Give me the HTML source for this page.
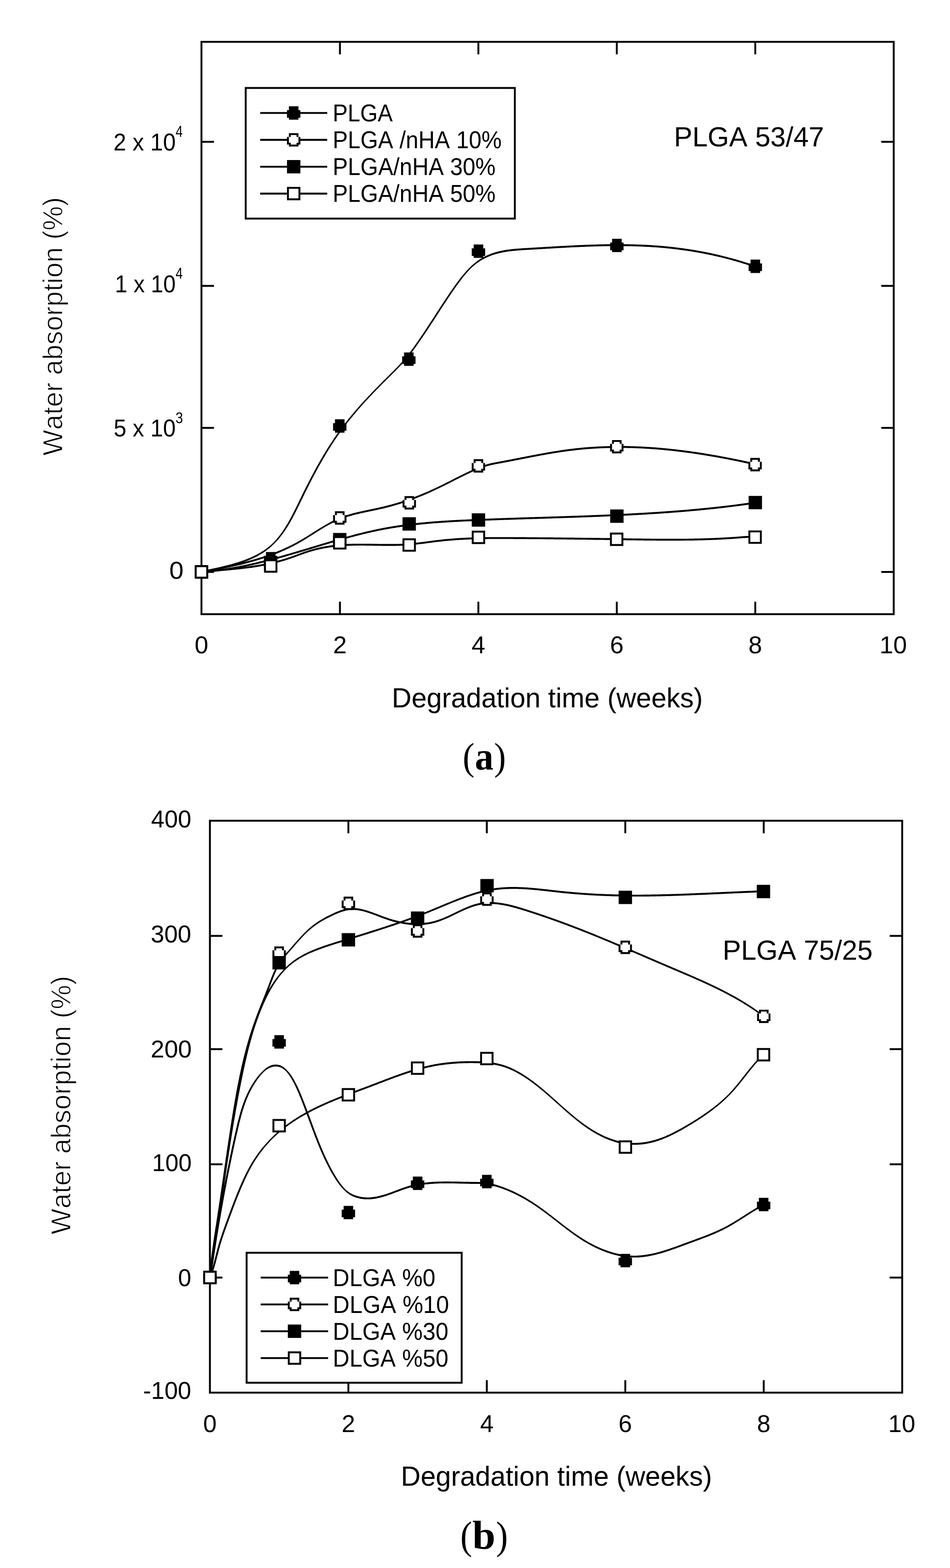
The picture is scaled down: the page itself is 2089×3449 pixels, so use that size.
<!DOCTYPE html>
<html><head><meta charset="utf-8"><title>Water absorption</title>
<style>
html,body{margin:0;padding:0;background:#fff;}
body{width:2089px;height:3449px;overflow:hidden;}
svg{display:block;}
text{font-kerning:none;fill:#000;}
</style></head>
<body>
<svg width="2089" height="3449" viewBox="0 0 2089 3449">
<rect width="2089" height="3449" fill="#fff"/>
<rect x="443.0" y="92.0" width="1522.25" height="1259.00" fill="none" stroke="#000" stroke-width="4.15"/>
<line x1="747.5" y1="1351.0" x2="747.5" y2="1323.5" stroke="#000" stroke-width="4.15"/>
<line x1="747.5" y1="92.0" x2="747.5" y2="119.5" stroke="#000" stroke-width="4.15"/>
<line x1="1051.9" y1="1351.0" x2="1051.9" y2="1323.5" stroke="#000" stroke-width="4.15"/>
<line x1="1051.9" y1="92.0" x2="1051.9" y2="119.5" stroke="#000" stroke-width="4.15"/>
<line x1="1356.3" y1="1351.0" x2="1356.3" y2="1323.5" stroke="#000" stroke-width="4.15"/>
<line x1="1356.3" y1="92.0" x2="1356.3" y2="119.5" stroke="#000" stroke-width="4.15"/>
<line x1="1660.8" y1="1351.0" x2="1660.8" y2="1323.5" stroke="#000" stroke-width="4.15"/>
<line x1="1660.8" y1="92.0" x2="1660.8" y2="119.5" stroke="#000" stroke-width="4.15"/>
<line x1="443.0" y1="311.9" x2="470.5" y2="311.9" stroke="#000" stroke-width="4.15"/>
<line x1="1965.2" y1="311.9" x2="1937.8" y2="311.9" stroke="#000" stroke-width="4.15"/>
<line x1="443.0" y1="628.8" x2="470.5" y2="628.8" stroke="#000" stroke-width="4.15"/>
<line x1="1965.2" y1="628.8" x2="1937.8" y2="628.8" stroke="#000" stroke-width="4.15"/>
<line x1="443.0" y1="941.2" x2="470.5" y2="941.2" stroke="#000" stroke-width="4.15"/>
<line x1="1965.2" y1="941.2" x2="1937.8" y2="941.2" stroke="#000" stroke-width="4.15"/>
<line x1="443.0" y1="1258.1" x2="470.5" y2="1258.1" stroke="#000" stroke-width="4.15"/>
<line x1="1965.2" y1="1258.1" x2="1937.8" y2="1258.1" stroke="#000" stroke-width="4.15"/>
<text transform="translate(249.47 330.60) scale(0.9339 1)" font-size="53.85" font-family="Liberation Sans, sans-serif" font-weight="normal">2 x 10</text>
<text transform="translate(386.36 300.80) scale(0.7866 1)" font-size="35.32" font-family="Liberation Sans, sans-serif" font-weight="normal">4</text>
<text transform="translate(252.76 643.00) scale(0.9087 1)" font-size="53.99" font-family="Liberation Sans, sans-serif" font-weight="normal">1 x 10</text>
<text transform="translate(386.36 613.30) scale(0.7866 1)" font-size="35.32" font-family="Liberation Sans, sans-serif" font-weight="normal">4</text>
<text transform="translate(249.99 959.80) scale(0.9253 1)" font-size="54.14" font-family="Liberation Sans, sans-serif" font-weight="normal">5 x 10</text>
<text transform="translate(385.88 930.50) scale(0.8347 1)" font-size="35.37" font-family="Liberation Sans, sans-serif" font-weight="normal">3</text>
<text transform="translate(372.29 1272.50) scale(1.0573 1)" font-size="53.42" font-family="Liberation Sans, sans-serif" font-weight="normal">0</text>
<text transform="translate(427.99 1437.30) scale(1.0000 1)" font-size="53.99" font-family="Liberation Sans, sans-serif" font-weight="normal">0</text>
<text transform="translate(732.44 1437.30) scale(1.0000 1)" font-size="53.99" font-family="Liberation Sans, sans-serif" font-weight="normal">2</text>
<text transform="translate(1037.06 1437.30) scale(1.0000 1)" font-size="53.99" font-family="Liberation Sans, sans-serif" font-weight="normal">4</text>
<text transform="translate(1341.15 1437.30) scale(1.0000 1)" font-size="53.99" font-family="Liberation Sans, sans-serif" font-weight="normal">6</text>
<text transform="translate(1645.79 1437.30) scale(1.0000 1)" font-size="53.99" font-family="Liberation Sans, sans-serif" font-weight="normal">8</text>
<text transform="translate(1934.22 1437.30) scale(1.0000 1)" font-size="53.99" font-family="Liberation Sans, sans-serif" font-weight="normal">10</text>
<text transform="translate(861.57 1555.70) scale(0.9813 1)" font-size="61.19" font-family="Liberation Sans, sans-serif" font-weight="normal">Degradation time (weeks)</text>
<text transform="translate(136.60 1002.26) rotate(-90) scale(0.9726 1)" font-size="61.92" font-family="Liberation Sans, sans-serif" stroke="#fff" stroke-width="1.3">Water absorption (%)</text>
<rect x="540.3" y="193.5" width="591.8" height="287.3" fill="#fff" stroke="#000" stroke-width="4.15"/>
<line x1="572.1" y1="248.5" x2="719.5" y2="248.5" stroke="#000" stroke-width="4.15"/>
<polygon points="635.3,233.8 656.3,233.8 656.3,242.2 660.5,242.2 660.5,259.0 656.3,259.0 656.3,263.2 635.3,263.2 635.3,259.0 631.1,259.0 631.1,242.2 635.3,242.2" fill="#000"/>
<line x1="572.1" y1="307.6" x2="719.5" y2="307.6" stroke="#000" stroke-width="4.15"/>
<polygon points="635.3,292.9 656.3,292.9 656.3,301.3 660.5,301.3 660.5,318.1 656.3,318.1 656.3,322.3 635.3,322.3 635.3,318.1 631.1,318.1 631.1,301.3 635.3,301.3" fill="#000"/><polygon points="639.5,297.1 652.1,297.1 652.1,301.3 656.3,301.3 656.3,313.9 652.1,313.9 652.1,318.1 639.5,318.1 639.5,313.9 635.3,313.9 635.3,301.3 639.5,301.3" fill="#fff"/>
<line x1="572.1" y1="366.7" x2="719.5" y2="366.7" stroke="#000" stroke-width="4.15"/>
<rect x="631.1" y="352.0" width="29.4" height="29.4" fill="#000"/>
<line x1="572.1" y1="425.8" x2="719.5" y2="425.8" stroke="#000" stroke-width="4.15"/>
<rect x="631.1" y="411.1" width="29.4" height="29.4" fill="#000"/><rect x="635.3" y="415.3" width="21.0" height="21.0" fill="#fff"/>
<text transform="translate(731.44 266.80) scale(0.9312 1)" font-size="53.20" font-family="Liberation Sans, sans-serif" font-weight="normal">PLGA</text>
<text transform="translate(731.40 325.90) scale(0.9385 1)" font-size="53.20" font-family="Liberation Sans, sans-serif" font-weight="normal">PLGA /nHA 10%</text>
<text transform="translate(731.40 385.00) scale(0.9395 1)" font-size="53.20" font-family="Liberation Sans, sans-serif" font-weight="normal">PLGA/nHA 30%</text>
<text transform="translate(731.40 444.10) scale(0.9395 1)" font-size="53.20" font-family="Liberation Sans, sans-serif" font-weight="normal">PLGA/nHA 50%</text>
<text transform="translate(1482.03 322.00) scale(1.0042 1)" font-size="60.32" font-family="Liberation Sans, sans-serif" font-weight="normal">PLGA 53/47</text>
<polygon points="443.0,1260.1 444.8,1259.7 446.6,1259.3 448.4,1259.0 450.3,1258.6 452.1,1258.2 454.0,1257.8 455.9,1257.4 457.7,1257.0 459.6,1256.6 461.5,1256.2 463.4,1255.8 465.4,1255.4 467.3,1255.0 469.2,1254.6 471.1,1254.2 473.1,1253.8 475.0,1253.3 477.0,1252.9 479.0,1252.5 480.9,1252.0 482.9,1251.6 484.9,1251.1 486.9,1250.7 488.8,1250.2 490.8,1249.7 492.8,1249.3 494.8,1248.8 496.8,1248.3 498.8,1247.8 500.8,1247.3 502.8,1246.7 504.8,1246.2 506.8,1245.7 508.8,1245.1 510.8,1244.6 512.8,1244.0 514.7,1243.4 516.7,1242.8 518.7,1242.2 520.7,1241.6 522.7,1241.0 524.6,1240.4 526.6,1239.7 528.6,1239.1 530.5,1238.4 532.5,1237.8 534.4,1237.1 536.4,1236.4 538.3,1235.7 540.2,1234.9 542.1,1234.2 544.0,1233.4 545.9,1232.7 547.8,1231.9 549.7,1231.1 551.6,1230.3 553.4,1229.4 555.3,1228.6 557.1,1227.8 558.9,1226.9 560.7,1226.0 562.5,1225.1 564.3,1224.2 566.1,1223.2 567.9,1222.3 569.6,1221.3 571.3,1220.3 573.1,1219.3 574.8,1218.3 576.4,1217.3 578.1,1216.2 579.8,1215.1 581.4,1214.0 583.0,1212.9 584.6,1211.8 586.2,1210.6 587.7,1209.5 589.3,1208.3 590.8,1207.0 592.3,1205.8 593.8,1204.6 595.3,1203.3 596.7,1202.0 598.1,1200.7 599.5,1199.3 600.9,1198.0 604.4,1194.6 605.7,1193.2 607.1,1191.8 608.4,1190.3 609.7,1188.9 611.0,1187.5 612.3,1186.0 613.6,1184.5 614.8,1183.0 616.0,1181.5 617.2,1180.0 618.4,1178.4 619.6,1176.9 620.8,1175.3 622.0,1173.7 623.1,1172.2 624.3,1170.6 625.4,1168.9 626.5,1167.3 627.6,1165.7 628.7,1164.0 629.8,1162.3 630.8,1160.7 631.9,1159.0 633.0,1157.3 634.0,1155.6 635.0,1153.9 636.0,1152.2 637.1,1150.4 638.1,1148.7 639.1,1146.9 640.0,1145.2 641.0,1143.4 642.0,1141.7 643.0,1139.9 643.9,1138.1 644.9,1136.3 645.8,1134.5 646.8,1132.7 647.7,1130.9 648.6,1129.1 649.6,1127.3 650.5,1125.5 651.4,1123.7 652.3,1121.9 653.2,1120.0 654.1,1118.2 655.0,1116.4 655.9,1114.6 656.8,1112.7 657.7,1110.9 658.6,1109.1 659.5,1107.2 660.4,1105.4 661.3,1103.5 662.2,1101.7 663.1,1099.9 664.0,1098.0 664.9,1096.2 665.8,1094.4 666.7,1092.5 667.6,1090.7 668.5,1088.9 669.3,1087.1 670.2,1085.2 671.1,1083.4 672.0,1081.6 672.9,1079.8 673.9,1078.0 674.8,1076.2 675.7,1074.4 676.6,1072.6 677.5,1070.7 678.4,1068.9 679.3,1067.1 680.2,1065.3 681.1,1063.5 682.1,1061.8 683.0,1060.0 683.9,1058.2 684.8,1056.4 685.7,1054.6 686.7,1052.8 687.6,1051.0 688.5,1049.3 689.5,1047.5 690.4,1045.7 691.4,1043.9 692.3,1042.2 693.2,1040.4 694.2,1038.6 695.1,1036.9 696.1,1035.1 697.0,1033.3 698.0,1031.6 699.0,1029.8 699.9,1028.1 700.9,1026.3 701.9,1024.6 702.8,1022.9 703.8,1021.1 704.8,1019.4 705.8,1017.6 706.8,1015.9 707.8,1014.2 708.7,1012.5 709.7,1010.7 710.7,1009.0 711.7,1007.3 712.8,1005.6 713.8,1003.9 714.8,1002.1 715.8,1000.4 716.8,998.7 717.8,997.0 718.9,995.3 719.9,993.6 720.9,991.9 722.0,990.3 723.0,988.6 724.1,986.9 725.1,985.2 726.2,983.5 727.3,981.8 728.3,980.2 729.4,978.5 730.5,976.8 731.6,975.2 732.6,973.5 733.7,971.9 734.8,970.2 735.9,968.5 737.0,966.9 738.1,965.3 739.3,963.6 740.4,962.0 741.5,960.3 742.6,958.7 743.8,957.1 744.9,955.4 746.0,953.8 747.2,952.2 748.4,950.6 749.5,949.0 750.7,947.4 751.9,945.8 753.0,944.2 754.2,942.6 755.4,941.0 756.6,939.4 757.8,937.8 759.0,936.2 760.2,934.6 761.4,933.0 762.7,931.5 763.9,929.9 765.1,928.3 766.4,926.7 767.6,925.2 768.8,923.6 770.1,922.1 771.4,920.5 772.6,919.0 773.9,917.4 775.2,915.9 776.4,914.3 777.7,912.8 779.0,911.3 780.3,909.7 781.6,908.2 782.9,906.7 784.2,905.1 785.5,903.6 786.8,902.1 788.1,900.6 789.4,899.1 790.7,897.6 792.1,896.1 793.4,894.5 794.7,893.0 796.1,891.5 797.4,890.1 798.7,888.6 800.1,887.1 801.4,885.6 802.8,884.1 804.1,882.6 805.5,881.1 806.9,879.6 808.2,878.2 809.6,876.7 811.0,875.2 812.3,873.8 813.7,872.3 815.1,870.8 816.5,869.4 817.8,867.9 819.2,866.5 820.6,865.0 822.0,863.6 823.4,862.1 824.8,860.7 826.2,859.2 827.6,857.8 829.0,856.3 830.4,854.9 831.8,853.5 833.2,852.0 834.6,850.6 836.0,849.2 837.4,847.7 838.8,846.3 840.2,844.9 841.7,843.5 843.1,842.0 844.5,840.6 843.8,841.3 845.2,839.9 846.7,838.5 848.1,837.0 849.5,835.6 850.9,834.2 852.3,832.8 853.8,831.4 855.2,830.0 856.6,828.6 858.0,827.2 859.4,825.8 860.9,824.4 862.3,823.0 863.7,821.6 867.2,818.1 868.6,816.7 870.0,815.3 871.4,813.8 872.8,812.4 874.2,811.0 875.5,809.6 876.9,808.2 878.3,806.7 879.7,805.3 881.0,803.8 882.4,802.4 883.7,800.9 885.1,799.5 886.4,798.0 887.7,796.5 889.1,795.1 890.4,793.6 891.7,792.1 893.0,790.6 894.3,789.1 895.5,787.6 896.8,786.0 898.1,784.5 899.3,783.0 900.5,781.4 901.8,779.8 903.0,778.3 904.2,776.7 905.4,775.1 906.6,773.5 907.8,771.9 909.0,770.3 910.1,768.7 911.3,767.1 912.5,765.5 913.6,763.9 914.8,762.3 915.9,760.7 917.1,759.0 918.2,757.4 919.4,755.8 920.5,754.1 921.7,752.5 922.8,750.9 923.9,749.2 925.1,747.6 926.2,745.9 927.3,744.3 928.5,742.6 929.6,741.0 930.7,739.3 931.8,737.7 932.9,736.0 934.0,734.4 935.2,732.7 936.3,731.0 937.4,729.4 938.5,727.7 939.6,726.0 940.7,724.4 941.8,722.7 942.9,721.0 944.0,719.3 945.1,717.7 946.2,716.0 947.3,714.3 948.4,712.6 949.5,711.0 950.6,709.3 951.7,707.6 952.8,705.9 953.9,704.3 955.0,702.6 956.1,700.9 957.1,699.2 958.2,697.5 959.3,695.8 960.4,694.2 961.5,692.5 962.6,690.8 963.7,689.1 964.8,687.4 965.9,685.7 966.9,684.1 968.0,682.4 969.1,680.7 970.2,679.0 971.3,677.3 972.4,675.7 973.5,674.0 974.6,672.3 975.7,670.6 976.8,668.9 977.9,667.3 979.0,665.6 980.1,663.9 981.2,662.2 982.3,660.5 983.4,658.9 984.5,657.2 985.6,655.5 986.7,653.9 987.8,652.2 988.9,650.5 990.1,648.9 991.2,647.2 992.3,645.5 993.5,643.9 994.6,642.2 995.7,640.5 996.9,638.9 998.0,637.2 999.2,635.6 1000.3,633.9 1001.5,632.3 1002.7,630.6 1003.8,629.0 1005.0,627.3 1006.2,625.7 1007.4,624.1 1008.6,622.4 1009.8,620.8 1011.0,619.2 1012.2,617.5 1013.4,615.9 1014.7,614.3 1015.9,612.7 1017.2,611.1 1018.4,609.5 1019.7,607.9 1021.0,606.4 1022.2,604.8 1023.5,603.3 1024.8,601.7 1026.2,600.2 1027.5,598.7 1028.8,597.2 1030.2,595.7 1031.5,594.3 1032.9,592.8 1034.3,591.4 1033.6,592.1 1035.0,590.7 1036.5,589.3 1037.9,587.9 1039.4,586.6 1040.8,585.3 1042.3,584.0 1043.8,582.8 1045.4,581.5 1046.9,580.3 1048.5,579.1 1050.1,578.0 1051.6,576.9 1053.3,575.8 1054.9,574.7 1056.5,573.6 1058.2,572.6 1059.9,571.6 1061.6,570.7 1063.3,569.7 1065.0,568.8 1066.8,567.9 1068.5,567.1 1070.3,566.2 1072.1,565.4 1073.9,564.7 1075.7,563.9 1077.6,563.2 1079.4,562.5 1081.2,561.8 1083.1,561.1 1085.0,560.5 1086.9,559.9 1088.8,559.3 1090.7,558.8 1092.6,558.2 1094.5,557.7 1096.4,557.2 1098.4,556.7 1100.3,556.3 1102.3,555.9 1104.2,555.5 1106.2,555.1 1108.1,554.7 1110.1,554.3 1112.1,554.0 1114.1,553.7 1116.1,553.4 1118.1,553.1 1120.1,552.9 1122.1,552.6 1124.1,552.4 1126.1,552.1 1128.1,551.9 1130.1,551.7 1132.1,551.5 1134.2,551.4 1136.2,551.2 1138.2,551.0 1140.2,550.9 1142.3,550.7 1144.3,550.6 1146.3,550.4 1148.4,550.3 1150.4,550.2 1152.4,550.1 1154.4,549.9 1156.5,549.8 1158.5,549.7 1160.5,549.6 1162.6,549.5 1164.6,549.4 1166.6,549.2 1168.6,549.1 1170.7,549.0 1172.7,548.9 1174.7,548.8 1176.7,548.7 1178.7,548.5 1180.7,548.4 1182.8,548.3 1184.8,548.2 1186.8,548.1 1188.8,548.0 1190.8,547.8 1192.8,547.7 1194.8,547.6 1196.8,547.5 1198.8,547.4 1200.8,547.2 1202.8,547.1 1204.8,547.0 1206.8,546.9 1208.8,546.8 1210.8,546.7 1212.8,546.5 1214.8,546.4 1216.8,546.3 1218.8,546.2 1220.8,546.1 1222.8,546.0 1224.8,545.8 1226.8,545.7 1228.8,545.6 1230.8,545.5 1232.8,545.4 1234.8,545.3 1236.8,545.2 1238.8,545.1 1240.7,545.0 1242.7,544.9 1244.7,544.8 1246.7,544.6 1248.7,544.5 1250.7,544.4 1252.7,544.3 1254.7,544.2 1256.7,544.1 1258.7,544.0 1260.6,543.9 1262.6,543.8 1264.6,543.8 1266.6,543.7 1268.6,543.6 1270.6,543.5 1272.6,543.4 1274.6,543.3 1276.6,543.2 1278.6,543.1 1280.5,543.0 1282.5,543.0 1284.5,542.9 1286.5,542.8 1288.5,542.7 1290.5,542.6 1292.5,542.6 1294.5,542.5 1296.5,542.4 1298.5,542.4 1300.5,542.3 1302.5,542.2 1304.5,542.2 1306.5,542.1 1308.5,542.0 1310.5,542.0 1312.5,541.9 1314.5,541.9 1316.5,541.8 1318.5,541.8 1320.5,541.7 1322.5,541.7 1324.5,541.6 1326.5,541.6 1328.5,541.6 1330.5,541.5 1332.5,541.5 1334.5,541.5 1336.5,541.4 1338.5,541.4 1340.5,541.4 1342.5,541.4 1344.5,541.3 1346.5,541.3 1348.5,541.3 1350.5,541.3 1352.5,541.3 1354.5,541.3 1356.5,541.3 1358.5,541.3 1360.5,541.3 1362.5,541.3 1364.5,541.3 1366.5,541.3 1368.5,541.3 1370.5,541.3 1372.5,541.3 1374.5,541.4 1376.5,541.4 1378.5,541.4 1380.6,541.5 1382.6,541.5 1384.6,541.5 1386.6,541.6 1388.6,541.6 1390.6,541.7 1392.6,541.7 1394.6,541.8 1396.6,541.8 1398.6,541.9 1400.6,541.9 1402.6,542.0 1404.6,542.1 1406.6,542.2 1408.6,542.2 1410.6,542.3 1412.6,542.4 1414.6,542.5 1416.6,542.6 1418.6,542.7 1420.6,542.8 1422.6,542.9 1424.6,543.0 1426.6,543.1 1428.6,543.2 1430.6,543.3 1432.6,543.5 1434.6,543.6 1436.7,543.7 1438.7,543.9 1440.7,544.0 1442.7,544.1 1444.7,544.3 1446.7,544.4 1448.7,544.6 1450.7,544.8 1452.7,544.9 1454.7,545.1 1456.6,545.3 1458.6,545.4 1460.6,545.6 1462.6,545.8 1464.6,546.0 1466.6,546.2 1468.6,546.4 1470.6,546.6 1472.6,546.8 1474.6,547.0 1476.6,547.2 1478.6,547.5 1480.6,547.7 1482.6,547.9 1484.6,548.2 1486.6,548.4 1488.6,548.6 1490.6,548.9 1492.5,549.1 1494.5,549.4 1496.5,549.7 1498.5,549.9 1500.5,550.2 1502.5,550.5 1504.5,550.7 1506.5,551.0 1508.4,551.3 1510.4,551.6 1512.4,551.9 1514.4,552.2 1516.4,552.5 1518.4,552.8 1520.3,553.1 1522.3,553.5 1524.3,553.8 1526.3,554.1 1528.3,554.4 1530.2,554.8 1532.2,555.1 1534.2,555.5 1536.2,555.8 1538.1,556.2 1540.1,556.5 1542.1,556.9 1544.0,557.3 1546.0,557.6 1548.0,558.0 1550.0,558.4 1551.9,558.8 1553.9,559.2 1555.8,559.6 1557.8,560.0 1559.8,560.4 1561.7,560.8 1563.7,561.2 1565.7,561.6 1567.6,562.1 1569.6,562.5 1571.5,562.9 1573.5,563.4 1575.4,563.8 1577.4,564.3 1579.3,564.7 1581.3,565.2 1583.2,565.6 1585.2,566.1 1587.1,566.6 1589.1,567.1 1591.0,567.5 1593.0,568.0 1594.9,568.5 1596.8,569.0 1598.8,569.5 1600.7,570.0 1602.6,570.5 1604.6,571.1 1606.5,571.6 1608.4,572.1 1610.4,572.6 1612.3,573.2 1614.2,573.7 1616.2,574.2 1618.1,574.8 1620.0,575.3 1621.9,575.9 1623.8,576.5 1625.8,577.0 1627.7,577.6 1629.6,578.2 1631.5,578.8 1633.4,579.4 1635.3,579.9 1637.2,580.5 1639.1,581.1 1641.0,581.7 1642.9,582.4 1644.8,583.0 1646.7,583.6 1648.6,584.2 1650.5,584.9 1652.4,585.5 1654.3,586.1 1656.2,586.8 1658.1,587.4 1660.0,588.1 1660.0,583.9 1658.1,583.3 1656.2,582.6 1654.3,582.0 1652.4,581.3 1650.5,580.7 1648.6,580.1 1646.7,579.4 1644.8,578.8 1642.9,578.2 1641.0,577.6 1639.1,577.0 1637.2,576.4 1635.3,575.8 1633.4,575.2 1631.5,574.6 1629.6,574.0 1627.7,573.4 1625.8,572.9 1623.8,572.3 1621.9,571.7 1620.0,571.2 1618.1,570.6 1616.2,570.1 1614.2,569.5 1612.3,569.0 1610.4,568.5 1608.4,567.9 1606.5,567.4 1604.6,566.9 1602.6,566.4 1600.7,565.9 1598.8,565.3 1596.8,564.8 1594.9,564.4 1593.0,563.9 1591.0,563.4 1589.1,562.9 1587.1,562.4 1585.2,561.9 1583.2,561.5 1581.3,561.0 1579.3,560.6 1577.4,560.1 1575.4,559.7 1573.5,559.2 1571.5,558.8 1569.6,558.3 1567.6,557.9 1565.7,557.5 1563.7,557.1 1561.7,556.6 1559.8,556.2 1557.8,555.8 1555.8,555.4 1553.9,555.0 1551.9,554.6 1550.0,554.2 1548.0,553.9 1546.0,553.5 1544.0,553.1 1542.1,552.7 1540.1,552.4 1538.1,552.0 1536.2,551.7 1534.2,551.3 1532.2,551.0 1530.2,550.6 1528.3,550.3 1526.3,549.9 1524.3,549.6 1522.3,549.3 1520.3,549.0 1518.4,548.7 1516.4,548.3 1514.4,548.0 1512.4,547.7 1510.4,547.4 1508.4,547.1 1506.5,546.9 1504.5,546.6 1502.5,546.3 1500.5,546.0 1498.5,545.7 1496.5,545.5 1494.5,545.2 1492.5,545.0 1490.6,544.7 1488.6,544.5 1486.6,544.2 1484.6,544.0 1482.6,543.7 1480.6,543.5 1478.6,543.3 1476.6,543.1 1474.6,542.9 1472.6,542.6 1470.6,542.4 1468.6,542.2 1466.6,542.0 1464.6,541.8 1462.6,541.6 1460.6,541.5 1458.6,541.3 1456.6,541.1 1454.7,540.9 1452.7,540.8 1450.7,540.6 1448.7,540.4 1446.7,540.3 1444.7,540.1 1442.7,540.0 1440.7,539.8 1438.7,539.7 1436.7,539.6 1434.6,539.4 1432.6,539.3 1430.6,539.2 1428.6,539.1 1426.6,538.9 1424.6,538.8 1422.6,538.7 1420.6,538.6 1418.6,538.5 1416.6,538.4 1414.6,538.3 1412.6,538.2 1410.6,538.2 1408.6,538.1 1406.6,538.0 1404.6,537.9 1402.6,537.8 1400.6,537.8 1398.6,537.7 1396.6,537.7 1394.6,537.6 1392.6,537.5 1390.6,537.5 1388.6,537.4 1386.6,537.4 1384.6,537.4 1382.6,537.3 1380.6,537.3 1378.5,537.3 1376.5,537.2 1374.5,537.2 1372.5,537.2 1370.5,537.2 1368.5,537.1 1366.5,537.1 1364.5,537.1 1362.5,537.1 1360.5,537.1 1358.5,537.1 1356.5,537.1 1354.5,537.1 1352.5,537.1 1350.5,537.1 1348.5,537.1 1346.5,537.1 1344.5,537.2 1342.5,537.2 1340.5,537.2 1338.5,537.2 1336.5,537.3 1334.5,537.3 1332.5,537.3 1330.5,537.3 1328.5,537.4 1326.5,537.4 1324.5,537.5 1322.5,537.5 1320.5,537.6 1318.5,537.6 1316.5,537.6 1314.5,537.7 1312.5,537.8 1310.5,537.8 1308.5,537.9 1306.5,537.9 1304.5,538.0 1302.5,538.1 1300.5,538.1 1298.5,538.2 1296.5,538.3 1294.5,538.3 1292.5,538.4 1290.5,538.5 1288.5,538.5 1286.5,538.6 1284.5,538.7 1282.5,538.8 1280.5,538.9 1278.6,539.0 1276.6,539.0 1274.6,539.1 1272.6,539.2 1270.6,539.3 1268.6,539.4 1266.6,539.5 1264.6,539.6 1262.6,539.7 1260.6,539.8 1258.7,539.9 1256.7,540.0 1254.7,540.1 1252.7,540.2 1250.7,540.3 1248.7,540.4 1246.7,540.5 1244.7,540.6 1242.7,540.7 1240.7,540.8 1238.8,540.9 1236.8,541.0 1234.8,541.1 1232.8,541.2 1230.8,541.3 1228.8,541.5 1226.8,541.6 1224.8,541.7 1222.8,541.8 1220.8,541.9 1218.8,542.0 1216.8,542.1 1214.8,542.3 1212.8,542.4 1210.8,542.5 1208.8,542.6 1206.8,542.7 1204.8,542.8 1202.8,543.0 1200.8,543.1 1198.8,543.2 1196.8,543.3 1194.8,543.4 1192.8,543.5 1190.8,543.7 1188.8,543.8 1186.8,543.9 1184.8,544.0 1182.8,544.1 1180.7,544.3 1178.7,544.4 1176.7,544.5 1174.7,544.6 1172.7,544.7 1170.7,544.8 1168.6,545.0 1166.6,545.1 1164.6,545.2 1162.6,545.3 1160.5,545.4 1158.5,545.5 1156.5,545.7 1154.4,545.8 1152.4,545.9 1150.4,546.0 1148.4,546.1 1146.3,546.3 1144.3,546.4 1142.3,546.6 1140.2,546.7 1138.2,546.9 1136.2,547.0 1134.2,547.2 1132.1,547.4 1130.1,547.6 1128.1,547.8 1126.1,548.0 1124.1,548.2 1122.1,548.4 1120.1,548.7 1118.1,549.0 1116.1,549.2 1114.1,549.5 1112.1,549.8 1110.1,550.2 1108.1,550.5 1106.2,550.9 1104.2,551.3 1102.3,551.7 1100.3,552.1 1098.4,552.6 1096.4,553.0 1094.5,553.5 1092.6,554.0 1090.7,554.6 1088.8,555.1 1086.9,555.7 1085.0,556.3 1083.1,557.0 1081.2,557.6 1079.4,558.3 1077.6,559.0 1075.7,559.7 1073.9,560.5 1072.1,561.3 1070.3,562.1 1068.5,562.9 1066.8,563.8 1065.0,564.7 1063.3,565.6 1061.6,566.5 1059.9,567.5 1058.2,568.4 1056.5,569.5 1054.9,570.5 1053.3,571.6 1051.6,572.7 1050.1,573.8 1048.5,575.0 1046.9,576.2 1045.4,577.4 1043.8,578.6 1042.3,579.9 1040.8,581.1 1039.4,582.5 1037.9,583.8 1036.5,585.1 1035.0,586.5 1033.6,587.9 1030.1,591.4 1028.7,592.8 1027.4,594.3 1026.0,595.7 1024.6,597.2 1023.3,598.7 1022.0,600.2 1020.7,601.7 1019.4,603.3 1018.1,604.8 1016.8,606.4 1015.5,607.9 1014.2,609.5 1013.0,611.1 1011.7,612.7 1010.5,614.3 1009.3,615.9 1008.1,617.5 1006.8,619.2 1005.6,620.8 1004.4,622.4 1003.2,624.1 1002.0,625.7 1000.9,627.3 999.7,629.0 998.5,630.6 997.3,632.3 996.2,633.9 995.0,635.6 993.9,637.2 992.7,638.9 991.6,640.5 990.4,642.2 989.3,643.9 988.1,645.5 987.0,647.2 985.9,648.9 984.8,650.5 983.6,652.2 982.5,653.9 981.4,655.5 980.3,657.2 979.2,658.9 978.1,660.5 977.0,662.2 975.9,663.9 974.8,665.6 973.7,667.3 972.6,668.9 971.5,670.6 970.4,672.3 969.3,674.0 968.2,675.7 967.1,677.3 966.0,679.0 965.0,680.7 963.9,682.4 962.8,684.1 961.7,685.7 960.6,687.4 959.5,689.1 958.4,690.8 957.3,692.5 956.2,694.2 955.2,695.8 954.1,697.5 953.0,699.2 951.9,700.9 950.8,702.6 949.7,704.3 948.6,705.9 947.5,707.6 946.4,709.3 945.3,711.0 944.2,712.6 943.1,714.3 942.0,716.0 940.9,717.7 939.8,719.3 938.7,721.0 937.6,722.7 936.5,724.4 935.4,726.0 934.3,727.7 933.2,729.4 932.1,731.0 931.0,732.7 929.9,734.4 928.8,736.0 927.6,737.7 926.5,739.3 925.4,741.0 924.3,742.6 923.2,744.3 922.0,745.9 920.9,747.6 919.8,749.2 918.6,750.9 917.5,752.5 916.4,754.1 915.2,755.8 914.1,757.4 912.9,759.0 911.8,760.7 910.6,762.3 909.5,763.9 908.3,765.5 907.1,767.1 906.0,768.7 904.8,770.3 903.6,771.9 902.4,773.5 901.2,775.1 900.0,776.7 898.8,778.3 897.6,779.8 896.4,781.4 895.1,783.0 893.9,784.5 892.6,786.0 891.4,787.6 890.1,789.1 888.8,790.6 887.5,792.1 886.2,793.6 884.9,795.1 883.6,796.5 882.2,798.0 880.9,799.5 879.6,800.9 878.2,802.4 876.9,803.8 875.5,805.3 874.1,806.7 872.8,808.2 871.4,809.6 870.0,811.0 868.6,812.4 867.2,813.8 865.8,815.3 864.4,816.7 863.0,818.1 863.7,817.4 862.3,818.8 860.9,820.2 859.4,821.6 858.0,823.0 856.6,824.4 855.2,825.8 853.8,827.3 852.3,828.7 850.9,830.1 849.5,831.5 848.1,832.9 846.7,834.3 845.2,835.7 843.8,837.1 840.3,840.6 838.9,842.0 837.5,843.5 836.1,844.9 834.7,846.3 833.2,847.7 831.8,849.2 830.4,850.6 829.0,852.0 827.6,853.5 826.2,854.9 824.8,856.3 823.4,857.8 822.0,859.2 820.6,860.7 819.2,862.1 817.8,863.6 816.4,865.0 815.1,866.5 813.7,867.9 812.3,869.4 810.9,870.8 809.5,872.3 808.2,873.8 806.8,875.2 805.4,876.7 804.1,878.2 802.7,879.6 801.3,881.1 800.0,882.6 798.6,884.1 797.3,885.6 795.9,887.1 794.6,888.6 793.2,890.1 791.9,891.5 790.6,893.0 789.2,894.5 787.9,896.1 786.6,897.6 785.3,899.1 783.9,900.6 782.6,902.1 781.3,903.6 780.0,905.1 778.7,906.7 777.4,908.2 776.1,909.7 774.8,911.3 773.5,912.8 772.3,914.3 771.0,915.9 769.7,917.4 768.4,919.0 767.2,920.5 765.9,922.1 764.7,923.6 763.4,925.2 762.2,926.7 761.0,928.3 759.7,929.9 758.5,931.5 757.3,933.0 756.1,934.6 754.8,936.2 753.6,937.8 752.4,939.4 751.2,941.0 750.0,942.6 748.9,944.2 747.7,945.8 746.5,947.4 745.3,949.0 744.2,950.6 743.0,952.2 741.9,953.8 740.7,955.4 739.6,957.1 738.5,958.7 737.3,960.3 736.2,962.0 735.1,963.6 734.0,965.3 732.9,966.9 731.8,968.5 730.7,970.2 729.6,971.9 728.5,973.5 727.4,975.2 726.3,976.8 725.2,978.5 724.2,980.2 723.1,981.8 722.0,983.5 721.0,985.2 719.9,986.9 718.9,988.6 717.8,990.3 716.8,991.9 715.7,993.6 714.7,995.3 713.7,997.0 712.6,998.7 711.6,1000.4 710.6,1002.1 709.6,1003.9 708.6,1005.6 707.6,1007.3 706.6,1009.0 705.6,1010.7 704.6,1012.5 703.6,1014.2 702.6,1015.9 701.6,1017.6 700.6,1019.4 699.6,1021.1 698.7,1022.9 697.7,1024.6 696.7,1026.3 695.8,1028.1 694.8,1029.8 693.8,1031.6 692.9,1033.3 691.9,1035.1 691.0,1036.9 690.0,1038.6 689.1,1040.4 688.1,1042.2 687.2,1043.9 686.2,1045.7 685.3,1047.5 684.4,1049.3 683.4,1051.0 682.5,1052.8 681.6,1054.6 680.7,1056.4 679.7,1058.2 678.8,1060.0 677.9,1061.8 677.0,1063.5 676.1,1065.3 675.1,1067.1 674.2,1068.9 673.3,1070.7 672.4,1072.6 671.5,1074.4 670.6,1076.2 669.7,1078.0 668.8,1079.8 667.9,1081.6 667.0,1083.4 666.1,1085.2 665.2,1087.1 664.3,1088.9 663.4,1090.7 662.5,1092.5 661.6,1094.4 660.7,1096.2 659.8,1098.0 658.9,1099.9 658.0,1101.7 657.1,1103.5 656.2,1105.4 655.4,1107.2 654.5,1109.1 653.6,1110.9 652.7,1112.7 651.8,1114.6 650.9,1116.4 650.0,1118.2 649.1,1120.0 648.1,1121.9 647.2,1123.7 646.3,1125.5 645.4,1127.3 644.5,1129.1 643.5,1130.9 642.6,1132.7 641.7,1134.5 640.7,1136.3 639.8,1138.1 638.8,1139.9 637.8,1141.7 636.9,1143.4 635.9,1145.2 634.9,1146.9 633.9,1148.7 632.9,1150.4 631.9,1152.2 630.9,1153.9 629.8,1155.6 628.8,1157.3 627.7,1159.0 626.7,1160.7 625.6,1162.3 624.5,1164.0 623.4,1165.7 622.3,1167.3 621.2,1168.9 620.1,1170.6 619.0,1172.2 617.8,1173.7 616.6,1175.3 615.5,1176.9 614.3,1178.4 613.1,1180.0 611.9,1181.5 610.6,1183.0 609.4,1184.5 608.1,1186.0 606.8,1187.5 605.6,1188.9 604.2,1190.3 602.9,1191.8 601.6,1193.2 600.2,1194.6 600.9,1193.8 599.5,1195.2 598.1,1196.5 596.7,1197.8 595.3,1199.1 593.8,1200.4 592.3,1201.6 590.8,1202.9 589.3,1204.1 587.7,1205.3 586.2,1206.5 584.6,1207.6 583.0,1208.7 581.4,1209.9 579.8,1211.0 578.1,1212.0 576.4,1213.1 574.8,1214.1 573.1,1215.2 571.3,1216.2 569.6,1217.1 567.9,1218.1 566.1,1219.1 564.3,1220.0 562.5,1220.9 560.7,1221.8 558.9,1222.7 557.1,1223.6 555.3,1224.4 553.4,1225.3 551.6,1226.1 549.7,1226.9 547.8,1227.7 545.9,1228.5 544.0,1229.3 542.1,1230.0 540.2,1230.8 538.3,1231.5 536.4,1232.2 534.4,1232.9 532.5,1233.6 530.5,1234.3 528.6,1234.9 526.6,1235.6 524.6,1236.2 522.7,1236.8 520.7,1237.5 518.7,1238.1 516.7,1238.7 514.7,1239.2 512.8,1239.8 510.8,1240.4 508.8,1240.9 506.8,1241.5 504.8,1242.0 502.8,1242.6 500.8,1243.1 498.8,1243.6 496.8,1244.1 494.8,1244.6 492.8,1245.1 490.8,1245.6 488.8,1246.0 486.9,1246.5 484.9,1247.0 482.9,1247.4 480.9,1247.9 479.0,1248.3 477.0,1248.7 475.0,1249.2 473.1,1249.6 471.1,1250.0 469.2,1250.4 467.3,1250.8 465.4,1251.3 463.4,1251.7 461.5,1252.1 459.6,1252.5 457.7,1252.9 455.9,1253.2 454.0,1253.6 452.1,1254.0 450.3,1254.4 448.4,1254.8 446.6,1255.2 444.8,1255.5 443.0,1255.9" fill="#000"/>
<polygon points="443.0,1260.1 445.0,1259.7 446.9,1259.4 448.9,1259.0 450.8,1258.6 452.8,1258.3 454.8,1257.9 456.7,1257.6 458.7,1257.2 460.6,1256.8 462.6,1256.5 464.6,1256.1 466.5,1255.7 468.5,1255.3 470.5,1255.0 472.4,1254.6 474.4,1254.2 476.3,1253.8 478.3,1253.4 480.3,1253.1 482.2,1252.7 484.2,1252.3 486.2,1251.9 488.1,1251.5 490.1,1251.1 492.0,1250.7 494.0,1250.3 496.0,1249.9 497.9,1249.5 499.9,1249.0 501.8,1248.6 503.8,1248.2 505.8,1247.8 507.7,1247.3 509.7,1246.9 511.6,1246.5 513.6,1246.0 515.5,1245.6 517.5,1245.1 519.4,1244.7 521.4,1244.2 523.3,1243.8 525.3,1243.3 527.2,1242.9 529.2,1242.4 531.1,1241.9 533.1,1241.4 535.0,1240.9 536.9,1240.4 538.9,1239.9 540.8,1239.4 542.7,1238.9 544.7,1238.4 546.6,1237.9 548.5,1237.4 550.5,1236.9 552.4,1236.3 554.3,1235.8 556.2,1235.3 558.2,1234.7 560.1,1234.2 562.0,1233.6 563.9,1233.0 565.8,1232.5 567.7,1231.9 569.6,1231.3 571.5,1230.7 573.4,1230.1 575.3,1229.5 577.2,1228.9 579.1,1228.3 581.0,1227.6 582.9,1227.0 584.8,1226.4 586.7,1225.7 588.6,1225.1 590.5,1224.4 592.3,1223.8 594.2,1223.1 596.1,1222.4 597.9,1221.7 599.8,1221.0 601.7,1220.3 603.5,1219.6 605.4,1218.9 607.2,1218.2 609.1,1217.4 610.9,1216.7 612.8,1215.9 614.6,1215.2 616.5,1214.4 618.3,1213.6 620.1,1212.8 621.9,1212.1 623.8,1211.3 625.6,1210.4 627.4,1209.6 629.2,1208.8 631.0,1208.0 632.8,1207.1 634.6,1206.3 636.4,1205.4 638.2,1204.5 640.0,1203.6 641.8,1202.7 643.6,1201.8 645.3,1200.9 647.1,1200.0 648.9,1199.1 650.6,1198.1 652.4,1197.2 654.1,1196.2 655.9,1195.2 657.6,1194.3 659.4,1193.3 661.1,1192.3 662.8,1191.3 664.6,1190.2 666.3,1189.2 668.0,1188.2 669.7,1187.1 671.4,1186.1 673.2,1185.0 674.9,1184.0 676.6,1182.9 678.3,1181.8 680.0,1180.8 681.7,1179.7 683.4,1178.6 685.1,1177.5 686.8,1176.5 688.5,1175.4 690.2,1174.3 691.9,1173.2 693.6,1172.2 695.3,1171.1 697.0,1170.0 698.7,1168.9 700.4,1167.9 702.1,1166.8 703.8,1165.8 705.5,1164.7 707.3,1163.7 709.0,1162.6 710.7,1161.6 712.4,1160.6 714.1,1159.5 715.9,1158.5 717.6,1157.5 719.3,1156.6 721.1,1155.6 722.8,1154.6 724.6,1153.7 726.3,1152.7 728.1,1151.8 729.8,1150.9 731.6,1150.0 733.4,1149.1 735.2,1148.2 737.0,1147.4 738.8,1146.5 740.6,1145.7 742.4,1144.9 744.2,1144.1 746.0,1143.3 747.9,1142.6 749.7,1141.9 751.6,1141.1 753.4,1140.4 755.3,1139.8 757.2,1139.1 759.0,1138.5 760.9,1137.8 762.8,1137.2 764.7,1136.6 766.6,1136.0 768.5,1135.5 770.4,1134.9 772.3,1134.4 774.3,1133.8 776.2,1133.3 778.1,1132.8 780.1,1132.3 782.0,1131.8 784.0,1131.3 785.9,1130.9 787.9,1130.4 789.8,1129.9 791.8,1129.5 793.7,1129.0 795.7,1128.6 797.7,1128.2 799.6,1127.7 801.6,1127.3 803.6,1126.9 805.6,1126.5 807.5,1126.1 809.5,1125.7 811.5,1125.2 813.5,1124.8 815.4,1124.4 817.4,1124.0 819.4,1123.6 821.4,1123.2 823.3,1122.8 825.3,1122.3 827.3,1121.9 829.3,1121.5 831.2,1121.1 833.2,1120.6 835.2,1120.2 837.1,1119.8 839.1,1119.3 841.0,1118.9 843.0,1118.4 845.0,1117.9 846.9,1117.4 848.9,1117.0 850.8,1116.5 852.7,1116.0 854.7,1115.5 856.6,1114.9 858.6,1114.4 860.5,1113.9 862.4,1113.4 864.3,1112.8 866.3,1112.3 868.2,1111.7 870.1,1111.2 872.0,1110.6 873.9,1110.0 875.8,1109.4 877.8,1108.9 879.7,1108.3 881.6,1107.7 883.5,1107.1 885.4,1106.4 887.3,1105.8 889.2,1105.2 891.0,1104.6 892.9,1103.9 894.8,1103.3 896.7,1102.6 898.6,1102.0 900.5,1101.3 902.4,1100.6 904.2,1099.9 906.1,1099.3 908.0,1098.6 909.8,1097.9 911.7,1097.2 913.6,1096.5 915.4,1095.7 917.3,1095.0 919.2,1094.3 921.0,1093.5 922.9,1092.8 924.7,1092.1 926.6,1091.3 928.4,1090.5 930.3,1089.8 932.1,1089.0 933.9,1088.2 935.8,1087.4 937.6,1086.6 939.5,1085.9 941.3,1085.1 943.1,1084.2 944.9,1083.4 946.8,1082.6 948.6,1081.8 950.4,1080.9 952.2,1080.1 954.1,1079.3 955.9,1078.4 957.7,1077.6 959.5,1076.7 961.3,1075.8 963.1,1075.0 965.0,1074.1 966.8,1073.2 968.6,1072.3 970.4,1071.5 972.2,1070.6 974.0,1069.7 975.8,1068.8 977.6,1067.9 979.4,1067.0 981.2,1066.1 983.0,1065.2 984.8,1064.3 986.6,1063.4 988.4,1062.5 990.2,1061.5 992.0,1060.6 993.8,1059.7 995.6,1058.8 997.3,1057.9 999.1,1057.0 1000.9,1056.1 1002.7,1055.2 1004.5,1054.3 1006.3,1053.4 1008.1,1052.5 1009.9,1051.6 1011.7,1050.7 1013.5,1049.8 1015.3,1048.9 1017.1,1048.0 1018.8,1047.2 1020.6,1046.3 1022.4,1045.4 1024.2,1044.5 1026.0,1043.7 1027.8,1042.8 1029.6,1041.9 1031.4,1041.1 1033.2,1040.3 1035.0,1039.4 1036.8,1038.6 1038.6,1037.8 1040.4,1036.9 1042.2,1036.1 1044.0,1035.4 1045.8,1034.6 1047.6,1033.8 1049.4,1033.0 1051.2,1032.3 1053.1,1031.6 1054.9,1030.9 1056.7,1030.2 1058.6,1029.5 1060.4,1028.8 1062.3,1028.2 1064.1,1027.5 1066.0,1026.9 1067.9,1026.3 1069.8,1025.8 1071.6,1025.2 1073.5,1024.7 1075.4,1024.2 1077.3,1023.7 1079.3,1023.3 1081.2,1022.8 1083.1,1022.4 1085.1,1022.0 1087.0,1021.6 1089.0,1021.2 1090.9,1020.8 1092.9,1020.5 1094.8,1020.1 1096.8,1019.7 1098.8,1019.4 1100.7,1019.0 1102.7,1018.7 1104.6,1018.3 1106.6,1017.9 1108.6,1017.6 1110.5,1017.2 1112.5,1016.8 1114.5,1016.4 1116.4,1016.1 1118.4,1015.7 1120.4,1015.3 1122.3,1014.9 1124.3,1014.5 1126.3,1014.2 1128.2,1013.8 1130.2,1013.4 1132.2,1013.0 1134.1,1012.6 1136.1,1012.2 1138.1,1011.9 1140.0,1011.5 1142.0,1011.1 1144.0,1010.7 1146.0,1010.3 1147.9,1009.9 1149.9,1009.5 1151.9,1009.2 1153.8,1008.8 1155.8,1008.4 1157.8,1008.0 1159.8,1007.6 1161.7,1007.2 1163.7,1006.8 1165.7,1006.5 1167.7,1006.1 1169.6,1005.7 1171.6,1005.3 1173.6,1004.9 1175.6,1004.6 1177.6,1004.2 1179.5,1003.8 1181.5,1003.4 1183.5,1003.1 1185.5,1002.7 1187.4,1002.3 1189.4,1002.0 1191.4,1001.6 1193.4,1001.3 1195.4,1000.9 1197.3,1000.5 1199.3,1000.2 1201.3,999.8 1203.3,999.5 1205.3,999.1 1207.3,998.8 1209.2,998.4 1211.2,998.1 1213.2,997.8 1215.2,997.4 1217.2,997.1 1219.2,996.8 1221.1,996.5 1223.1,996.1 1225.1,995.8 1227.1,995.5 1229.1,995.2 1231.1,994.9 1233.0,994.6 1235.0,994.3 1237.0,994.0 1239.0,993.7 1241.0,993.5 1243.0,993.2 1245.0,992.9 1247.0,992.6 1248.9,992.4 1250.9,992.1 1252.9,991.9 1254.9,991.6 1256.9,991.4 1258.9,991.1 1260.9,990.9 1262.9,990.7 1264.9,990.4 1266.9,990.2 1268.8,990.0 1270.8,989.8 1272.8,989.6 1274.8,989.4 1276.8,989.2 1278.8,989.0 1280.8,988.8 1282.8,988.6 1284.8,988.5 1286.8,988.3 1288.8,988.1 1290.8,988.0 1292.8,987.8 1294.8,987.6 1296.7,987.5 1298.7,987.4 1300.7,987.2 1302.7,987.1 1304.7,987.0 1306.7,986.8 1308.7,986.7 1310.7,986.6 1312.7,986.5 1314.7,986.4 1316.7,986.3 1318.7,986.2 1320.7,986.1 1322.7,986.0 1324.7,985.9 1326.7,985.9 1328.7,985.8 1330.7,985.7 1332.7,985.6 1334.7,985.6 1336.7,985.5 1338.7,985.5 1340.7,985.4 1342.6,985.4 1344.6,985.4 1346.6,985.3 1348.6,985.3 1350.6,985.3 1352.6,985.2 1354.6,985.2 1356.6,985.2 1358.6,985.2 1360.6,985.2 1362.6,985.2 1364.6,985.2 1366.6,985.2 1368.6,985.2 1370.6,985.2 1372.6,985.3 1374.6,985.3 1376.6,985.3 1378.6,985.4 1380.6,985.4 1382.6,985.4 1384.6,985.5 1386.6,985.5 1388.6,985.6 1390.6,985.6 1392.6,985.7 1394.6,985.8 1396.6,985.8 1398.6,985.9 1400.6,986.0 1402.6,986.1 1404.6,986.2 1406.6,986.2 1408.6,986.3 1410.6,986.4 1412.6,986.5 1414.5,986.6 1416.5,986.7 1418.5,986.9 1420.5,987.0 1422.5,987.1 1424.5,987.2 1426.5,987.3 1428.5,987.5 1430.5,987.6 1432.5,987.7 1434.5,987.9 1436.5,988.0 1438.5,988.2 1440.5,988.3 1442.5,988.5 1444.5,988.6 1446.5,988.8 1448.5,988.9 1450.5,989.1 1452.5,989.3 1454.5,989.5 1456.5,989.6 1458.4,989.8 1460.4,990.0 1462.4,990.2 1464.4,990.4 1466.4,990.6 1468.4,990.8 1470.4,991.0 1472.4,991.2 1474.4,991.4 1476.4,991.6 1478.4,991.8 1480.4,992.0 1482.4,992.3 1484.3,992.5 1486.3,992.7 1488.3,992.9 1490.3,993.2 1492.3,993.4 1494.3,993.7 1496.3,993.9 1498.3,994.1 1500.3,994.4 1502.3,994.6 1504.2,994.9 1506.2,995.2 1508.2,995.4 1510.2,995.7 1512.2,996.0 1514.2,996.2 1516.2,996.5 1518.1,996.8 1520.1,997.0 1522.1,997.3 1524.1,997.6 1526.1,997.9 1528.1,998.2 1530.1,998.5 1532.0,998.8 1534.0,999.1 1536.0,999.4 1538.0,999.7 1540.0,1000.0 1542.0,1000.3 1543.9,1000.6 1545.9,1000.9 1547.9,1001.2 1549.9,1001.6 1551.9,1001.9 1553.8,1002.2 1555.8,1002.5 1557.8,1002.9 1559.8,1003.2 1561.7,1003.5 1563.7,1003.9 1565.7,1004.2 1567.7,1004.5 1569.7,1004.9 1571.6,1005.2 1573.6,1005.6 1575.6,1005.9 1577.6,1006.3 1579.5,1006.6 1581.5,1007.0 1583.5,1007.4 1585.4,1007.7 1587.4,1008.1 1589.4,1008.5 1591.4,1008.8 1593.3,1009.2 1595.3,1009.6 1597.3,1010.0 1599.2,1010.3 1601.2,1010.7 1603.2,1011.1 1605.1,1011.5 1607.1,1011.9 1609.1,1012.3 1611.0,1012.7 1613.0,1013.1 1615.0,1013.4 1616.9,1013.8 1618.9,1014.2 1620.9,1014.6 1622.8,1015.1 1624.8,1015.5 1626.7,1015.9 1628.7,1016.3 1630.7,1016.7 1632.6,1017.1 1634.6,1017.5 1636.5,1017.9 1638.5,1018.4 1640.5,1018.8 1642.4,1019.2 1644.4,1019.6 1646.3,1020.1 1648.3,1020.5 1650.2,1020.9 1652.2,1021.3 1654.1,1021.8 1656.1,1022.2 1658.0,1022.6 1660.0,1023.1 1660.0,1018.9 1658.0,1018.5 1656.1,1018.0 1654.1,1017.6 1652.2,1017.2 1650.2,1016.7 1648.3,1016.3 1646.3,1015.9 1644.4,1015.5 1642.4,1015.0 1640.5,1014.6 1638.5,1014.2 1636.5,1013.8 1634.6,1013.3 1632.6,1012.9 1630.7,1012.5 1628.7,1012.1 1626.7,1011.7 1624.8,1011.3 1622.8,1010.9 1620.9,1010.5 1618.9,1010.1 1616.9,1009.7 1615.0,1009.3 1613.0,1008.9 1611.0,1008.5 1609.1,1008.1 1607.1,1007.7 1605.1,1007.3 1603.2,1006.9 1601.2,1006.6 1599.2,1006.2 1597.3,1005.8 1595.3,1005.4 1593.3,1005.0 1591.4,1004.7 1589.4,1004.3 1587.4,1003.9 1585.4,1003.6 1583.5,1003.2 1581.5,1002.8 1579.5,1002.5 1577.6,1002.1 1575.6,1001.8 1573.6,1001.4 1571.6,1001.1 1569.7,1000.7 1567.7,1000.4 1565.7,1000.0 1563.7,999.7 1561.7,999.4 1559.8,999.0 1557.8,998.7 1555.8,998.4 1553.8,998.0 1551.9,997.7 1549.9,997.4 1547.9,997.1 1545.9,996.8 1543.9,996.4 1542.0,996.1 1540.0,995.8 1538.0,995.5 1536.0,995.2 1534.0,994.9 1532.0,994.6 1530.1,994.3 1528.1,994.0 1526.1,993.7 1524.1,993.4 1522.1,993.2 1520.1,992.9 1518.1,992.6 1516.2,992.3 1514.2,992.1 1512.2,991.8 1510.2,991.5 1508.2,991.3 1506.2,991.0 1504.2,990.7 1502.3,990.5 1500.3,990.2 1498.3,990.0 1496.3,989.7 1494.3,989.5 1492.3,989.2 1490.3,989.0 1488.3,988.8 1486.3,988.5 1484.3,988.3 1482.4,988.1 1480.4,987.9 1478.4,987.7 1476.4,987.4 1474.4,987.2 1472.4,987.0 1470.4,986.8 1468.4,986.6 1466.4,986.4 1464.4,986.2 1462.4,986.0 1460.4,985.8 1458.4,985.7 1456.5,985.5 1454.5,985.3 1452.5,985.1 1450.5,984.9 1448.5,984.8 1446.5,984.6 1444.5,984.5 1442.5,984.3 1440.5,984.1 1438.5,984.0 1436.5,983.8 1434.5,983.7 1432.5,983.6 1430.5,983.4 1428.5,983.3 1426.5,983.2 1424.5,983.0 1422.5,982.9 1420.5,982.8 1418.5,982.7 1416.5,982.6 1414.5,982.5 1412.6,982.4 1410.6,982.3 1408.6,982.2 1406.6,982.1 1404.6,982.0 1402.6,981.9 1400.6,981.8 1398.6,981.7 1396.6,981.7 1394.6,981.6 1392.6,981.5 1390.6,981.5 1388.6,981.4 1386.6,981.4 1384.6,981.3 1382.6,981.3 1380.6,981.2 1378.6,981.2 1376.6,981.2 1374.6,981.1 1372.6,981.1 1370.6,981.1 1368.6,981.1 1366.6,981.0 1364.6,981.0 1362.6,981.0 1360.6,981.0 1358.6,981.0 1356.6,981.0 1354.6,981.1 1352.6,981.1 1350.6,981.1 1348.6,981.1 1346.6,981.2 1344.6,981.2 1342.6,981.2 1340.7,981.3 1338.7,981.3 1336.7,981.4 1334.7,981.4 1332.7,981.5 1330.7,981.5 1328.7,981.6 1326.7,981.7 1324.7,981.8 1322.7,981.8 1320.7,981.9 1318.7,982.0 1316.7,982.1 1314.7,982.2 1312.7,982.3 1310.7,982.4 1308.7,982.5 1306.7,982.7 1304.7,982.8 1302.7,982.9 1300.7,983.0 1298.7,983.2 1296.7,983.3 1294.8,983.5 1292.8,983.6 1290.8,983.8 1288.8,983.9 1286.8,984.1 1284.8,984.3 1282.8,984.5 1280.8,984.6 1278.8,984.8 1276.8,985.0 1274.8,985.2 1272.8,985.4 1270.8,985.6 1268.8,985.8 1266.9,986.0 1264.9,986.3 1262.9,986.5 1260.9,986.7 1258.9,986.9 1256.9,987.2 1254.9,987.4 1252.9,987.7 1250.9,987.9 1248.9,988.2 1247.0,988.5 1245.0,988.7 1243.0,989.0 1241.0,989.3 1239.0,989.6 1237.0,989.9 1235.0,990.1 1233.0,990.4 1231.1,990.7 1229.1,991.0 1227.1,991.4 1225.1,991.7 1223.1,992.0 1221.1,992.3 1219.2,992.6 1217.2,992.9 1215.2,993.3 1213.2,993.6 1211.2,993.9 1209.2,994.3 1207.3,994.6 1205.3,995.0 1203.3,995.3 1201.3,995.7 1199.3,996.0 1197.3,996.4 1195.4,996.7 1193.4,997.1 1191.4,997.4 1189.4,997.8 1187.4,998.2 1185.5,998.5 1183.5,998.9 1181.5,999.3 1179.5,999.7 1177.6,1000.0 1175.6,1000.4 1173.6,1000.8 1171.6,1001.2 1169.6,1001.5 1167.7,1001.9 1165.7,1002.3 1163.7,1002.7 1161.7,1003.1 1159.8,1003.4 1157.8,1003.8 1155.8,1004.2 1153.8,1004.6 1151.9,1005.0 1149.9,1005.4 1147.9,1005.8 1146.0,1006.1 1144.0,1006.5 1142.0,1006.9 1140.0,1007.3 1138.1,1007.7 1136.1,1008.1 1134.1,1008.5 1132.2,1008.8 1130.2,1009.2 1128.2,1009.6 1126.3,1010.0 1124.3,1010.4 1122.3,1010.8 1120.4,1011.1 1118.4,1011.5 1116.4,1011.9 1114.5,1012.3 1112.5,1012.6 1110.5,1013.0 1108.6,1013.4 1106.6,1013.8 1104.6,1014.1 1102.7,1014.5 1100.7,1014.8 1098.8,1015.2 1096.8,1015.6 1094.8,1015.9 1092.9,1016.3 1090.9,1016.7 1089.0,1017.0 1087.0,1017.4 1085.1,1017.8 1083.1,1018.2 1081.2,1018.6 1079.3,1019.1 1077.3,1019.5 1075.4,1020.0 1073.5,1020.5 1071.6,1021.0 1069.8,1021.6 1067.9,1022.2 1066.0,1022.8 1064.1,1023.4 1062.3,1024.0 1060.4,1024.6 1058.6,1025.3 1056.7,1026.0 1054.9,1026.7 1053.1,1027.4 1051.2,1028.1 1049.4,1028.9 1047.6,1029.6 1045.8,1030.4 1044.0,1031.2 1042.2,1032.0 1040.4,1032.8 1038.6,1033.6 1036.8,1034.4 1035.0,1035.2 1033.2,1036.1 1031.4,1036.9 1029.6,1037.8 1027.8,1038.6 1026.0,1039.5 1024.2,1040.4 1022.4,1041.2 1020.6,1042.1 1018.8,1043.0 1017.1,1043.9 1015.3,1044.8 1013.5,1045.6 1011.7,1046.5 1009.9,1047.4 1008.1,1048.3 1006.3,1049.2 1004.5,1050.1 1002.7,1051.0 1000.9,1051.9 999.1,1052.8 997.3,1053.7 995.6,1054.7 993.8,1055.6 992.0,1056.5 990.2,1057.4 988.4,1058.3 986.6,1059.2 984.8,1060.1 983.0,1061.0 981.2,1061.9 979.4,1062.8 977.6,1063.7 975.8,1064.6 974.0,1065.5 972.2,1066.4 970.4,1067.3 968.6,1068.2 966.8,1069.0 965.0,1069.9 963.1,1070.8 961.3,1071.7 959.5,1072.5 957.7,1073.4 955.9,1074.2 954.1,1075.1 952.2,1075.9 950.4,1076.8 948.6,1077.6 946.8,1078.4 944.9,1079.3 943.1,1080.1 941.3,1080.9 939.5,1081.7 937.6,1082.5 935.8,1083.3 933.9,1084.1 932.1,1084.8 930.3,1085.6 928.4,1086.4 926.6,1087.1 924.7,1087.9 922.9,1088.6 921.0,1089.4 919.2,1090.1 917.3,1090.8 915.4,1091.6 913.6,1092.3 911.7,1093.0 909.8,1093.7 908.0,1094.4 906.1,1095.1 904.2,1095.8 902.4,1096.4 900.5,1097.1 898.6,1097.8 896.7,1098.4 894.8,1099.1 892.9,1099.7 891.0,1100.4 889.2,1101.0 887.3,1101.6 885.4,1102.3 883.5,1102.9 881.6,1103.5 879.7,1104.1 877.8,1104.7 875.8,1105.3 873.9,1105.9 872.0,1106.4 870.1,1107.0 868.2,1107.6 866.3,1108.1 864.3,1108.7 862.4,1109.2 860.5,1109.7 858.6,1110.3 856.6,1110.8 854.7,1111.3 852.7,1111.8 850.8,1112.3 848.9,1112.8 846.9,1113.3 845.0,1113.8 843.0,1114.2 841.0,1114.7 839.1,1115.1 837.1,1115.6 835.2,1116.0 833.2,1116.5 831.2,1116.9 829.3,1117.3 827.3,1117.8 825.3,1118.2 823.3,1118.6 821.4,1119.0 819.4,1119.4 817.4,1119.8 815.4,1120.2 813.5,1120.7 811.5,1121.1 809.5,1121.5 807.5,1121.9 805.6,1122.3 803.6,1122.7 801.6,1123.1 799.6,1123.6 797.7,1124.0 795.7,1124.4 793.7,1124.9 791.8,1125.3 789.8,1125.8 787.9,1126.2 785.9,1126.7 784.0,1127.2 782.0,1127.6 780.1,1128.1 778.1,1128.6 776.2,1129.1 774.3,1129.7 772.3,1130.2 770.4,1130.7 768.5,1131.3 766.6,1131.9 764.7,1132.5 762.8,1133.1 760.9,1133.7 759.0,1134.3 757.2,1134.9 755.3,1135.6 753.4,1136.3 751.6,1137.0 749.7,1137.7 747.9,1138.4 746.0,1139.2 744.2,1139.9 742.4,1140.7 740.6,1141.5 738.8,1142.3 737.0,1143.2 735.2,1144.0 733.4,1144.9 731.6,1145.8 729.8,1146.7 728.1,1147.6 726.3,1148.5 724.6,1149.5 722.8,1150.4 721.1,1151.4 719.3,1152.4 717.6,1153.4 715.9,1154.4 714.1,1155.4 712.4,1156.4 710.7,1157.4 709.0,1158.4 707.3,1159.5 705.5,1160.5 703.8,1161.6 702.1,1162.6 700.4,1163.7 698.7,1164.8 697.0,1165.8 695.3,1166.9 693.6,1168.0 691.9,1169.1 690.2,1170.1 688.5,1171.2 686.8,1172.3 685.1,1173.4 683.4,1174.5 681.7,1175.5 680.0,1176.6 678.3,1177.7 676.6,1178.7 674.9,1179.8 673.2,1180.9 671.4,1181.9 669.7,1183.0 668.0,1184.0 666.3,1185.0 664.6,1186.1 662.8,1187.1 661.1,1188.1 659.4,1189.1 657.6,1190.1 655.9,1191.1 654.1,1192.0 652.4,1193.0 650.6,1194.0 648.9,1194.9 647.1,1195.8 645.3,1196.8 643.6,1197.7 641.8,1198.6 640.0,1199.5 638.2,1200.3 636.4,1201.2 634.6,1202.1 632.8,1202.9 631.0,1203.8 629.2,1204.6 627.4,1205.5 625.6,1206.3 623.8,1207.1 621.9,1207.9 620.1,1208.7 618.3,1209.5 616.5,1210.2 614.6,1211.0 612.8,1211.8 610.9,1212.5 609.1,1213.3 607.2,1214.0 605.4,1214.7 603.5,1215.4 601.7,1216.1 599.8,1216.8 597.9,1217.5 596.1,1218.2 594.2,1218.9 592.3,1219.6 590.5,1220.3 588.6,1220.9 586.7,1221.6 584.8,1222.2 582.9,1222.8 581.0,1223.5 579.1,1224.1 577.2,1224.7 575.3,1225.3 573.4,1225.9 571.5,1226.5 569.6,1227.1 567.7,1227.7 565.8,1228.3 563.9,1228.9 562.0,1229.4 560.1,1230.0 558.2,1230.5 556.2,1231.1 554.3,1231.6 552.4,1232.2 550.5,1232.7 548.5,1233.2 546.6,1233.7 544.7,1234.3 542.7,1234.8 540.8,1235.3 538.9,1235.8 536.9,1236.3 535.0,1236.8 533.1,1237.3 531.1,1237.7 529.2,1238.2 527.2,1238.7 525.3,1239.2 523.3,1239.6 521.4,1240.1 519.4,1240.5 517.5,1241.0 515.5,1241.4 513.6,1241.9 511.6,1242.3 509.7,1242.7 507.7,1243.2 505.8,1243.6 503.8,1244.0 501.8,1244.4 499.9,1244.9 497.9,1245.3 496.0,1245.7 494.0,1246.1 492.0,1246.5 490.1,1246.9 488.1,1247.3 486.2,1247.7 484.2,1248.1 482.2,1248.5 480.3,1248.9 478.3,1249.3 476.3,1249.7 474.4,1250.0 472.4,1250.4 470.5,1250.8 468.5,1251.2 466.5,1251.5 464.6,1251.9 462.6,1252.3 460.6,1252.7 458.7,1253.0 456.7,1253.4 454.8,1253.8 452.8,1254.1 450.8,1254.5 448.9,1254.8 446.9,1255.2 445.0,1255.6 443.0,1255.9" fill="#000"/>
<polygon points="443.0,1260.1 445.0,1260.0 447.0,1259.8 449.1,1259.7 451.1,1259.5 453.1,1259.4 455.1,1259.2 457.1,1259.0 459.1,1258.9 461.1,1258.7 463.1,1258.5 465.1,1258.3 467.1,1258.1 469.1,1257.9 471.1,1257.6 473.1,1257.4 475.1,1257.2 477.1,1257.0 479.1,1256.7 481.1,1256.5 483.1,1256.2 485.1,1255.9 487.1,1255.7 489.1,1255.4 491.0,1255.1 493.0,1254.8 495.0,1254.5 497.0,1254.3 499.0,1254.0 500.9,1253.6 502.9,1253.3 504.9,1253.0 506.9,1252.7 508.8,1252.4 510.8,1252.0 512.8,1251.7 514.8,1251.3 516.7,1251.0 518.7,1250.6 520.7,1250.3 522.6,1249.9 524.6,1249.5 526.6,1249.2 528.5,1248.8 530.5,1248.4 532.5,1248.0 534.4,1247.6 536.4,1247.2 538.3,1246.8 540.3,1246.4 542.2,1246.0 544.2,1245.6 546.2,1245.1 548.1,1244.7 550.1,1244.3 552.0,1243.8 554.0,1243.4 555.9,1243.0 557.9,1242.5 559.8,1242.1 561.8,1241.6 563.7,1241.2 565.6,1240.7 567.6,1240.2 569.5,1239.8 571.5,1239.3 573.4,1238.8 575.4,1238.3 577.3,1237.8 579.2,1237.4 581.2,1236.9 583.1,1236.4 585.1,1235.9 587.0,1235.4 588.9,1234.9 590.9,1234.4 592.8,1233.9 594.7,1233.4 596.7,1232.8 598.6,1232.3 600.5,1231.8 602.5,1231.3 604.4,1230.8 606.3,1230.2 608.3,1229.7 610.2,1229.2 612.1,1228.7 614.0,1228.1 616.0,1227.6 617.9,1227.0 619.8,1226.5 621.8,1226.0 623.7,1225.4 625.6,1224.9 627.5,1224.3 629.5,1223.8 631.4,1223.2 633.3,1222.6 635.2,1222.1 637.2,1221.5 639.1,1221.0 641.0,1220.4 642.9,1219.8 644.8,1219.3 646.8,1218.7 648.7,1218.1 650.6,1217.6 652.5,1217.0 654.5,1216.4 656.4,1215.9 658.3,1215.3 660.2,1214.7 662.1,1214.2 664.1,1213.6 666.0,1213.0 667.9,1212.4 669.8,1211.9 671.7,1211.3 673.7,1210.7 675.6,1210.1 677.5,1209.5 679.4,1209.0 681.3,1208.4 683.3,1207.8 685.2,1207.2 687.1,1206.6 689.0,1206.1 690.9,1205.5 692.9,1204.9 694.8,1204.3 696.7,1203.8 698.6,1203.2 700.5,1202.6 702.5,1202.0 704.4,1201.4 706.3,1200.9 708.2,1200.3 710.1,1199.7 712.1,1199.1 714.0,1198.6 715.9,1198.0 717.8,1197.4 719.7,1196.9 721.7,1196.3 723.6,1195.7 725.5,1195.1 727.4,1194.6 729.3,1194.0 731.3,1193.5 733.2,1192.9 735.1,1192.3 737.0,1191.8 739.0,1191.2 740.9,1190.7 742.8,1190.1 744.7,1189.6 746.6,1189.0 748.6,1188.5 750.5,1187.9 752.4,1187.4 754.3,1186.8 756.3,1186.3 758.2,1185.7 760.1,1185.2 762.1,1184.7 764.0,1184.1 765.9,1183.6 767.8,1183.1 769.8,1182.6 771.7,1182.1 773.6,1181.5 775.6,1181.0 777.5,1180.5 779.4,1180.0 781.4,1179.5 783.3,1179.0 785.2,1178.5 787.2,1178.0 789.1,1177.5 791.0,1177.0 793.0,1176.5 794.9,1176.1 796.8,1175.6 798.8,1175.1 800.7,1174.6 802.7,1174.2 804.6,1173.7 806.5,1173.2 808.5,1172.8 810.4,1172.3 812.4,1171.9 814.3,1171.4 816.2,1171.0 818.2,1170.6 820.1,1170.1 822.1,1169.7 824.0,1169.3 826.0,1168.9 827.9,1168.5 829.9,1168.0 831.8,1167.6 833.8,1167.2 835.7,1166.8 837.7,1166.5 839.6,1166.1 841.6,1165.7 843.5,1165.3 845.5,1164.9 847.5,1164.6 849.4,1164.2 851.4,1163.9 853.3,1163.5 855.3,1163.2 857.3,1162.8 859.2,1162.5 861.2,1162.2 863.2,1161.8 865.1,1161.5 867.1,1161.2 869.1,1160.9 871.0,1160.6 873.0,1160.3 875.0,1160.0 876.9,1159.7 878.9,1159.4 880.9,1159.1 882.8,1158.8 884.8,1158.5 886.8,1158.3 888.8,1158.0 890.7,1157.7 892.7,1157.5 894.7,1157.2 896.7,1157.0 898.7,1156.7 900.6,1156.5 902.6,1156.2 904.6,1156.0 906.6,1155.8 908.6,1155.5 910.5,1155.3 912.5,1155.1 914.5,1154.9 916.5,1154.6 918.5,1154.4 920.5,1154.2 922.4,1154.0 924.4,1153.8 926.4,1153.6 928.4,1153.4 930.4,1153.2 932.4,1153.0 934.4,1152.8 936.4,1152.7 938.3,1152.5 940.3,1152.3 942.3,1152.1 944.3,1151.9 946.3,1151.8 948.3,1151.6 950.3,1151.4 952.3,1151.3 954.3,1151.1 956.3,1151.0 958.3,1150.8 960.3,1150.7 962.3,1150.5 964.3,1150.4 966.3,1150.2 968.3,1150.1 970.2,1150.0 972.2,1149.8 974.2,1149.7 976.2,1149.6 978.2,1149.4 980.2,1149.3 982.2,1149.2 984.2,1149.0 986.2,1148.9 988.2,1148.8 990.2,1148.7 992.2,1148.6 994.2,1148.5 996.2,1148.3 998.2,1148.2 1000.2,1148.1 1002.2,1148.0 1004.2,1147.9 1006.2,1147.8 1008.2,1147.7 1010.3,1147.6 1012.3,1147.5 1014.3,1147.4 1016.3,1147.3 1018.3,1147.2 1020.3,1147.1 1022.3,1147.0 1024.3,1146.9 1026.3,1146.8 1028.3,1146.8 1030.3,1146.7 1032.3,1146.6 1034.3,1146.5 1036.3,1146.4 1038.3,1146.3 1040.3,1146.2 1042.3,1146.2 1044.3,1146.1 1046.3,1146.0 1048.3,1145.9 1050.3,1145.8 1052.3,1145.7 1054.3,1145.7 1056.3,1145.6 1058.3,1145.5 1060.4,1145.4 1062.4,1145.4 1064.4,1145.3 1066.4,1145.2 1068.4,1145.1 1070.4,1145.0 1072.4,1145.0 1074.4,1144.9 1076.4,1144.8 1078.4,1144.7 1080.4,1144.7 1082.4,1144.6 1084.4,1144.5 1086.4,1144.5 1088.4,1144.4 1090.4,1144.3 1092.4,1144.2 1094.4,1144.2 1096.4,1144.1 1098.4,1144.0 1100.4,1144.0 1102.4,1143.9 1104.5,1143.8 1106.5,1143.8 1108.5,1143.7 1110.5,1143.6 1112.5,1143.6 1114.5,1143.5 1116.5,1143.4 1118.5,1143.4 1120.5,1143.3 1122.5,1143.2 1124.5,1143.2 1126.5,1143.1 1128.5,1143.0 1130.5,1143.0 1132.5,1142.9 1134.5,1142.8 1136.5,1142.8 1138.5,1142.7 1140.5,1142.6 1142.5,1142.6 1144.5,1142.5 1146.5,1142.4 1148.6,1142.4 1150.6,1142.3 1152.6,1142.2 1154.6,1142.2 1156.6,1142.1 1158.6,1142.1 1160.6,1142.0 1162.6,1141.9 1164.6,1141.9 1166.6,1141.8 1168.6,1141.7 1170.6,1141.7 1172.6,1141.6 1174.6,1141.6 1176.6,1141.5 1178.6,1141.4 1180.6,1141.4 1182.6,1141.3 1184.6,1141.2 1186.6,1141.2 1188.6,1141.1 1190.6,1141.1 1192.6,1141.0 1194.7,1140.9 1196.7,1140.9 1198.7,1140.8 1200.7,1140.8 1202.7,1140.7 1204.7,1140.6 1206.7,1140.6 1208.7,1140.5 1210.7,1140.4 1212.7,1140.4 1214.7,1140.3 1216.7,1140.2 1218.7,1140.2 1220.7,1140.1 1222.7,1140.1 1224.7,1140.0 1226.7,1139.9 1228.7,1139.9 1230.7,1139.8 1232.7,1139.7 1234.7,1139.7 1236.7,1139.6 1238.7,1139.5 1240.7,1139.5 1242.7,1139.4 1244.7,1139.3 1246.7,1139.3 1248.7,1139.2 1250.8,1139.1 1252.8,1139.1 1254.8,1139.0 1256.8,1138.9 1258.8,1138.9 1260.8,1138.8 1262.8,1138.7 1264.8,1138.7 1266.8,1138.6 1268.8,1138.5 1270.8,1138.5 1272.8,1138.4 1274.8,1138.3 1276.8,1138.3 1278.8,1138.2 1280.8,1138.1 1282.8,1138.0 1284.8,1138.0 1286.8,1137.9 1288.8,1137.8 1290.8,1137.7 1292.8,1137.7 1294.8,1137.6 1296.8,1137.5 1298.8,1137.5 1300.8,1137.4 1302.8,1137.3 1304.8,1137.2 1306.8,1137.1 1308.8,1137.1 1310.8,1137.0 1312.8,1136.9 1314.8,1136.8 1316.8,1136.8 1318.8,1136.7 1320.8,1136.6 1322.8,1136.5 1324.8,1136.4 1326.8,1136.3 1328.8,1136.3 1330.8,1136.2 1332.8,1136.1 1334.9,1136.0 1336.9,1135.9 1338.9,1135.8 1340.9,1135.7 1342.9,1135.7 1344.9,1135.6 1346.9,1135.5 1348.9,1135.4 1350.9,1135.3 1352.9,1135.2 1354.9,1135.1 1356.9,1135.0 1358.9,1134.9 1360.9,1134.8 1362.9,1134.8 1364.9,1134.7 1366.9,1134.6 1368.9,1134.5 1370.9,1134.4 1372.9,1134.3 1374.9,1134.2 1376.9,1134.1 1378.9,1134.0 1380.9,1133.9 1382.9,1133.8 1384.9,1133.7 1386.9,1133.6 1388.9,1133.5 1390.9,1133.4 1392.9,1133.2 1394.9,1133.1 1396.9,1133.0 1398.9,1132.9 1400.9,1132.8 1402.9,1132.7 1404.9,1132.6 1406.9,1132.5 1408.9,1132.4 1410.9,1132.3 1412.9,1132.1 1414.9,1132.0 1416.9,1131.9 1418.9,1131.8 1420.8,1131.7 1422.8,1131.5 1424.8,1131.4 1426.8,1131.3 1428.8,1131.2 1430.8,1131.1 1432.8,1130.9 1434.8,1130.8 1436.8,1130.7 1438.8,1130.6 1440.8,1130.4 1442.8,1130.3 1444.8,1130.2 1446.8,1130.0 1448.8,1129.9 1450.8,1129.8 1452.8,1129.6 1454.8,1129.5 1456.8,1129.4 1458.8,1129.2 1460.8,1129.1 1462.8,1128.9 1464.8,1128.8 1466.8,1128.7 1468.8,1128.5 1470.8,1128.4 1472.8,1128.2 1474.8,1128.1 1476.8,1127.9 1478.8,1127.8 1480.8,1127.6 1482.8,1127.5 1484.8,1127.3 1486.8,1127.2 1488.8,1127.0 1490.7,1126.9 1492.7,1126.7 1494.7,1126.5 1496.7,1126.4 1498.7,1126.2 1500.7,1126.0 1502.7,1125.9 1504.7,1125.7 1506.7,1125.5 1508.7,1125.4 1510.7,1125.2 1512.7,1125.0 1514.7,1124.9 1516.7,1124.7 1518.7,1124.5 1520.7,1124.3 1522.7,1124.2 1524.7,1124.0 1526.7,1123.8 1528.6,1123.6 1530.6,1123.4 1532.6,1123.2 1534.6,1123.1 1536.6,1122.9 1538.6,1122.7 1540.6,1122.5 1542.6,1122.3 1544.6,1122.1 1546.6,1121.9 1548.6,1121.7 1550.6,1121.5 1552.6,1121.3 1554.6,1121.1 1556.6,1120.9 1558.5,1120.7 1560.5,1120.5 1562.5,1120.3 1564.5,1120.1 1566.5,1119.9 1568.5,1119.7 1570.5,1119.4 1572.5,1119.2 1574.5,1119.0 1576.5,1118.8 1578.5,1118.6 1580.5,1118.4 1582.4,1118.1 1584.4,1117.9 1586.4,1117.7 1588.4,1117.5 1590.4,1117.2 1592.4,1117.0 1594.4,1116.8 1596.4,1116.5 1598.4,1116.3 1600.4,1116.0 1602.3,1115.8 1604.3,1115.6 1606.3,1115.3 1608.3,1115.1 1610.3,1114.8 1612.3,1114.6 1614.3,1114.3 1616.3,1114.1 1618.3,1113.8 1620.2,1113.6 1622.2,1113.3 1624.2,1113.1 1626.2,1112.8 1628.2,1112.5 1630.2,1112.3 1632.2,1112.0 1634.2,1111.7 1636.2,1111.5 1638.1,1111.2 1640.1,1110.9 1642.1,1110.6 1644.1,1110.4 1646.1,1110.1 1648.1,1109.8 1650.1,1109.5 1652.1,1109.2 1654.0,1109.0 1656.0,1108.7 1658.0,1108.4 1660.0,1108.1 1660.0,1103.9 1658.0,1104.2 1656.0,1104.5 1654.0,1104.8 1652.1,1105.1 1650.1,1105.4 1648.1,1105.6 1646.1,1105.9 1644.1,1106.2 1642.1,1106.5 1640.1,1106.7 1638.1,1107.0 1636.2,1107.3 1634.2,1107.6 1632.2,1107.8 1630.2,1108.1 1628.2,1108.4 1626.2,1108.6 1624.2,1108.9 1622.2,1109.1 1620.2,1109.4 1618.3,1109.7 1616.3,1109.9 1614.3,1110.2 1612.3,1110.4 1610.3,1110.7 1608.3,1110.9 1606.3,1111.2 1604.3,1111.4 1602.3,1111.6 1600.4,1111.9 1598.4,1112.1 1596.4,1112.4 1594.4,1112.6 1592.4,1112.8 1590.4,1113.1 1588.4,1113.3 1586.4,1113.5 1584.4,1113.7 1582.4,1114.0 1580.5,1114.2 1578.5,1114.4 1576.5,1114.6 1574.5,1114.8 1572.5,1115.1 1570.5,1115.3 1568.5,1115.5 1566.5,1115.7 1564.5,1115.9 1562.5,1116.1 1560.5,1116.3 1558.5,1116.5 1556.6,1116.7 1554.6,1116.9 1552.6,1117.1 1550.6,1117.3 1548.6,1117.5 1546.6,1117.7 1544.6,1117.9 1542.6,1118.1 1540.6,1118.3 1538.6,1118.5 1536.6,1118.7 1534.6,1118.9 1532.6,1119.1 1530.6,1119.3 1528.6,1119.4 1526.7,1119.6 1524.7,1119.8 1522.7,1120.0 1520.7,1120.2 1518.7,1120.3 1516.7,1120.5 1514.7,1120.7 1512.7,1120.9 1510.7,1121.0 1508.7,1121.2 1506.7,1121.4 1504.7,1121.5 1502.7,1121.7 1500.7,1121.9 1498.7,1122.0 1496.7,1122.2 1494.7,1122.4 1492.7,1122.5 1490.7,1122.7 1488.8,1122.8 1486.8,1123.0 1484.8,1123.1 1482.8,1123.3 1480.8,1123.5 1478.8,1123.6 1476.8,1123.8 1474.8,1123.9 1472.8,1124.1 1470.8,1124.2 1468.8,1124.3 1466.8,1124.5 1464.8,1124.6 1462.8,1124.8 1460.8,1124.9 1458.8,1125.1 1456.8,1125.2 1454.8,1125.3 1452.8,1125.5 1450.8,1125.6 1448.8,1125.7 1446.8,1125.9 1444.8,1126.0 1442.8,1126.1 1440.8,1126.3 1438.8,1126.4 1436.8,1126.5 1434.8,1126.6 1432.8,1126.8 1430.8,1126.9 1428.8,1127.0 1426.8,1127.1 1424.8,1127.3 1422.8,1127.4 1420.8,1127.5 1418.9,1127.6 1416.9,1127.7 1414.9,1127.9 1412.9,1128.0 1410.9,1128.1 1408.9,1128.2 1406.9,1128.3 1404.9,1128.4 1402.9,1128.5 1400.9,1128.6 1398.9,1128.8 1396.9,1128.9 1394.9,1129.0 1392.9,1129.1 1390.9,1129.2 1388.9,1129.3 1386.9,1129.4 1384.9,1129.5 1382.9,1129.6 1380.9,1129.7 1378.9,1129.8 1376.9,1129.9 1374.9,1130.0 1372.9,1130.1 1370.9,1130.2 1368.9,1130.3 1366.9,1130.4 1364.9,1130.5 1362.9,1130.6 1360.9,1130.7 1358.9,1130.8 1356.9,1130.9 1354.9,1131.0 1352.9,1131.0 1350.9,1131.1 1348.9,1131.2 1346.9,1131.3 1344.9,1131.4 1342.9,1131.5 1340.9,1131.6 1338.9,1131.7 1336.9,1131.8 1334.9,1131.8 1332.8,1131.9 1330.8,1132.0 1328.8,1132.1 1326.8,1132.2 1324.8,1132.3 1322.8,1132.3 1320.8,1132.4 1318.8,1132.5 1316.8,1132.6 1314.8,1132.7 1312.8,1132.7 1310.8,1132.8 1308.8,1132.9 1306.8,1133.0 1304.8,1133.1 1302.8,1133.1 1300.8,1133.2 1298.8,1133.3 1296.8,1133.4 1294.8,1133.4 1292.8,1133.5 1290.8,1133.6 1288.8,1133.7 1286.8,1133.7 1284.8,1133.8 1282.8,1133.9 1280.8,1133.9 1278.8,1134.0 1276.8,1134.1 1274.8,1134.2 1272.8,1134.2 1270.8,1134.3 1268.8,1134.4 1266.8,1134.4 1264.8,1134.5 1262.8,1134.6 1260.8,1134.6 1258.8,1134.7 1256.8,1134.8 1254.8,1134.8 1252.8,1134.9 1250.8,1135.0 1248.7,1135.0 1246.7,1135.1 1244.7,1135.2 1242.7,1135.2 1240.7,1135.3 1238.7,1135.4 1236.7,1135.4 1234.7,1135.5 1232.7,1135.6 1230.7,1135.6 1228.7,1135.7 1226.7,1135.8 1224.7,1135.8 1222.7,1135.9 1220.7,1136.0 1218.7,1136.0 1216.7,1136.1 1214.7,1136.1 1212.7,1136.2 1210.7,1136.3 1208.7,1136.3 1206.7,1136.4 1204.7,1136.5 1202.7,1136.5 1200.7,1136.6 1198.7,1136.6 1196.7,1136.7 1194.7,1136.8 1192.6,1136.8 1190.6,1136.9 1188.6,1137.0 1186.6,1137.0 1184.6,1137.1 1182.6,1137.1 1180.6,1137.2 1178.6,1137.3 1176.6,1137.3 1174.6,1137.4 1172.6,1137.5 1170.6,1137.5 1168.6,1137.6 1166.6,1137.6 1164.6,1137.7 1162.6,1137.8 1160.6,1137.8 1158.6,1137.9 1156.6,1138.0 1154.6,1138.0 1152.6,1138.1 1150.6,1138.1 1148.6,1138.2 1146.5,1138.3 1144.5,1138.3 1142.5,1138.4 1140.5,1138.5 1138.5,1138.5 1136.5,1138.6 1134.5,1138.7 1132.5,1138.7 1130.5,1138.8 1128.5,1138.9 1126.5,1138.9 1124.5,1139.0 1122.5,1139.0 1120.5,1139.1 1118.5,1139.2 1116.5,1139.2 1114.5,1139.3 1112.5,1139.4 1110.5,1139.4 1108.5,1139.5 1106.5,1139.6 1104.5,1139.7 1102.4,1139.7 1100.4,1139.8 1098.4,1139.9 1096.4,1139.9 1094.4,1140.0 1092.4,1140.1 1090.4,1140.1 1088.4,1140.2 1086.4,1140.3 1084.4,1140.4 1082.4,1140.4 1080.4,1140.5 1078.4,1140.6 1076.4,1140.7 1074.4,1140.7 1072.4,1140.8 1070.4,1140.9 1068.4,1141.0 1066.4,1141.0 1064.4,1141.1 1062.4,1141.2 1060.4,1141.3 1058.3,1141.3 1056.3,1141.4 1054.3,1141.5 1052.3,1141.6 1050.3,1141.7 1048.3,1141.7 1046.3,1141.8 1044.3,1141.9 1042.3,1142.0 1040.3,1142.1 1038.3,1142.1 1036.3,1142.2 1034.3,1142.3 1032.3,1142.4 1030.3,1142.5 1028.3,1142.6 1026.3,1142.7 1024.3,1142.8 1022.3,1142.9 1020.3,1142.9 1018.3,1143.0 1016.3,1143.1 1014.3,1143.2 1012.3,1143.3 1010.3,1143.4 1008.2,1143.5 1006.2,1143.6 1004.2,1143.7 1002.2,1143.8 1000.2,1144.0 998.2,1144.1 996.2,1144.2 994.2,1144.3 992.2,1144.4 990.2,1144.5 988.2,1144.6 986.2,1144.8 984.2,1144.9 982.2,1145.0 980.2,1145.1 978.2,1145.3 976.2,1145.4 974.2,1145.5 972.2,1145.6 970.2,1145.8 968.3,1145.9 966.3,1146.1 964.3,1146.2 962.3,1146.4 960.3,1146.5 958.3,1146.6 956.3,1146.8 954.3,1147.0 952.3,1147.1 950.3,1147.3 948.3,1147.4 946.3,1147.6 944.3,1147.8 942.3,1147.9 940.3,1148.1 938.3,1148.3 936.4,1148.5 934.4,1148.7 932.4,1148.9 930.4,1149.0 928.4,1149.2 926.4,1149.4 924.4,1149.6 922.4,1149.8 920.5,1150.0 918.5,1150.3 916.5,1150.5 914.5,1150.7 912.5,1150.9 910.5,1151.1 908.6,1151.4 906.6,1151.6 904.6,1151.8 902.6,1152.1 900.6,1152.3 898.7,1152.5 896.7,1152.8 894.7,1153.0 892.7,1153.3 890.7,1153.6 888.8,1153.8 886.8,1154.1 884.8,1154.4 882.8,1154.7 880.9,1154.9 878.9,1155.2 876.9,1155.5 875.0,1155.8 873.0,1156.1 871.0,1156.4 869.1,1156.7 867.1,1157.0 865.1,1157.3 863.2,1157.7 861.2,1158.0 859.2,1158.3 857.3,1158.7 855.3,1159.0 853.3,1159.3 851.4,1159.7 849.4,1160.1 847.5,1160.4 845.5,1160.8 843.5,1161.1 841.6,1161.5 839.6,1161.9 837.7,1162.3 835.7,1162.7 833.8,1163.1 831.8,1163.5 829.9,1163.9 827.9,1164.3 826.0,1164.7 824.0,1165.1 822.1,1165.5 820.1,1166.0 818.2,1166.4 816.2,1166.8 814.3,1167.3 812.4,1167.7 810.4,1168.2 808.5,1168.6 806.5,1169.1 804.6,1169.5 802.7,1170.0 800.7,1170.5 798.8,1170.9 796.8,1171.4 794.9,1171.9 793.0,1172.4 791.0,1172.9 789.1,1173.3 787.2,1173.8 785.2,1174.3 783.3,1174.8 781.4,1175.3 779.4,1175.8 777.5,1176.3 775.6,1176.9 773.6,1177.4 771.7,1177.9 769.8,1178.4 767.8,1178.9 765.9,1179.5 764.0,1180.0 762.1,1180.5 760.1,1181.0 758.2,1181.6 756.3,1182.1 754.3,1182.7 752.4,1183.2 750.5,1183.7 748.6,1184.3 746.6,1184.8 744.7,1185.4 742.8,1185.9 740.9,1186.5 739.0,1187.0 737.0,1187.6 735.1,1188.2 733.2,1188.7 731.3,1189.3 729.3,1189.8 727.4,1190.4 725.5,1191.0 723.6,1191.5 721.7,1192.1 719.7,1192.7 717.8,1193.3 715.9,1193.8 714.0,1194.4 712.1,1195.0 710.1,1195.5 708.2,1196.1 706.3,1196.7 704.4,1197.3 702.5,1197.8 700.5,1198.4 698.6,1199.0 696.7,1199.6 694.8,1200.2 692.9,1200.7 690.9,1201.3 689.0,1201.9 687.1,1202.5 685.2,1203.1 683.3,1203.6 681.3,1204.2 679.4,1204.8 677.5,1205.4 675.6,1205.9 673.7,1206.5 671.7,1207.1 669.8,1207.7 667.9,1208.3 666.0,1208.8 664.1,1209.4 662.1,1210.0 660.2,1210.6 658.3,1211.1 656.4,1211.7 654.5,1212.3 652.5,1212.8 650.6,1213.4 648.7,1214.0 646.8,1214.5 644.8,1215.1 642.9,1215.7 641.0,1216.2 639.1,1216.8 637.2,1217.4 635.2,1217.9 633.3,1218.5 631.4,1219.0 629.5,1219.6 627.5,1220.1 625.6,1220.7 623.7,1221.2 621.8,1221.8 619.8,1222.3 617.9,1222.9 616.0,1223.4 614.0,1223.9 612.1,1224.5 610.2,1225.0 608.3,1225.5 606.3,1226.1 604.4,1226.6 602.5,1227.1 600.5,1227.6 598.6,1228.2 596.7,1228.7 594.7,1229.2 592.8,1229.7 590.9,1230.2 588.9,1230.7 587.0,1231.2 585.1,1231.7 583.1,1232.2 581.2,1232.7 579.2,1233.2 577.3,1233.7 575.4,1234.2 573.4,1234.6 571.5,1235.1 569.5,1235.6 567.6,1236.1 565.6,1236.5 563.7,1237.0 561.8,1237.4 559.8,1237.9 557.9,1238.3 555.9,1238.8 554.0,1239.2 552.0,1239.7 550.1,1240.1 548.1,1240.5 546.2,1241.0 544.2,1241.4 542.2,1241.8 540.3,1242.2 538.3,1242.6 536.4,1243.0 534.4,1243.4 532.5,1243.8 530.5,1244.2 528.5,1244.6 526.6,1245.0 524.6,1245.4 522.6,1245.7 520.7,1246.1 518.7,1246.5 516.7,1246.8 514.8,1247.2 512.8,1247.5 510.8,1247.8 508.8,1248.2 506.9,1248.5 504.9,1248.8 502.9,1249.2 500.9,1249.5 499.0,1249.8 497.0,1250.1 495.0,1250.4 493.0,1250.7 491.0,1251.0 489.1,1251.2 487.1,1251.5 485.1,1251.8 483.1,1252.0 481.1,1252.3 479.1,1252.5 477.1,1252.8 475.1,1253.0 473.1,1253.3 471.1,1253.5 469.1,1253.7 467.1,1253.9 465.1,1254.1 463.1,1254.3 461.1,1254.5 459.1,1254.7 457.1,1254.9 455.1,1255.0 453.1,1255.2 451.1,1255.4 449.1,1255.5 447.0,1255.6 445.0,1255.8 443.0,1255.9" fill="#000"/>
<polygon points="443.0,1260.1 445.0,1259.9 447.0,1259.7 449.0,1259.5 450.9,1259.3 452.9,1259.1 454.9,1258.9 456.9,1258.7 458.9,1258.5 460.9,1258.3 462.9,1258.1 464.9,1257.9 466.9,1257.7 468.9,1257.5 470.9,1257.4 472.9,1257.2 474.9,1257.0 476.9,1256.8 478.9,1256.7 480.9,1256.5 482.9,1256.3 484.9,1256.1 486.9,1256.0 488.9,1255.8 490.9,1255.6 492.9,1255.4 494.8,1255.3 496.8,1255.1 498.8,1254.9 500.8,1254.7 502.8,1254.5 504.8,1254.4 506.8,1254.2 508.8,1254.0 510.8,1253.8 512.8,1253.6 514.8,1253.4 516.8,1253.2 518.8,1253.0 520.8,1252.8 522.8,1252.6 524.8,1252.4 526.8,1252.2 528.8,1252.0 530.8,1251.7 532.8,1251.5 534.8,1251.3 536.8,1251.0 538.8,1250.8 540.8,1250.6 542.8,1250.3 544.7,1250.0 546.7,1249.8 548.7,1249.5 550.7,1249.2 552.7,1249.0 554.7,1248.7 556.7,1248.4 558.6,1248.1 560.6,1247.8 562.6,1247.5 564.6,1247.2 566.6,1246.8 568.5,1246.5 570.5,1246.2 572.5,1245.8 574.4,1245.5 576.4,1245.1 578.4,1244.7 580.3,1244.3 582.3,1244.0 584.3,1243.6 586.2,1243.2 588.2,1242.8 590.1,1242.3 592.1,1241.9 594.1,1241.5 596.0,1241.0 598.0,1240.6 599.9,1240.1 601.8,1239.7 603.8,1239.2 605.7,1238.7 607.7,1238.2 609.6,1237.7 611.5,1237.2 613.4,1236.7 615.4,1236.1 617.3,1235.6 619.2,1235.1 621.1,1234.5 623.0,1233.9 624.9,1233.4 626.9,1232.8 628.8,1232.2 630.7,1231.6 632.6,1231.0 634.5,1230.3 636.3,1229.7 638.2,1229.1 640.1,1228.4 642.0,1227.8 643.9,1227.1 645.8,1226.4 647.6,1225.7 649.5,1225.1 651.4,1224.4 653.2,1223.7 655.1,1223.0 657.0,1222.3 658.9,1221.6 660.7,1221.0 662.6,1220.3 664.5,1219.6 666.4,1218.9 668.3,1218.3 670.1,1217.6 672.0,1217.0 673.9,1216.3 675.8,1215.7 677.7,1215.1 679.6,1214.5 681.5,1213.9 683.5,1213.3 685.4,1212.7 687.3,1212.2 689.2,1211.6 691.2,1211.1 693.1,1210.6 695.0,1210.1 697.0,1209.6 698.9,1209.2 700.9,1208.7 702.9,1208.3 704.8,1207.8 706.8,1207.4 708.8,1207.0 710.7,1206.6 712.7,1206.3 714.7,1205.9 716.7,1205.5 718.6,1205.2 720.6,1204.9 722.6,1204.6 724.6,1204.3 726.6,1204.0 728.6,1203.7 730.6,1203.4 732.5,1203.2 734.5,1202.9 736.5,1202.7 738.5,1202.5 740.5,1202.3 742.5,1202.1 744.5,1201.9 746.5,1201.7 748.5,1201.6 750.5,1201.4 752.5,1201.3 754.5,1201.2 756.5,1201.0 758.4,1200.9 760.4,1200.8 762.4,1200.7 764.4,1200.6 766.4,1200.5 768.4,1200.5 770.4,1200.4 772.4,1200.4 774.4,1200.3 776.4,1200.3 778.4,1200.2 780.4,1200.2 782.4,1200.2 784.4,1200.1 786.4,1200.1 788.4,1200.1 790.4,1200.1 792.4,1200.1 794.4,1200.1 796.4,1200.1 798.4,1200.1 800.4,1200.1 802.4,1200.1 804.4,1200.2 806.4,1200.2 808.4,1200.2 810.4,1200.2 812.4,1200.3 814.4,1200.3 816.4,1200.3 818.4,1200.3 820.4,1200.4 822.4,1200.4 824.4,1200.4 826.4,1200.5 828.4,1200.5 830.4,1200.5 832.4,1200.6 834.4,1200.6 836.4,1200.6 838.4,1200.7 840.4,1200.7 842.4,1200.7 844.4,1200.7 846.4,1200.8 848.4,1200.8 850.4,1200.8 852.4,1200.8 854.4,1200.8 856.4,1200.8 858.4,1200.8 860.3,1200.8 862.3,1200.8 864.3,1200.8 866.3,1200.7 868.3,1200.7 870.3,1200.7 872.3,1200.6 874.3,1200.6 876.3,1200.5 878.3,1200.5 880.3,1200.4 882.3,1200.3 884.3,1200.3 886.3,1200.2 888.2,1200.1 890.2,1200.0 892.2,1199.8 894.2,1199.7 896.2,1199.6 898.2,1199.4 900.2,1199.3 902.2,1199.1 904.1,1199.0 906.1,1198.8 908.1,1198.6 910.1,1198.4 912.1,1198.2 914.1,1198.0 916.1,1197.8 918.0,1197.6 920.0,1197.3 922.0,1197.1 924.0,1196.9 926.0,1196.6 927.9,1196.4 929.9,1196.1 931.9,1195.9 933.9,1195.6 935.9,1195.4 937.9,1195.1 939.8,1194.8 941.8,1194.6 943.8,1194.3 945.8,1194.1 947.8,1193.8 949.8,1193.6 951.8,1193.3 953.7,1193.0 955.7,1192.8 957.7,1192.6 959.7,1192.3 961.7,1192.1 963.7,1191.8 965.7,1191.6 967.6,1191.4 969.6,1191.2 971.6,1190.9 973.6,1190.7 975.6,1190.5 977.6,1190.3 979.6,1190.1 981.6,1189.9 983.6,1189.7 985.6,1189.6 987.6,1189.4 989.6,1189.2 991.6,1189.0 993.6,1188.9 995.6,1188.7 997.6,1188.6 999.6,1188.4 1001.5,1188.3 1003.5,1188.1 1005.5,1188.0 1007.5,1187.9 1009.5,1187.7 1011.5,1187.6 1013.5,1187.5 1015.5,1187.4 1017.5,1187.3 1019.5,1187.2 1021.5,1187.1 1023.5,1187.0 1025.5,1186.9 1027.5,1186.8 1029.5,1186.7 1031.5,1186.6 1033.5,1186.5 1035.5,1186.5 1037.5,1186.4 1039.5,1186.3 1041.5,1186.3 1043.5,1186.2 1045.5,1186.1 1047.5,1186.1 1049.5,1186.0 1051.5,1186.0 1053.5,1185.9 1055.5,1185.9 1057.5,1185.9 1059.5,1185.8 1061.5,1185.8 1063.5,1185.8 1065.5,1185.7 1067.5,1185.7 1069.5,1185.7 1071.5,1185.7 1073.5,1185.6 1075.5,1185.6 1077.5,1185.6 1079.5,1185.6 1081.5,1185.6 1083.5,1185.6 1085.5,1185.6 1087.5,1185.6 1089.5,1185.5 1091.5,1185.5 1093.5,1185.5 1095.5,1185.5 1097.5,1185.5 1099.4,1185.5 1101.4,1185.5 1103.4,1185.6 1105.4,1185.6 1107.4,1185.6 1109.4,1185.6 1111.4,1185.6 1113.4,1185.6 1115.4,1185.6 1117.4,1185.6 1119.4,1185.6 1121.4,1185.6 1123.4,1185.6 1125.4,1185.6 1127.4,1185.6 1129.4,1185.7 1131.4,1185.7 1133.4,1185.7 1135.4,1185.7 1137.4,1185.7 1139.4,1185.7 1141.4,1185.7 1143.4,1185.7 1145.4,1185.8 1147.4,1185.8 1149.4,1185.8 1151.4,1185.8 1153.4,1185.8 1155.4,1185.8 1157.4,1185.8 1159.4,1185.8 1161.4,1185.9 1163.4,1185.9 1165.4,1185.9 1167.4,1185.9 1169.4,1185.9 1171.4,1185.9 1173.4,1185.9 1175.4,1186.0 1177.4,1186.0 1179.4,1186.0 1181.4,1186.0 1183.4,1186.0 1185.4,1186.0 1187.4,1186.1 1189.4,1186.1 1191.4,1186.1 1193.4,1186.1 1195.4,1186.1 1197.4,1186.1 1199.4,1186.2 1201.4,1186.2 1203.4,1186.2 1205.4,1186.2 1207.4,1186.2 1209.4,1186.3 1211.4,1186.3 1213.4,1186.3 1215.4,1186.3 1217.4,1186.3 1219.4,1186.4 1221.4,1186.4 1223.4,1186.4 1225.4,1186.4 1227.4,1186.4 1229.4,1186.5 1231.5,1186.5 1233.5,1186.5 1235.5,1186.5 1237.5,1186.5 1239.5,1186.6 1241.5,1186.6 1243.5,1186.6 1245.5,1186.6 1247.5,1186.7 1249.5,1186.7 1251.5,1186.7 1253.5,1186.7 1255.5,1186.7 1257.5,1186.8 1259.5,1186.8 1261.5,1186.8 1263.5,1186.8 1265.5,1186.9 1267.5,1186.9 1269.5,1186.9 1271.5,1186.9 1273.5,1187.0 1275.5,1187.0 1277.5,1187.0 1279.5,1187.0 1281.5,1187.1 1283.5,1187.1 1285.6,1187.1 1287.6,1187.1 1289.6,1187.1 1291.6,1187.2 1293.6,1187.2 1295.6,1187.2 1297.6,1187.3 1299.6,1187.3 1301.6,1187.3 1303.6,1187.3 1305.6,1187.4 1307.6,1187.4 1309.6,1187.4 1311.6,1187.4 1313.6,1187.5 1315.6,1187.5 1317.6,1187.5 1319.6,1187.5 1321.6,1187.6 1323.7,1187.6 1325.7,1187.6 1327.7,1187.6 1329.7,1187.7 1331.7,1187.7 1333.7,1187.7 1335.7,1187.8 1337.7,1187.8 1339.7,1187.8 1341.7,1187.8 1343.7,1187.9 1345.7,1187.9 1347.7,1187.9 1349.7,1188.0 1351.7,1188.0 1353.7,1188.0 1355.8,1188.0 1357.8,1188.1 1359.8,1188.1 1361.8,1188.1 1363.8,1188.2 1365.8,1188.2 1367.8,1188.2 1369.8,1188.2 1371.8,1188.3 1373.8,1188.3 1375.8,1188.3 1377.8,1188.4 1379.8,1188.4 1381.8,1188.4 1383.8,1188.4 1385.9,1188.5 1387.9,1188.5 1389.9,1188.5 1391.9,1188.6 1393.9,1188.6 1395.9,1188.6 1397.9,1188.6 1399.9,1188.7 1401.9,1188.7 1403.9,1188.7 1405.9,1188.7 1407.9,1188.8 1409.9,1188.8 1411.9,1188.8 1414.0,1188.8 1416.0,1188.9 1418.0,1188.9 1420.0,1188.9 1422.0,1188.9 1424.0,1189.0 1426.0,1189.0 1428.0,1189.0 1430.0,1189.0 1432.0,1189.0 1434.0,1189.1 1436.0,1189.1 1438.0,1189.1 1440.0,1189.1 1442.0,1189.1 1444.1,1189.2 1446.1,1189.2 1448.1,1189.2 1450.1,1189.2 1452.1,1189.2 1454.1,1189.2 1456.1,1189.2 1458.1,1189.2 1460.1,1189.2 1462.1,1189.3 1464.1,1189.3 1466.1,1189.3 1468.1,1189.3 1470.1,1189.3 1472.1,1189.3 1474.1,1189.3 1476.1,1189.3 1478.1,1189.3 1480.2,1189.3 1482.2,1189.3 1484.2,1189.3 1486.2,1189.3 1488.2,1189.2 1490.2,1189.2 1492.2,1189.2 1494.2,1189.2 1496.2,1189.2 1498.2,1189.2 1500.2,1189.2 1502.2,1189.2 1504.2,1189.1 1506.2,1189.1 1508.2,1189.1 1510.2,1189.1 1512.2,1189.0 1514.2,1189.0 1516.2,1189.0 1518.2,1189.0 1520.2,1188.9 1522.2,1188.9 1524.2,1188.9 1526.2,1188.8 1528.2,1188.8 1530.2,1188.7 1532.2,1188.7 1534.2,1188.7 1536.2,1188.6 1538.2,1188.6 1540.2,1188.5 1542.2,1188.5 1544.2,1188.4 1546.2,1188.4 1548.2,1188.3 1550.2,1188.2 1552.2,1188.2 1554.2,1188.1 1556.2,1188.0 1558.2,1188.0 1560.2,1187.9 1562.2,1187.8 1564.2,1187.8 1566.2,1187.7 1568.2,1187.6 1570.2,1187.5 1572.2,1187.4 1574.2,1187.4 1576.2,1187.3 1578.2,1187.2 1580.2,1187.1 1582.2,1187.0 1584.2,1186.9 1586.2,1186.8 1588.2,1186.7 1590.2,1186.6 1592.2,1186.5 1594.2,1186.4 1596.2,1186.3 1598.1,1186.1 1600.1,1186.0 1602.1,1185.9 1604.1,1185.8 1606.1,1185.7 1608.1,1185.5 1610.1,1185.4 1612.1,1185.3 1614.1,1185.1 1616.1,1185.0 1618.1,1184.8 1620.1,1184.7 1622.0,1184.6 1624.0,1184.4 1626.0,1184.2 1628.0,1184.1 1630.0,1183.9 1632.0,1183.8 1634.0,1183.6 1636.0,1183.5 1638.0,1183.4 1640.0,1183.3 1642.0,1183.2 1643.9,1183.1 1645.9,1183.1 1647.9,1183.0 1649.9,1183.0 1652.0,1183.1 1654.0,1183.2 1656.0,1183.3 1658.0,1183.4 1660.0,1183.6 1660.0,1179.4 1658.0,1179.2 1656.0,1179.1 1654.0,1179.0 1652.0,1178.9 1649.9,1178.9 1647.9,1178.9 1645.9,1178.9 1643.9,1178.9 1642.0,1179.0 1640.0,1179.1 1638.0,1179.2 1636.0,1179.3 1634.0,1179.5 1632.0,1179.6 1630.0,1179.8 1628.0,1179.9 1626.0,1180.1 1624.0,1180.2 1622.0,1180.4 1620.1,1180.5 1618.1,1180.7 1616.1,1180.8 1614.1,1181.0 1612.1,1181.1 1610.1,1181.2 1608.1,1181.4 1606.1,1181.5 1604.1,1181.6 1602.1,1181.7 1600.1,1181.9 1598.1,1182.0 1596.2,1182.1 1594.2,1182.2 1592.2,1182.3 1590.2,1182.4 1588.2,1182.5 1586.2,1182.6 1584.2,1182.7 1582.2,1182.8 1580.2,1182.9 1578.2,1183.0 1576.2,1183.1 1574.2,1183.2 1572.2,1183.3 1570.2,1183.4 1568.2,1183.4 1566.2,1183.5 1564.2,1183.6 1562.2,1183.7 1560.2,1183.7 1558.2,1183.8 1556.2,1183.9 1554.2,1183.9 1552.2,1184.0 1550.2,1184.1 1548.2,1184.1 1546.2,1184.2 1544.2,1184.2 1542.2,1184.3 1540.2,1184.3 1538.2,1184.4 1536.2,1184.4 1534.2,1184.5 1532.2,1184.5 1530.2,1184.6 1528.2,1184.6 1526.2,1184.7 1524.2,1184.7 1522.2,1184.7 1520.2,1184.8 1518.2,1184.8 1516.2,1184.8 1514.2,1184.8 1512.2,1184.9 1510.2,1184.9 1508.2,1184.9 1506.2,1184.9 1504.2,1185.0 1502.2,1185.0 1500.2,1185.0 1498.2,1185.0 1496.2,1185.0 1494.2,1185.0 1492.2,1185.1 1490.2,1185.1 1488.2,1185.1 1486.2,1185.1 1484.2,1185.1 1482.2,1185.1 1480.2,1185.1 1478.1,1185.1 1476.1,1185.1 1474.1,1185.1 1472.1,1185.1 1470.1,1185.1 1468.1,1185.1 1466.1,1185.1 1464.1,1185.1 1462.1,1185.1 1460.1,1185.1 1458.1,1185.1 1456.1,1185.1 1454.1,1185.0 1452.1,1185.0 1450.1,1185.0 1448.1,1185.0 1446.1,1185.0 1444.1,1185.0 1442.0,1185.0 1440.0,1184.9 1438.0,1184.9 1436.0,1184.9 1434.0,1184.9 1432.0,1184.9 1430.0,1184.9 1428.0,1184.8 1426.0,1184.8 1424.0,1184.8 1422.0,1184.8 1420.0,1184.7 1418.0,1184.7 1416.0,1184.7 1414.0,1184.7 1411.9,1184.7 1409.9,1184.6 1407.9,1184.6 1405.9,1184.6 1403.9,1184.5 1401.9,1184.5 1399.9,1184.5 1397.9,1184.5 1395.9,1184.4 1393.9,1184.4 1391.9,1184.4 1389.9,1184.4 1387.9,1184.3 1385.9,1184.3 1383.8,1184.3 1381.8,1184.2 1379.8,1184.2 1377.8,1184.2 1375.8,1184.2 1373.8,1184.1 1371.8,1184.1 1369.8,1184.1 1367.8,1184.0 1365.8,1184.0 1363.8,1184.0 1361.8,1184.0 1359.8,1183.9 1357.8,1183.9 1355.8,1183.9 1353.7,1183.8 1351.7,1183.8 1349.7,1183.8 1347.7,1183.8 1345.7,1183.7 1343.7,1183.7 1341.7,1183.7 1339.7,1183.6 1337.7,1183.6 1335.7,1183.6 1333.7,1183.6 1331.7,1183.5 1329.7,1183.5 1327.7,1183.5 1325.7,1183.5 1323.7,1183.4 1321.6,1183.4 1319.6,1183.4 1317.6,1183.3 1315.6,1183.3 1313.6,1183.3 1311.6,1183.3 1309.6,1183.2 1307.6,1183.2 1305.6,1183.2 1303.6,1183.2 1301.6,1183.1 1299.6,1183.1 1297.6,1183.1 1295.6,1183.1 1293.6,1183.0 1291.6,1183.0 1289.6,1183.0 1287.6,1183.0 1285.6,1182.9 1283.5,1182.9 1281.5,1182.9 1279.5,1182.9 1277.5,1182.8 1275.5,1182.8 1273.5,1182.8 1271.5,1182.8 1269.5,1182.7 1267.5,1182.7 1265.5,1182.7 1263.5,1182.7 1261.5,1182.6 1259.5,1182.6 1257.5,1182.6 1255.5,1182.6 1253.5,1182.5 1251.5,1182.5 1249.5,1182.5 1247.5,1182.5 1245.5,1182.5 1243.5,1182.4 1241.5,1182.4 1239.5,1182.4 1237.5,1182.4 1235.5,1182.4 1233.5,1182.3 1231.5,1182.3 1229.4,1182.3 1227.4,1182.3 1225.4,1182.2 1223.4,1182.2 1221.4,1182.2 1219.4,1182.2 1217.4,1182.2 1215.4,1182.1 1213.4,1182.1 1211.4,1182.1 1209.4,1182.1 1207.4,1182.1 1205.4,1182.1 1203.4,1182.0 1201.4,1182.0 1199.4,1182.0 1197.4,1182.0 1195.4,1182.0 1193.4,1181.9 1191.4,1181.9 1189.4,1181.9 1187.4,1181.9 1185.4,1181.9 1183.4,1181.9 1181.4,1181.8 1179.4,1181.8 1177.4,1181.8 1175.4,1181.8 1173.4,1181.8 1171.4,1181.8 1169.4,1181.7 1167.4,1181.7 1165.4,1181.7 1163.4,1181.7 1161.4,1181.7 1159.4,1181.7 1157.4,1181.7 1155.4,1181.6 1153.4,1181.6 1151.4,1181.6 1149.4,1181.6 1147.4,1181.6 1145.4,1181.6 1143.4,1181.6 1141.4,1181.6 1139.4,1181.5 1137.4,1181.5 1135.4,1181.5 1133.4,1181.5 1131.4,1181.5 1129.4,1181.5 1127.4,1181.5 1125.4,1181.5 1123.4,1181.5 1121.4,1181.4 1119.4,1181.4 1117.4,1181.4 1115.4,1181.4 1113.4,1181.4 1111.4,1181.4 1109.4,1181.4 1107.4,1181.4 1105.4,1181.4 1103.4,1181.4 1101.4,1181.4 1099.4,1181.4 1097.5,1181.4 1095.5,1181.4 1093.5,1181.4 1091.5,1181.4 1089.5,1181.4 1087.5,1181.4 1085.5,1181.4 1083.5,1181.4 1081.5,1181.4 1079.5,1181.4 1077.5,1181.4 1075.5,1181.4 1073.5,1181.5 1071.5,1181.5 1069.5,1181.5 1067.5,1181.5 1065.5,1181.6 1063.5,1181.6 1061.5,1181.6 1059.5,1181.6 1057.5,1181.7 1055.5,1181.7 1053.5,1181.8 1051.5,1181.8 1049.5,1181.9 1047.5,1181.9 1045.5,1182.0 1043.5,1182.0 1041.5,1182.1 1039.5,1182.2 1037.5,1182.2 1035.5,1182.3 1033.5,1182.4 1031.5,1182.4 1029.5,1182.5 1027.5,1182.6 1025.5,1182.7 1023.5,1182.8 1021.5,1182.9 1019.5,1183.0 1017.5,1183.1 1015.5,1183.2 1013.5,1183.3 1011.5,1183.5 1009.5,1183.6 1007.5,1183.7 1005.5,1183.8 1003.5,1184.0 1001.5,1184.1 999.6,1184.3 997.6,1184.4 995.6,1184.6 993.6,1184.7 991.6,1184.9 989.6,1185.0 987.6,1185.2 985.6,1185.4 983.6,1185.6 981.6,1185.8 979.6,1186.0 977.6,1186.1 975.6,1186.3 973.6,1186.6 971.6,1186.8 969.6,1187.0 967.6,1187.2 965.7,1187.4 963.7,1187.7 961.7,1187.9 959.7,1188.1 957.7,1188.4 955.7,1188.6 953.7,1188.9 951.8,1189.1 949.8,1189.4 947.8,1189.6 945.8,1189.9 943.8,1190.2 941.8,1190.4 939.8,1190.7 937.9,1190.9 935.9,1191.2 933.9,1191.4 931.9,1191.7 929.9,1192.0 927.9,1192.2 926.0,1192.4 924.0,1192.7 922.0,1192.9 920.0,1193.2 918.0,1193.4 916.1,1193.6 914.1,1193.8 912.1,1194.0 910.1,1194.2 908.1,1194.4 906.1,1194.6 904.1,1194.8 902.2,1195.0 900.2,1195.1 898.2,1195.3 896.2,1195.4 894.2,1195.6 892.2,1195.7 890.2,1195.8 888.2,1195.9 886.3,1196.0 884.3,1196.1 882.3,1196.2 880.3,1196.2 878.3,1196.3 876.3,1196.4 874.3,1196.4 872.3,1196.5 870.3,1196.5 868.3,1196.5 866.3,1196.6 864.3,1196.6 862.3,1196.6 860.3,1196.6 858.4,1196.6 856.4,1196.6 854.4,1196.6 852.4,1196.6 850.4,1196.6 848.4,1196.6 846.4,1196.6 844.4,1196.6 842.4,1196.5 840.4,1196.5 838.4,1196.5 836.4,1196.5 834.4,1196.4 832.4,1196.4 830.4,1196.4 828.4,1196.3 826.4,1196.3 824.4,1196.3 822.4,1196.2 820.4,1196.2 818.4,1196.2 816.4,1196.1 814.4,1196.1 812.4,1196.1 810.4,1196.1 808.4,1196.0 806.4,1196.0 804.4,1196.0 802.4,1196.0 800.4,1196.0 798.4,1195.9 796.4,1195.9 794.4,1195.9 792.4,1195.9 790.4,1195.9 788.4,1195.9 786.4,1195.9 784.4,1196.0 782.4,1196.0 780.4,1196.0 778.4,1196.0 776.4,1196.1 774.4,1196.1 772.4,1196.2 770.4,1196.2 768.4,1196.3 766.4,1196.4 764.4,1196.5 762.4,1196.5 760.4,1196.6 758.4,1196.8 756.5,1196.9 754.5,1197.0 752.5,1197.1 750.5,1197.3 748.5,1197.4 746.5,1197.6 744.5,1197.7 742.5,1197.9 740.5,1198.1 738.5,1198.3 736.5,1198.5 734.5,1198.8 732.5,1199.0 730.6,1199.3 728.6,1199.5 726.6,1199.8 724.6,1200.1 722.6,1200.4 720.6,1200.7 718.6,1201.0 716.7,1201.4 714.7,1201.7 712.7,1202.1 710.7,1202.5 708.8,1202.8 706.8,1203.3 704.8,1203.7 702.9,1204.1 700.9,1204.5 698.9,1205.0 697.0,1205.5 695.0,1205.9 693.1,1206.4 691.2,1207.0 689.2,1207.5 687.3,1208.0 685.4,1208.6 683.5,1209.1 681.5,1209.7 679.6,1210.3 677.7,1210.9 675.8,1211.5 673.9,1212.2 672.0,1212.8 670.1,1213.4 668.3,1214.1 666.4,1214.8 664.5,1215.4 662.6,1216.1 660.7,1216.8 658.9,1217.5 657.0,1218.2 655.1,1218.8 653.2,1219.5 651.4,1220.2 649.5,1220.9 647.6,1221.6 645.8,1222.3 643.9,1222.9 642.0,1223.6 640.1,1224.2 638.2,1224.9 636.3,1225.5 634.5,1226.2 632.6,1226.8 630.7,1227.4 628.8,1228.0 626.9,1228.6 624.9,1229.2 623.0,1229.8 621.1,1230.3 619.2,1230.9 617.3,1231.4 615.4,1232.0 613.4,1232.5 611.5,1233.0 609.6,1233.5 607.7,1234.0 605.7,1234.5 603.8,1235.0 601.8,1235.5 599.9,1236.0 598.0,1236.4 596.0,1236.9 594.1,1237.3 592.1,1237.7 590.1,1238.2 588.2,1238.6 586.2,1239.0 584.3,1239.4 582.3,1239.8 580.3,1240.2 578.4,1240.6 576.4,1240.9 574.4,1241.3 572.5,1241.6 570.5,1242.0 568.5,1242.3 566.6,1242.7 564.6,1243.0 562.6,1243.3 560.6,1243.6 558.6,1243.9 556.7,1244.2 554.7,1244.5 552.7,1244.8 550.7,1245.1 548.7,1245.4 546.7,1245.6 544.7,1245.9 542.8,1246.1 540.8,1246.4 538.8,1246.6 536.8,1246.9 534.8,1247.1 532.8,1247.3 530.8,1247.6 528.8,1247.8 526.8,1248.0 524.8,1248.2 522.8,1248.4 520.8,1248.6 518.8,1248.8 516.8,1249.0 514.8,1249.2 512.8,1249.4 510.8,1249.6 508.8,1249.8 506.8,1250.0 504.8,1250.2 502.8,1250.4 500.8,1250.5 498.8,1250.7 496.8,1250.9 494.8,1251.1 492.9,1251.3 490.9,1251.4 488.9,1251.6 486.9,1251.8 484.9,1252.0 482.9,1252.1 480.9,1252.3 478.9,1252.5 476.9,1252.7 474.9,1252.8 472.9,1253.0 470.9,1253.2 468.9,1253.4 466.9,1253.6 464.9,1253.7 462.9,1253.9 460.9,1254.1 458.9,1254.3 456.9,1254.5 454.9,1254.7 452.9,1254.9 450.9,1255.1 449.0,1255.3 447.0,1255.5 445.0,1255.7 443.0,1255.9" fill="#000"/>
<polygon points="432.5,1243.3 453.5,1243.3 453.5,1251.7 457.7,1251.7 457.7,1268.5 453.5,1268.5 453.5,1272.7 432.5,1272.7 432.5,1268.5 428.3,1268.5 428.3,1251.7 432.5,1251.7" fill="#000"/>
<polygon points="584.8,1214.3 605.8,1214.3 605.8,1222.7 610.0,1222.7 610.0,1239.5 605.8,1239.5 605.8,1243.7 584.8,1243.7 584.8,1239.5 580.6,1239.5 580.6,1222.7 584.8,1222.7" fill="#000"/>
<polygon points="736.6,922.3 757.6,922.3 757.6,930.7 761.8,930.7 761.8,947.5 757.6,947.5 757.6,951.7 736.6,951.7 736.6,947.5 732.4,947.5 732.4,930.7 736.6,930.7" fill="#000"/>
<polygon points="888.5,775.3 909.5,775.3 909.5,783.7 913.7,783.7 913.7,800.5 909.5,800.5 909.5,804.7 888.5,804.7 888.5,800.5 884.3,800.5 884.3,783.7 888.5,783.7" fill="#000"/>
<polygon points="1041.6,537.8 1062.6,537.8 1062.6,546.2 1066.8,546.2 1066.8,563.0 1062.6,563.0 1062.6,567.2 1041.6,567.2 1041.6,563.0 1037.4,563.0 1037.4,546.2 1041.6,546.2" fill="#000"/>
<polygon points="1346.0,525.2 1367.0,525.2 1367.0,533.6 1371.2,533.6 1371.2,550.4 1367.0,550.4 1367.0,554.6 1346.0,554.6 1346.0,550.4 1341.8,550.4 1341.8,533.6 1346.0,533.6" fill="#000"/>
<polygon points="1650.4,571.0 1671.4,571.0 1671.4,579.4 1675.6,579.4 1675.6,596.2 1671.4,596.2 1671.4,600.4 1650.4,600.4 1650.4,596.2 1646.2,596.2 1646.2,579.4 1650.4,579.4" fill="#000"/>
<polygon points="432.5,1243.3 453.5,1243.3 453.5,1251.7 457.7,1251.7 457.7,1268.5 453.5,1268.5 453.5,1272.7 432.5,1272.7 432.5,1268.5 428.3,1268.5 428.3,1251.7 432.5,1251.7" fill="#000"/><polygon points="436.7,1247.5 449.3,1247.5 449.3,1251.7 453.5,1251.7 453.5,1264.3 449.3,1264.3 449.3,1268.5 436.7,1268.5 436.7,1264.3 432.5,1264.3 432.5,1251.7 436.7,1251.7" fill="#fff"/>
<polygon points="584.8,1221.3 605.8,1221.3 605.8,1229.7 610.0,1229.7 610.0,1246.5 605.8,1246.5 605.8,1250.7 584.8,1250.7 584.8,1246.5 580.6,1246.5 580.6,1229.7 584.8,1229.7" fill="#000"/><polygon points="589.0,1225.5 601.6,1225.5 601.6,1229.7 605.8,1229.7 605.8,1242.3 601.6,1242.3 601.6,1246.5 589.0,1246.5 589.0,1242.3 584.8,1242.3 584.8,1229.7 589.0,1229.7" fill="#fff"/>
<polygon points="736.6,1124.6 757.6,1124.6 757.6,1133.0 761.8,1133.0 761.8,1149.8 757.6,1149.8 757.6,1154.0 736.6,1154.0 736.6,1149.8 732.4,1149.8 732.4,1133.0 736.6,1133.0" fill="#000"/><polygon points="740.8,1128.8 753.4,1128.8 753.4,1133.0 757.6,1133.0 757.6,1145.6 753.4,1145.6 753.4,1149.8 740.8,1149.8 740.8,1145.6 736.6,1145.6 736.6,1133.0 740.8,1133.0" fill="#fff"/>
<polygon points="889.5,1091.3 910.5,1091.3 910.5,1099.7 914.7,1099.7 914.7,1116.5 910.5,1116.5 910.5,1120.7 889.5,1120.7 889.5,1116.5 885.3,1116.5 885.3,1099.7 889.5,1099.7" fill="#000"/><polygon points="893.7,1095.5 906.3,1095.5 906.3,1099.7 910.5,1099.7 910.5,1112.3 906.3,1112.3 906.3,1116.5 893.7,1116.5 893.7,1112.3 889.5,1112.3 889.5,1099.7 893.7,1099.7" fill="#fff"/>
<polygon points="1041.5,1010.1 1062.5,1010.1 1062.5,1018.5 1066.7,1018.5 1066.7,1035.3 1062.5,1035.3 1062.5,1039.5 1041.5,1039.5 1041.5,1035.3 1037.3,1035.3 1037.3,1018.5 1041.5,1018.5" fill="#000"/><polygon points="1045.7,1014.3 1058.3,1014.3 1058.3,1018.5 1062.5,1018.5 1062.5,1031.1 1058.3,1031.1 1058.3,1035.3 1045.7,1035.3 1045.7,1031.1 1041.5,1031.1 1041.5,1018.5 1045.7,1018.5" fill="#fff"/>
<polygon points="1345.8,967.9 1366.8,967.9 1366.8,976.3 1371.0,976.3 1371.0,993.1 1366.8,993.1 1366.8,997.3 1345.8,997.3 1345.8,993.1 1341.6,993.1 1341.6,976.3 1345.8,976.3" fill="#000"/><polygon points="1350.0,972.1 1362.6,972.1 1362.6,976.3 1366.8,976.3 1366.8,988.9 1362.6,988.9 1362.6,993.1 1350.0,993.1 1350.0,988.9 1345.8,988.9 1345.8,976.3 1350.0,976.3" fill="#fff"/>
<polygon points="1649.9,1007.3 1670.9,1007.3 1670.9,1015.7 1675.1,1015.7 1675.1,1032.5 1670.9,1032.5 1670.9,1036.7 1649.9,1036.7 1649.9,1032.5 1645.7,1032.5 1645.7,1015.7 1649.9,1015.7" fill="#000"/><polygon points="1654.1,1011.5 1666.7,1011.5 1666.7,1015.7 1670.9,1015.7 1670.9,1028.3 1666.7,1028.3 1666.7,1032.5 1654.1,1032.5 1654.1,1028.3 1649.9,1028.3 1649.9,1015.7 1654.1,1015.7" fill="#fff"/>
<rect x="428.3" y="1243.3" width="29.4" height="29.4" fill="#000"/>
<rect x="580.6" y="1225.3" width="29.4" height="29.4" fill="#000"/>
<rect x="732.4" y="1172.3" width="29.4" height="29.4" fill="#000"/>
<rect x="885.1" y="1137.7" width="29.4" height="29.4" fill="#000"/>
<rect x="1037.4" y="1129.1" width="29.4" height="29.4" fill="#000"/>
<rect x="1341.8" y="1120.6" width="29.4" height="29.4" fill="#000"/>
<rect x="1646.2" y="1090.8" width="29.4" height="29.4" fill="#000"/>
<rect x="428.3" y="1243.3" width="29.4" height="29.4" fill="#000"/><rect x="432.5" y="1247.5" width="21.0" height="21.0" fill="#fff"/>
<rect x="580.6" y="1230.3" width="29.4" height="29.4" fill="#000"/><rect x="584.8" y="1234.5" width="21.0" height="21.0" fill="#fff"/>
<rect x="732.4" y="1179.3" width="29.4" height="29.4" fill="#000"/><rect x="736.6" y="1183.5" width="21.0" height="21.0" fill="#fff"/>
<rect x="885.1" y="1184.1" width="29.4" height="29.4" fill="#000"/><rect x="889.3" y="1188.3" width="21.0" height="21.0" fill="#fff"/>
<rect x="1037.4" y="1167.3" width="29.4" height="29.4" fill="#000"/><rect x="1041.6" y="1171.5" width="21.0" height="21.0" fill="#fff"/>
<rect x="1341.3" y="1171.5" width="29.4" height="29.4" fill="#000"/><rect x="1345.5" y="1175.7" width="21.0" height="21.0" fill="#fff"/>
<rect x="1645.7" y="1166.8" width="29.4" height="29.4" fill="#000"/><rect x="1649.9" y="1171.0" width="21.0" height="21.0" fill="#fff"/>
<text transform="translate(1017.58 1693.30) scale(0.9111 1)" font-size="85.47" font-family="Liberation Serif, sans-serif" font-weight="normal">(</text>
<text transform="translate(1044.37 1692.96) scale(0.9527 1)" font-size="85.80" font-family="Liberation Serif, sans-serif" font-weight="bold">a</text>
<text transform="translate(1086.49 1693.30) scale(0.9111 1)" font-size="85.47" font-family="Liberation Serif, sans-serif" font-weight="normal">)</text>
<rect x="461.6" y="1805.3" width="1522.30" height="1258.00" fill="none" stroke="#000" stroke-width="4.15"/>
<line x1="766.1" y1="3063.3" x2="766.1" y2="3035.8" stroke="#000" stroke-width="4.15"/>
<line x1="766.1" y1="1805.3" x2="766.1" y2="1832.8" stroke="#000" stroke-width="4.15"/>
<line x1="1070.5" y1="3063.3" x2="1070.5" y2="3035.8" stroke="#000" stroke-width="4.15"/>
<line x1="1070.5" y1="1805.3" x2="1070.5" y2="1832.8" stroke="#000" stroke-width="4.15"/>
<line x1="1375.0" y1="3063.3" x2="1375.0" y2="3035.8" stroke="#000" stroke-width="4.15"/>
<line x1="1375.0" y1="1805.3" x2="1375.0" y2="1832.8" stroke="#000" stroke-width="4.15"/>
<line x1="1679.4" y1="3063.3" x2="1679.4" y2="3035.8" stroke="#000" stroke-width="4.15"/>
<line x1="1679.4" y1="1805.3" x2="1679.4" y2="1832.8" stroke="#000" stroke-width="4.15"/>
<line x1="461.6" y1="2058.6" x2="489.1" y2="2058.6" stroke="#000" stroke-width="4.15"/>
<line x1="1983.9" y1="2058.6" x2="1956.4" y2="2058.6" stroke="#000" stroke-width="4.15"/>
<line x1="461.6" y1="2307.7" x2="489.1" y2="2307.7" stroke="#000" stroke-width="4.15"/>
<line x1="1983.9" y1="2307.7" x2="1956.4" y2="2307.7" stroke="#000" stroke-width="4.15"/>
<line x1="461.6" y1="2561.0" x2="489.1" y2="2561.0" stroke="#000" stroke-width="4.15"/>
<line x1="1983.9" y1="2561.0" x2="1956.4" y2="2561.0" stroke="#000" stroke-width="4.15"/>
<line x1="461.6" y1="2810.2" x2="489.1" y2="2810.2" stroke="#000" stroke-width="4.15"/>
<line x1="1983.9" y1="2810.2" x2="1956.4" y2="2810.2" stroke="#000" stroke-width="4.15"/>
<text transform="translate(332.29 1820.00) scale(0.9800 1)" font-size="53.99" font-family="Liberation Sans, sans-serif" font-weight="normal">400</text>
<text transform="translate(331.47 2072.80) scale(1.0080 1)" font-size="52.99" font-family="Liberation Sans, sans-serif" font-weight="normal">300</text>
<text transform="translate(331.28 2326.40) scale(1.0109 1)" font-size="53.56" font-family="Liberation Sans, sans-serif" font-weight="normal">200</text>
<text transform="translate(334.53 2575.80) scale(0.9762 1)" font-size="53.42" font-family="Liberation Sans, sans-serif" font-weight="normal">100</text>
<text transform="translate(391.46 2828.80) scale(0.9738 1)" font-size="53.71" font-family="Liberation Sans, sans-serif" font-weight="normal">0</text>
<text transform="translate(314.65 3077.40) scale(0.9960 1)" font-size="53.13" font-family="Liberation Sans, sans-serif" font-weight="normal">-100</text>
<text transform="translate(446.75 3149.70) scale(1.0000 1)" font-size="53.42" font-family="Liberation Sans, sans-serif" font-weight="normal">0</text>
<text transform="translate(751.21 3149.70) scale(1.0000 1)" font-size="53.42" font-family="Liberation Sans, sans-serif" font-weight="normal">2</text>
<text transform="translate(1055.83 3149.70) scale(1.0000 1)" font-size="53.42" font-family="Liberation Sans, sans-serif" font-weight="normal">4</text>
<text transform="translate(1359.94 3149.70) scale(1.0000 1)" font-size="53.42" font-family="Liberation Sans, sans-serif" font-weight="normal">6</text>
<text transform="translate(1664.59 3149.70) scale(1.0000 1)" font-size="53.42" font-family="Liberation Sans, sans-serif" font-weight="normal">8</text>
<text transform="translate(1953.20 3149.70) scale(1.0000 1)" font-size="53.42" font-family="Liberation Sans, sans-serif" font-weight="normal">10</text>
<text transform="translate(881.57 3268.20) scale(0.9860 1)" font-size="60.90" font-family="Liberation Sans, sans-serif" font-weight="normal">Degradation time (weeks)</text>
<text transform="translate(155.30 2715.26) rotate(-90) scale(0.9749 1)" font-size="61.77" font-family="Liberation Sans, sans-serif" stroke="#fff" stroke-width="1.3">Water absorption (%)</text>
<rect x="542.3" y="2755.6" width="472.9" height="285.9" fill="#fff" stroke="#000" stroke-width="4.15"/>
<line x1="573.3" y1="2810.2" x2="721.5" y2="2810.2" stroke="#000" stroke-width="4.15"/>
<polygon points="637.1,2795.5 658.1,2795.5 658.1,2803.9 662.3,2803.9 662.3,2820.7 658.1,2820.7 658.1,2824.9 637.1,2824.9 637.1,2820.7 632.9,2820.7 632.9,2803.9 637.1,2803.9" fill="#000"/>
<line x1="573.3" y1="2869.2" x2="721.5" y2="2869.2" stroke="#000" stroke-width="4.15"/>
<polygon points="637.1,2854.5 658.1,2854.5 658.1,2862.9 662.3,2862.9 662.3,2879.7 658.1,2879.7 658.1,2883.9 637.1,2883.9 637.1,2879.7 632.9,2879.7 632.9,2862.9 637.1,2862.9" fill="#000"/><polygon points="641.3,2858.7 653.9,2858.7 653.9,2862.9 658.1,2862.9 658.1,2875.5 653.9,2875.5 653.9,2879.7 641.3,2879.7 641.3,2875.5 637.1,2875.5 637.1,2862.9 641.3,2862.9" fill="#fff"/>
<line x1="573.3" y1="2928.2" x2="721.5" y2="2928.2" stroke="#000" stroke-width="4.15"/>
<rect x="632.9" y="2913.5" width="29.4" height="29.4" fill="#000"/>
<line x1="573.3" y1="2987.2" x2="721.5" y2="2987.2" stroke="#000" stroke-width="4.15"/>
<rect x="632.9" y="2972.5" width="29.4" height="29.4" fill="#000"/><rect x="637.1" y="2976.7" width="21.0" height="21.0" fill="#fff"/>
<text transform="translate(731.84 2828.80) scale(0.9411 1)" font-size="53.93" font-family="Liberation Sans, sans-serif" font-weight="normal">DLGA %0</text>
<text transform="translate(731.81 2887.80) scale(0.9478 1)" font-size="53.93" font-family="Liberation Sans, sans-serif" font-weight="normal">DLGA %10</text>
<text transform="translate(731.83 2946.80) scale(0.9421 1)" font-size="53.93" font-family="Liberation Sans, sans-serif" font-weight="normal">DLGA %30</text>
<text transform="translate(731.83 3005.80) scale(0.9421 1)" font-size="53.93" font-family="Liberation Sans, sans-serif" font-weight="normal">DLGA %50</text>
<text transform="translate(1589.03 2111.30) scale(0.9922 1)" font-size="61.05" font-family="Liberation Sans, sans-serif" font-weight="normal">PLGA 75/25</text>
<polygon points="463.7,2810.0 464.0,2808.0 464.3,2806.1 464.6,2804.1 464.9,2802.1 465.1,2800.1 465.4,2798.2 465.7,2796.2 466.0,2794.2 466.3,2792.2 466.6,2790.3 466.9,2788.3 467.2,2786.3 467.5,2784.3 467.8,2782.4 468.1,2780.4 468.4,2778.4 468.7,2776.4 469.0,2774.4 469.3,2772.5 469.6,2770.5 469.9,2768.5 470.2,2766.5 470.5,2764.6 470.8,2762.6 471.2,2760.6 471.5,2758.6 471.8,2756.7 472.1,2754.7 472.4,2752.7 472.7,2750.7 473.0,2748.7 473.3,2746.8 473.6,2744.8 473.9,2742.8 474.3,2740.8 474.6,2738.8 474.9,2736.9 475.2,2734.9 475.5,2732.9 475.8,2730.9 476.2,2729.0 476.5,2727.0 476.8,2725.0 477.1,2723.0 477.4,2721.0 477.8,2719.1 478.1,2717.1 478.4,2715.1 478.7,2713.1 479.1,2711.1 479.4,2709.2 479.7,2707.2 480.0,2705.2 480.4,2703.2 480.7,2701.3 481.0,2699.3 481.4,2697.3 481.7,2695.3 482.0,2693.3 482.4,2691.4 482.7,2689.4 483.0,2687.4 483.4,2685.4 483.7,2683.5 484.0,2681.5 484.4,2679.5 484.7,2677.5 485.1,2675.5 485.4,2673.6 485.7,2671.6 486.1,2669.6 486.4,2667.6 486.8,2665.7 487.1,2663.7 487.5,2661.7 487.8,2659.7 488.2,2657.8 488.5,2655.8 488.9,2653.8 489.2,2651.8 489.6,2649.9 489.9,2647.9 490.3,2645.9 490.6,2643.9 491.0,2642.0 491.3,2640.0 491.7,2638.0 492.1,2636.0 492.4,2634.1 492.8,2632.1 493.1,2630.1 493.5,2628.1 493.9,2626.2 494.2,2624.2 494.6,2622.2 495.0,2620.2 495.3,2618.3 495.7,2616.3 496.1,2614.3 496.4,2612.4 496.8,2610.4 497.2,2608.4 497.6,2606.5 497.9,2604.5 498.3,2602.5 498.7,2600.5 499.1,2598.6 499.4,2596.6 499.8,2594.6 500.2,2592.7 500.6,2590.7 501.0,2588.7 501.4,2586.8 501.7,2584.8 502.1,2582.8 502.5,2580.9 502.9,2578.9 503.3,2576.9 503.7,2575.0 504.1,2573.0 504.5,2571.0 504.9,2569.1 505.3,2567.1 505.7,2565.2 506.1,2563.2 506.5,2561.2 506.9,2559.3 507.3,2557.3 507.7,2555.3 508.1,2553.4 508.5,2551.4 508.9,2549.5 509.3,2547.5 509.7,2545.5 510.1,2543.6 510.5,2541.6 510.9,2539.7 511.3,2537.7 511.8,2535.8 512.2,2533.8 512.6,2531.8 513.0,2529.9 513.4,2527.9 513.8,2526.0 514.3,2524.0 514.7,2522.1 515.1,2520.1 515.5,2518.2 516.0,2516.2 516.4,2514.3 516.8,2512.3 517.2,2510.4 517.7,2508.4 518.1,2506.5 518.5,2504.5 519.0,2502.6 519.4,2500.6 519.8,2498.7 520.3,2496.7 520.7,2494.8 521.2,2492.9 521.6,2490.9 522.1,2489.0 522.5,2487.0 522.9,2485.1 523.4,2483.1 523.8,2481.2 524.3,2479.3 524.8,2477.3 525.2,2475.4 525.7,2473.4 526.1,2471.5 526.6,2469.6 527.1,2467.6 527.6,2465.7 528.1,2463.8 528.5,2461.9 529.0,2459.9 529.5,2458.0 530.1,2456.1 530.6,2454.2 531.1,2452.3 531.6,2450.3 532.2,2448.4 532.7,2446.5 533.3,2444.6 533.9,2442.7 534.5,2440.8 535.1,2438.9 535.7,2437.0 536.3,2435.1 536.9,2433.2 537.5,2431.4 538.2,2429.5 538.9,2427.6 539.5,2425.7 540.2,2423.9 540.9,2422.0 541.7,2420.1 542.4,2418.3 543.1,2416.4 543.9,2414.6 544.7,2412.7 545.5,2410.9 546.3,2409.1 547.1,2407.2 548.0,2405.4 548.9,2403.6 549.7,2401.8 550.6,2400.0 551.6,2398.2 552.5,2396.4 553.5,2394.6 554.5,2392.8 555.5,2391.0 556.5,2389.2 557.5,2387.5 558.6,2385.7 559.7,2384.0 560.8,2382.2 561.9,2380.5 563.1,2378.7 564.3,2377.0 565.5,2375.3 566.7,2373.6 568.0,2371.8 569.3,2370.2 570.6,2368.5 571.9,2366.8 573.2,2365.2 574.6,2363.6 576.0,2362.0 577.4,2360.4 578.9,2358.9 578.3,2359.6 579.7,2358.2 581.3,2356.8 582.8,2355.5 584.3,2354.3 585.9,2353.1 587.5,2352.0 589.1,2351.0 590.7,2350.1 592.4,2349.2 594.1,2348.4 595.7,2347.8 597.4,2347.2 599.2,2346.7 600.9,2346.3 602.7,2346.0 604.4,2345.9 606.2,2345.8 608.0,2345.9 609.8,2346.0 611.5,2346.3 613.3,2346.7 615.0,2347.2 616.7,2347.8 618.4,2348.5 620.0,2349.3 621.6,2350.3 623.2,2351.3 624.7,2352.4 626.2,2353.6 627.7,2354.9 629.1,2356.3 628.4,2355.7 629.8,2357.2 631.1,2358.7 632.5,2360.4 633.8,2362.0 635.0,2363.8 636.2,2365.5 637.4,2367.3 638.6,2369.1 639.8,2371.0 640.9,2372.8 642.0,2374.7 643.0,2376.6 644.1,2378.5 645.1,2380.4 646.0,2382.2 647.0,2384.1 647.9,2385.9 648.8,2387.8 649.7,2389.6 650.6,2391.4 651.4,2393.2 652.3,2395.0 653.1,2396.8 653.9,2398.6 654.6,2400.4 655.4,2402.2 656.2,2404.0 656.9,2405.8 657.7,2407.6 658.4,2409.4 659.2,2411.2 659.9,2413.0 660.6,2414.8 661.4,2416.6 662.1,2418.4 662.8,2420.3 663.5,2422.1 664.2,2423.9 665.0,2425.8 665.7,2427.6 666.4,2429.5 667.1,2431.3 667.8,2433.2 668.5,2435.0 669.2,2436.9 669.9,2438.8 670.6,2440.6 671.3,2442.5 672.0,2444.4 672.7,2446.3 673.4,2448.1 674.1,2450.0 674.8,2451.9 675.5,2453.8 676.2,2455.7 676.9,2457.6 677.6,2459.5 678.3,2461.3 679.0,2463.2 679.7,2465.1 680.4,2467.0 681.1,2468.9 681.8,2470.8 682.5,2472.7 683.2,2474.6 683.9,2476.5 684.6,2478.4 685.3,2480.3 686.0,2482.2 686.7,2484.1 687.4,2486.0 688.2,2487.9 688.9,2489.7 689.6,2491.6 690.3,2493.5 691.0,2495.4 691.7,2497.3 692.4,2499.1 693.2,2501.0 693.9,2502.9 694.6,2504.8 695.3,2506.6 696.1,2508.5 696.8,2510.4 697.5,2512.2 698.3,2514.1 699.0,2515.9 699.8,2517.8 700.5,2519.6 701.3,2521.5 702.1,2523.3 702.8,2525.1 703.6,2527.0 704.4,2528.8 705.1,2530.6 705.9,2532.4 706.7,2534.3 707.5,2536.1 708.3,2537.9 709.1,2539.7 710.0,2541.5 710.8,2543.3 711.6,2545.1 712.4,2547.0 713.3,2548.8 714.1,2550.5 715.0,2552.3 715.9,2554.1 716.7,2555.9 717.6,2557.7 718.5,2559.5 719.4,2561.3 720.3,2563.0 721.2,2564.8 722.1,2566.6 723.1,2568.4 724.0,2570.1 725.0,2571.9 725.9,2573.6 726.9,2575.4 727.9,2577.2 728.9,2578.9 729.9,2580.7 730.9,2582.4 731.9,2584.1 733.0,2585.9 734.0,2587.6 735.1,2589.4 736.2,2591.1 737.2,2592.8 738.3,2594.5 739.4,2596.2 740.6,2597.9 741.7,2599.6 742.9,2601.3 744.1,2602.9 745.3,2604.6 746.5,2606.2 747.8,2607.7 749.0,2609.3 750.3,2610.8 751.6,2612.3 753.0,2613.8 754.4,2615.2 757.9,2618.7 759.3,2620.1 760.7,2621.4 762.2,2622.7 763.8,2623.9 765.3,2625.1 766.9,2626.3 768.5,2627.4 770.2,2628.4 771.9,2629.4 773.6,2630.3 775.4,2631.2 777.2,2632.0 779.1,2632.8 781.0,2633.5 782.9,2634.2 784.8,2634.8 786.7,2635.3 788.7,2635.8 790.7,2636.3 792.7,2636.7 794.7,2637.0 796.7,2637.3 798.7,2637.5 800.7,2637.7 802.7,2637.9 804.7,2638.0 806.8,2638.1 808.8,2638.1 810.8,2638.0 812.7,2638.0 814.7,2637.9 816.7,2637.7 818.7,2637.5 820.6,2637.3 822.6,2637.0 824.6,2636.7 826.5,2636.4 828.5,2636.0 830.4,2635.6 832.3,2635.2 834.3,2634.8 836.2,2634.3 838.1,2633.8 840.0,2633.3 842.0,2632.7 843.9,2632.2 845.8,2631.6 847.7,2631.0 849.6,2630.4 851.5,2629.7 853.4,2629.1 855.3,2628.4 857.2,2627.7 859.1,2627.1 861.0,2626.4 862.9,2625.7 864.8,2625.0 866.7,2624.2 868.6,2623.5 870.5,2622.8 872.4,2622.1 874.3,2621.4 876.2,2620.7 878.1,2620.0 880.0,2619.3 881.8,2618.6 883.7,2617.9 885.6,2617.2 887.5,2616.5 889.4,2615.9 891.3,2615.2 893.3,2614.6 895.2,2614.0 897.1,2613.4 899.0,2612.8 900.9,2612.2 902.8,2611.7 904.7,2611.2 906.7,2610.7 908.6,2610.2 910.5,2609.7 912.5,2609.3 914.4,2608.9 916.3,2608.5 918.3,2608.1 920.2,2607.7 922.2,2607.3 924.1,2607.0 926.1,2606.7 928.0,2606.4 930.0,2606.1 931.9,2605.8 933.9,2605.6 935.8,2605.3 937.8,2605.1 939.8,2604.9 941.7,2604.7 943.7,2604.5 945.7,2604.3 947.7,2604.2 949.6,2604.0 951.6,2603.9 953.6,2603.7 955.6,2603.6 957.6,2603.5 959.5,2603.4 961.5,2603.3 963.5,2603.3 965.5,2603.2 967.5,2603.1 969.5,2603.1 971.5,2603.1 973.5,2603.0 975.5,2603.0 977.5,2603.0 979.5,2603.0 981.5,2603.0 983.5,2603.0 985.5,2603.0 987.5,2603.0 989.5,2603.0 991.5,2603.0 993.5,2603.0 995.5,2603.1 997.5,2603.1 999.5,2603.1 1001.5,2603.2 1003.5,2603.2 1005.5,2603.3 1007.5,2603.3 1009.5,2603.4 1011.5,2603.4 1013.5,2603.5 1015.5,2603.5 1017.5,2603.5 1019.5,2603.6 1021.5,2603.6 1023.5,2603.7 1025.6,2603.7 1027.6,2603.8 1029.6,2603.8 1031.6,2603.8 1033.6,2603.9 1035.6,2603.9 1037.6,2603.9 1039.6,2603.9 1041.6,2604.0 1043.6,2604.0 1045.6,2604.0 1047.6,2604.0 1049.6,2604.0 1051.6,2604.1 1053.6,2604.1 1055.6,2604.2 1057.6,2604.3 1059.5,2604.4 1061.5,2604.5 1063.5,2604.7 1065.5,2604.9 1067.5,2605.1 1069.4,2605.3 1071.4,2605.6 1073.4,2606.0 1075.3,2606.3 1077.3,2606.8 1079.2,2607.2 1081.2,2607.6 1083.1,2608.1 1085.0,2608.6 1087.0,2609.2 1088.9,2609.7 1090.8,2610.3 1092.7,2610.8 1094.6,2611.4 1096.5,2612.0 1098.4,2612.6 1100.3,2613.3 1102.2,2613.9 1104.1,2614.6 1106.0,2615.2 1107.8,2615.9 1109.7,2616.6 1111.6,2617.3 1113.4,2618.1 1115.3,2618.8 1117.1,2619.6 1118.9,2620.4 1120.8,2621.1 1122.6,2621.9 1124.4,2622.7 1126.3,2623.6 1128.1,2624.4 1129.9,2625.2 1131.7,2626.1 1133.5,2627.0 1135.3,2627.9 1137.1,2628.8 1138.8,2629.7 1140.6,2630.6 1142.4,2631.5 1144.2,2632.4 1145.9,2633.4 1147.7,2634.3 1149.4,2635.3 1151.2,2636.3 1152.9,2637.3 1154.6,2638.3 1156.4,2639.3 1158.1,2640.3 1159.8,2641.3 1161.5,2642.4 1163.3,2643.4 1165.0,2644.5 1166.7,2645.5 1168.4,2646.6 1170.0,2647.7 1171.7,2648.8 1173.4,2649.9 1175.1,2651.0 1176.8,2652.1 1178.4,2653.2 1180.1,2654.3 1181.7,2655.4 1183.4,2656.6 1185.0,2657.7 1186.7,2658.9 1188.3,2660.0 1189.9,2661.2 1191.6,2662.4 1193.2,2663.5 1194.8,2664.7 1196.4,2665.9 1198.0,2667.1 1199.6,2668.3 1201.2,2669.5 1202.8,2670.7 1204.4,2671.9 1206.0,2673.1 1207.6,2674.3 1209.2,2675.5 1210.8,2676.8 1212.3,2678.0 1213.9,2679.2 1215.5,2680.4 1217.1,2681.7 1218.7,2682.9 1220.2,2684.1 1221.8,2685.3 1223.4,2686.6 1224.9,2687.8 1226.5,2689.0 1228.1,2690.3 1229.7,2691.5 1231.2,2692.7 1232.8,2693.9 1234.4,2695.2 1236.0,2696.4 1237.6,2697.6 1239.1,2698.8 1240.7,2700.0 1242.3,2701.3 1243.9,2702.5 1245.5,2703.7 1247.1,2704.9 1248.7,2706.1 1250.3,2707.3 1251.9,2708.5 1253.5,2709.7 1255.1,2710.8 1256.7,2712.0 1258.3,2713.2 1259.9,2714.4 1261.6,2715.5 1263.2,2716.7 1264.8,2717.8 1266.5,2719.0 1268.1,2720.1 1269.8,2721.2 1271.4,2722.3 1273.1,2723.5 1274.8,2724.6 1276.4,2725.7 1278.1,2726.7 1279.8,2727.8 1281.5,2728.9 1283.2,2729.9 1284.9,2731.0 1286.7,2732.0 1288.4,2733.1 1290.1,2734.1 1291.9,2735.1 1293.6,2736.1 1295.4,2737.1 1297.2,2738.0 1298.9,2739.0 1300.7,2740.0 1302.5,2740.9 1304.3,2741.8 1306.1,2742.7 1307.9,2743.6 1309.7,2744.5 1311.6,2745.4 1313.4,2746.3 1315.2,2747.1 1317.1,2747.9 1318.9,2748.7 1320.8,2749.5 1322.6,2750.3 1324.5,2751.1 1326.4,2751.8 1328.2,2752.6 1330.1,2753.3 1332.0,2754.0 1333.9,2754.7 1335.8,2755.4 1337.7,2756.0 1339.6,2756.6 1341.5,2757.3 1343.4,2757.9 1345.3,2758.4 1347.2,2759.0 1349.1,2759.5 1351.0,2760.1 1353.0,2760.6 1354.9,2761.0 1356.8,2761.5 1358.8,2762.0 1360.7,2762.4 1362.6,2762.8 1364.6,2763.2 1366.5,2763.5 1368.5,2763.8 1370.4,2764.2 1372.4,2764.5 1374.3,2764.7 1376.3,2765.0 1378.2,2765.2 1380.2,2765.4 1382.2,2765.6 1384.1,2765.7 1386.1,2765.8 1388.0,2765.9 1390.0,2766.0 1392.0,2766.1 1393.9,2766.1 1395.9,2766.1 1397.8,2766.1 1399.8,2766.0 1401.8,2766.0 1403.7,2765.9 1405.7,2765.8 1407.7,2765.6 1409.6,2765.4 1411.6,2765.3 1413.5,2765.0 1415.5,2764.8 1417.5,2764.6 1419.4,2764.3 1421.4,2764.0 1423.3,2763.7 1425.3,2763.4 1427.3,2763.0 1429.2,2762.6 1431.2,2762.3 1433.1,2761.8 1435.1,2761.4 1437.0,2761.0 1439.0,2760.5 1441.0,2760.1 1442.9,2759.6 1444.9,2759.1 1446.8,2758.6 1448.8,2758.1 1450.7,2757.5 1452.7,2757.0 1454.6,2756.4 1456.6,2755.9 1458.5,2755.3 1460.4,2754.7 1462.4,2754.1 1464.3,2753.5 1466.3,2752.8 1468.2,2752.2 1470.1,2751.6 1472.1,2750.9 1474.0,2750.3 1475.9,2749.6 1477.9,2748.9 1479.8,2748.3 1481.7,2747.6 1483.7,2746.9 1485.6,2746.2 1487.5,2745.5 1489.4,2744.8 1491.3,2744.1 1493.3,2743.4 1495.2,2742.7 1497.1,2742.0 1499.0,2741.3 1500.9,2740.6 1502.8,2739.9 1504.7,2739.2 1506.6,2738.5 1508.5,2737.8 1510.4,2737.1 1512.3,2736.4 1514.2,2735.7 1516.1,2735.0 1518.0,2734.3 1519.9,2733.6 1521.8,2732.9 1523.6,2732.2 1525.5,2731.5 1527.4,2730.8 1529.3,2730.2 1531.1,2729.5 1533.0,2728.8 1534.9,2728.1 1536.7,2727.4 1538.6,2726.7 1540.4,2726.0 1542.3,2725.3 1544.2,2724.6 1546.0,2723.9 1547.8,2723.2 1549.7,2722.5 1551.5,2721.8 1553.4,2721.1 1555.2,2720.4 1557.0,2719.7 1558.9,2719.0 1560.7,2718.2 1562.5,2717.5 1564.3,2716.7 1566.1,2716.0 1568.0,2715.2 1569.8,2714.5 1571.6,2713.7 1573.4,2712.9 1575.2,2712.1 1577.0,2711.3 1578.8,2710.5 1580.6,2709.7 1582.3,2708.8 1584.1,2708.0 1585.9,2707.1 1587.7,2706.3 1589.5,2705.4 1591.2,2704.5 1593.0,2703.6 1594.7,2702.7 1596.5,2701.8 1598.3,2700.8 1600.0,2699.9 1601.8,2698.9 1603.5,2697.9 1605.2,2697.0 1607.0,2696.0 1608.7,2695.0 1610.5,2693.9 1612.2,2692.9 1613.9,2691.9 1615.6,2690.8 1617.4,2689.8 1619.1,2688.7 1620.8,2687.7 1622.5,2686.6 1624.2,2685.5 1626.0,2684.5 1627.7,2683.4 1629.4,2682.3 1631.1,2681.2 1632.8,2680.1 1634.5,2679.0 1636.2,2677.9 1637.9,2676.9 1639.6,2675.8 1641.3,2674.7 1643.0,2673.6 1644.8,2672.5 1646.5,2671.4 1648.2,2670.3 1649.9,2669.3 1651.6,2668.2 1653.3,2667.1 1655.0,2666.1 1656.7,2665.0 1658.4,2664.0 1660.1,2662.9 1661.8,2661.9 1663.5,2660.9 1665.2,2659.8 1667.0,2658.8 1668.7,2657.8 1670.4,2656.8 1672.1,2655.9 1673.8,2654.9 1675.5,2654.0 1677.3,2653.0 1679.0,2652.1 1679.0,2647.9 1677.3,2648.8 1675.5,2649.8 1673.8,2650.7 1672.1,2651.7 1670.4,2652.7 1668.7,2653.7 1667.0,2654.7 1665.2,2655.7 1663.5,2656.7 1661.8,2657.7 1660.1,2658.8 1658.4,2659.8 1656.7,2660.8 1655.0,2661.9 1653.3,2663.0 1651.6,2664.0 1649.9,2665.1 1648.2,2666.2 1646.5,2667.3 1644.8,2668.3 1643.0,2669.4 1641.3,2670.5 1639.6,2671.6 1637.9,2672.7 1636.2,2673.8 1634.5,2674.9 1632.8,2676.0 1631.1,2677.0 1629.4,2678.1 1627.7,2679.2 1626.0,2680.3 1624.2,2681.4 1622.5,2682.4 1620.8,2683.5 1619.1,2684.6 1617.4,2685.6 1615.6,2686.7 1613.9,2687.7 1612.2,2688.7 1610.5,2689.8 1608.7,2690.8 1607.0,2691.8 1605.2,2692.8 1603.5,2693.8 1601.8,2694.8 1600.0,2695.7 1598.3,2696.7 1596.5,2697.6 1594.7,2698.5 1593.0,2699.5 1591.2,2700.4 1589.5,2701.2 1587.7,2702.1 1585.9,2703.0 1584.1,2703.8 1582.3,2704.7 1580.6,2705.5 1578.8,2706.3 1577.0,2707.1 1575.2,2707.9 1573.4,2708.7 1571.6,2709.5 1569.8,2710.3 1568.0,2711.1 1566.1,2711.8 1564.3,2712.6 1562.5,2713.3 1560.7,2714.1 1558.9,2714.8 1557.0,2715.5 1555.2,2716.2 1553.4,2717.0 1551.5,2717.7 1549.7,2718.4 1547.8,2719.1 1546.0,2719.8 1544.2,2720.5 1542.3,2721.2 1540.4,2721.9 1538.6,2722.5 1536.7,2723.2 1534.9,2723.9 1533.0,2724.6 1531.1,2725.3 1529.3,2726.0 1527.4,2726.7 1525.5,2727.4 1523.6,2728.0 1521.8,2728.7 1519.9,2729.4 1518.0,2730.1 1516.1,2730.8 1514.2,2731.5 1512.3,2732.2 1510.4,2732.9 1508.5,2733.6 1506.6,2734.3 1504.7,2735.0 1502.8,2735.7 1500.9,2736.4 1499.0,2737.1 1497.1,2737.9 1495.2,2738.6 1493.3,2739.3 1491.3,2740.0 1489.4,2740.7 1487.5,2741.4 1485.6,2742.1 1483.7,2742.7 1481.7,2743.4 1479.8,2744.1 1477.9,2744.8 1475.9,2745.4 1474.0,2746.1 1472.1,2746.8 1470.1,2747.4 1468.2,2748.0 1466.3,2748.7 1464.3,2749.3 1462.4,2749.9 1460.4,2750.5 1458.5,2751.1 1456.6,2751.7 1454.6,2752.3 1452.7,2752.8 1450.7,2753.4 1448.8,2753.9 1446.8,2754.4 1444.9,2754.9 1442.9,2755.4 1441.0,2755.9 1439.0,2756.4 1437.0,2756.8 1435.1,2757.3 1433.1,2757.7 1431.2,2758.1 1429.2,2758.5 1427.3,2758.8 1425.3,2759.2 1423.3,2759.5 1421.4,2759.8 1419.4,2760.1 1417.5,2760.4 1415.5,2760.6 1413.5,2760.9 1411.6,2761.1 1409.6,2761.3 1407.7,2761.4 1405.7,2761.6 1403.7,2761.7 1401.8,2761.8 1399.8,2761.9 1397.8,2761.9 1395.9,2761.9 1393.9,2761.9 1392.0,2761.9 1390.0,2761.9 1388.0,2761.8 1386.1,2761.7 1384.1,2761.5 1382.2,2761.4 1380.2,2761.2 1378.2,2761.0 1376.3,2760.8 1374.3,2760.6 1372.4,2760.3 1370.4,2760.0 1368.5,2759.7 1366.5,2759.3 1364.6,2759.0 1362.6,2758.6 1360.7,2758.2 1358.8,2757.8 1356.8,2757.3 1354.9,2756.9 1353.0,2756.4 1351.0,2755.9 1349.1,2755.4 1347.2,2754.8 1345.3,2754.3 1343.4,2753.7 1341.5,2753.1 1339.6,2752.5 1337.7,2751.8 1335.8,2751.2 1333.9,2750.5 1332.0,2749.8 1330.1,2749.1 1328.2,2748.4 1326.4,2747.7 1324.5,2746.9 1322.6,2746.2 1320.8,2745.4 1318.9,2744.6 1317.1,2743.8 1315.2,2742.9 1313.4,2742.1 1311.6,2741.2 1309.7,2740.4 1307.9,2739.5 1306.1,2738.6 1304.3,2737.7 1302.5,2736.7 1300.7,2735.8 1298.9,2734.8 1297.2,2733.9 1295.4,2732.9 1293.6,2731.9 1291.9,2730.9 1290.1,2729.9 1288.4,2728.9 1286.7,2727.9 1284.9,2726.8 1283.2,2725.8 1281.5,2724.7 1279.8,2723.6 1278.1,2722.6 1276.4,2721.5 1274.8,2720.4 1273.1,2719.3 1271.4,2718.2 1269.8,2717.1 1268.1,2715.9 1266.5,2714.8 1264.8,2713.7 1263.2,2712.5 1261.6,2711.3 1259.9,2710.2 1258.3,2709.0 1256.7,2707.8 1255.1,2706.7 1253.5,2705.5 1251.9,2704.3 1250.3,2703.1 1248.7,2701.9 1247.1,2700.7 1245.5,2699.5 1243.9,2698.3 1242.3,2697.1 1240.7,2695.9 1239.1,2694.7 1237.6,2693.4 1236.0,2692.2 1234.4,2691.0 1232.8,2689.8 1231.2,2688.5 1229.7,2687.3 1228.1,2686.1 1226.5,2684.9 1224.9,2683.6 1223.4,2682.4 1221.8,2681.2 1220.2,2679.9 1218.7,2678.7 1217.1,2677.5 1215.5,2676.3 1213.9,2675.0 1212.3,2673.8 1210.8,2672.6 1209.2,2671.4 1207.6,2670.2 1206.0,2668.9 1204.4,2667.7 1202.8,2666.5 1201.2,2665.3 1199.6,2664.1 1198.0,2662.9 1196.4,2661.7 1194.8,2660.6 1193.2,2659.4 1191.6,2658.2 1189.9,2657.0 1188.3,2655.9 1186.7,2654.7 1185.0,2653.6 1183.4,2652.4 1181.7,2651.3 1180.1,2650.1 1178.4,2649.0 1176.8,2647.9 1175.1,2646.8 1173.4,2645.7 1171.7,2644.6 1170.0,2643.5 1168.4,2642.4 1166.7,2641.4 1165.0,2640.3 1163.3,2639.2 1161.5,2638.2 1159.8,2637.2 1158.1,2636.1 1156.4,2635.1 1154.6,2634.1 1152.9,2633.1 1151.2,2632.1 1149.4,2631.1 1147.7,2630.2 1145.9,2629.2 1144.2,2628.3 1142.4,2627.3 1140.6,2626.4 1138.8,2625.5 1137.1,2624.6 1135.3,2623.7 1133.5,2622.8 1131.7,2621.9 1129.9,2621.1 1128.1,2620.2 1126.3,2619.4 1124.4,2618.6 1122.6,2617.8 1120.8,2617.0 1118.9,2616.2 1117.1,2615.4 1115.3,2614.7 1113.4,2613.9 1111.6,2613.2 1109.7,2612.5 1107.8,2611.8 1106.0,2611.1 1104.1,2610.4 1102.2,2609.7 1100.3,2609.1 1098.4,2608.5 1096.5,2607.8 1094.6,2607.2 1092.7,2606.7 1090.8,2606.1 1088.9,2605.5 1087.0,2605.0 1085.0,2604.5 1083.1,2604.0 1081.2,2603.5 1079.2,2603.0 1077.3,2602.6 1075.3,2602.2 1073.4,2601.8 1071.4,2601.5 1069.4,2601.2 1067.5,2600.9 1065.5,2600.7 1063.5,2600.5 1061.5,2600.3 1059.5,2600.2 1057.6,2600.1 1055.6,2600.0 1053.6,2600.0 1051.6,2599.9 1049.6,2599.9 1047.6,2599.8 1045.6,2599.8 1043.6,2599.8 1041.6,2599.8 1039.6,2599.8 1037.6,2599.8 1035.6,2599.7 1033.6,2599.7 1031.6,2599.7 1029.6,2599.6 1027.6,2599.6 1025.6,2599.6 1023.5,2599.5 1021.5,2599.5 1019.5,2599.4 1017.5,2599.4 1015.5,2599.3 1013.5,2599.3 1011.5,2599.2 1009.5,2599.2 1007.5,2599.1 1005.5,2599.1 1003.5,2599.1 1001.5,2599.0 999.5,2599.0 997.5,2598.9 995.5,2598.9 993.5,2598.9 991.5,2598.9 989.5,2598.8 987.5,2598.8 985.5,2598.8 983.5,2598.8 981.5,2598.8 979.5,2598.8 977.5,2598.8 975.5,2598.8 973.5,2598.9 971.5,2598.9 969.5,2598.9 967.5,2599.0 965.5,2599.0 963.5,2599.1 961.5,2599.2 959.5,2599.3 957.6,2599.4 955.6,2599.5 953.6,2599.6 951.6,2599.7 949.6,2599.8 947.7,2600.0 945.7,2600.2 943.7,2600.3 941.7,2600.5 939.8,2600.7 937.8,2600.9 935.8,2601.2 933.9,2601.4 931.9,2601.7 930.0,2601.9 928.0,2602.2 926.1,2602.5 924.1,2602.8 922.2,2603.2 920.2,2603.5 918.3,2603.9 916.3,2604.3 914.4,2604.7 912.5,2605.1 910.5,2605.6 908.6,2606.0 906.7,2606.5 904.7,2607.0 902.8,2607.5 900.9,2608.1 899.0,2608.6 897.1,2609.2 895.2,2609.8 893.3,2610.4 891.3,2611.1 889.4,2611.7 887.5,2612.4 885.6,2613.0 883.7,2613.7 881.8,2614.4 880.0,2615.1 878.1,2615.8 876.2,2616.5 874.3,2617.2 872.4,2617.9 870.5,2618.6 868.6,2619.4 866.7,2620.1 864.8,2620.8 862.9,2621.5 861.0,2622.2 859.1,2622.9 857.2,2623.6 855.3,2624.2 853.4,2624.9 851.5,2625.5 849.6,2626.2 847.7,2626.8 845.8,2627.4 843.9,2628.0 842.0,2628.6 840.0,2629.1 838.1,2629.6 836.2,2630.1 834.3,2630.6 832.3,2631.0 830.4,2631.5 828.5,2631.9 826.5,2632.2 824.6,2632.6 822.6,2632.8 820.6,2633.1 818.7,2633.3 816.7,2633.5 814.7,2633.7 812.7,2633.8 810.8,2633.9 808.8,2633.9 806.8,2633.9 804.7,2633.8 802.7,2633.7 800.7,2633.6 798.7,2633.4 796.7,2633.1 794.7,2632.8 792.7,2632.5 790.7,2632.1 788.7,2631.6 786.7,2631.1 784.8,2630.6 782.9,2630.0 781.0,2629.3 779.1,2628.6 777.2,2627.9 775.4,2627.0 773.6,2626.2 771.9,2625.2 770.2,2624.2 768.5,2623.2 766.9,2622.1 765.3,2621.0 763.8,2619.8 762.2,2618.5 760.7,2617.2 759.3,2615.9 757.9,2614.6 758.5,2615.2 757.2,2613.8 755.8,2612.3 754.5,2610.8 753.2,2609.3 751.9,2607.7 750.7,2606.2 749.5,2604.6 748.2,2602.9 747.1,2601.3 745.9,2599.6 744.7,2597.9 743.6,2596.2 742.5,2594.5 741.4,2592.8 740.3,2591.1 739.2,2589.4 738.2,2587.6 737.1,2585.9 736.1,2584.1 735.1,2582.4 734.1,2580.7 733.1,2578.9 732.1,2577.2 731.1,2575.4 730.1,2573.6 729.1,2571.9 728.2,2570.1 727.2,2568.4 726.3,2566.6 725.4,2564.8 724.5,2563.0 723.6,2561.3 722.7,2559.5 721.8,2557.7 720.9,2555.9 720.0,2554.1 719.2,2552.3 718.3,2550.5 717.5,2548.8 716.6,2547.0 715.8,2545.1 714.9,2543.3 714.1,2541.5 713.3,2539.7 712.5,2537.9 711.7,2536.1 710.9,2534.3 710.1,2532.4 709.3,2530.6 708.5,2528.8 707.8,2527.0 707.0,2525.1 706.2,2523.3 705.5,2521.5 704.7,2519.6 704.0,2517.8 703.2,2515.9 702.5,2514.1 701.7,2512.2 701.0,2510.4 700.2,2508.5 699.5,2506.6 698.8,2504.8 698.1,2502.9 697.3,2501.0 696.6,2499.1 695.9,2497.3 695.2,2495.4 694.5,2493.5 693.7,2491.6 693.0,2489.7 692.3,2487.9 691.6,2486.0 690.9,2484.1 690.2,2482.2 689.5,2480.3 688.8,2478.4 688.1,2476.5 687.4,2474.6 686.7,2472.7 686.0,2470.8 685.3,2468.9 684.6,2467.0 683.9,2465.1 683.2,2463.2 682.5,2461.3 681.8,2459.5 681.1,2457.6 680.4,2455.7 679.7,2453.8 679.0,2451.9 678.3,2450.0 677.6,2448.1 676.9,2446.3 676.2,2444.4 675.5,2442.5 674.8,2440.6 674.1,2438.8 673.4,2436.9 672.7,2435.0 672.0,2433.2 671.3,2431.3 670.6,2429.5 669.8,2427.6 669.1,2425.8 668.4,2423.9 667.7,2422.1 667.0,2420.3 666.3,2418.4 665.5,2416.6 664.8,2414.8 664.1,2413.0 663.3,2411.2 662.6,2409.4 661.9,2407.6 661.1,2405.8 660.4,2404.0 659.6,2402.2 658.8,2400.4 658.0,2398.6 657.2,2396.8 656.4,2395.0 655.6,2393.2 654.8,2391.4 653.9,2389.6 653.0,2387.8 652.1,2385.9 651.2,2384.1 650.2,2382.2 649.2,2380.4 648.2,2378.5 647.2,2376.6 646.1,2374.7 645.0,2372.8 643.9,2371.0 642.8,2369.1 641.6,2367.3 640.4,2365.5 639.2,2363.8 637.9,2362.0 636.6,2360.4 635.3,2358.7 634.0,2357.2 632.6,2355.7 629.1,2352.1 627.7,2350.8 626.2,2349.5 624.7,2348.3 623.2,2347.1 621.6,2346.1 620.0,2345.2 618.4,2344.3 616.7,2343.6 615.0,2343.0 613.3,2342.5 611.5,2342.1 609.8,2341.9 608.0,2341.7 606.2,2341.6 604.4,2341.7 602.7,2341.9 600.9,2342.1 599.2,2342.5 597.4,2343.0 595.7,2343.6 594.1,2344.3 592.4,2345.0 590.7,2345.9 589.1,2346.8 587.5,2347.9 585.9,2349.0 584.3,2350.1 582.8,2351.4 581.3,2352.6 579.7,2354.0 578.3,2355.4 574.7,2358.9 573.3,2360.4 571.8,2362.0 570.4,2363.6 569.1,2365.2 567.7,2366.8 566.4,2368.5 565.1,2370.2 563.8,2371.8 562.5,2373.6 561.3,2375.3 560.1,2377.0 558.9,2378.7 557.8,2380.5 556.6,2382.2 555.5,2384.0 554.4,2385.7 553.4,2387.5 552.3,2389.2 551.3,2391.0 550.3,2392.8 549.3,2394.6 548.3,2396.4 547.4,2398.2 546.5,2400.0 545.6,2401.8 544.7,2403.6 543.8,2405.4 543.0,2407.2 542.1,2409.1 541.3,2410.9 540.5,2412.7 539.7,2414.6 539.0,2416.4 538.2,2418.3 537.5,2420.1 536.8,2422.0 536.1,2423.9 535.4,2425.7 534.7,2427.6 534.0,2429.5 533.4,2431.4 532.7,2433.2 532.1,2435.1 531.5,2437.0 530.9,2438.9 530.3,2440.8 529.7,2442.7 529.1,2444.6 528.6,2446.5 528.0,2448.4 527.5,2450.3 526.9,2452.3 526.4,2454.2 525.9,2456.1 525.4,2458.0 524.9,2459.9 524.4,2461.9 523.9,2463.8 523.4,2465.7 522.9,2467.6 522.4,2469.6 522.0,2471.5 521.5,2473.4 521.0,2475.4 520.6,2477.3 520.1,2479.3 519.7,2481.2 519.2,2483.1 518.8,2485.1 518.3,2487.0 517.9,2489.0 517.4,2490.9 517.0,2492.9 516.6,2494.8 516.1,2496.7 515.7,2498.7 515.2,2500.6 514.8,2502.6 514.4,2504.5 513.9,2506.5 513.5,2508.4 513.1,2510.4 512.6,2512.3 512.2,2514.3 511.8,2516.2 511.4,2518.2 510.9,2520.1 510.5,2522.1 510.1,2524.0 509.7,2526.0 509.2,2527.9 508.8,2529.9 508.4,2531.8 508.0,2533.8 507.6,2535.8 507.2,2537.7 506.8,2539.7 506.3,2541.6 505.9,2543.6 505.5,2545.5 505.1,2547.5 504.7,2549.5 504.3,2551.4 503.9,2553.4 503.5,2555.3 503.1,2557.3 502.7,2559.3 502.3,2561.2 501.9,2563.2 501.5,2565.2 501.1,2567.1 500.7,2569.1 500.3,2571.0 499.9,2573.0 499.5,2575.0 499.1,2576.9 498.7,2578.9 498.4,2580.9 498.0,2582.8 497.6,2584.8 497.2,2586.8 496.8,2588.7 496.4,2590.7 496.0,2592.7 495.7,2594.6 495.3,2596.6 494.9,2598.6 494.5,2600.5 494.1,2602.5 493.8,2604.5 493.4,2606.5 493.0,2608.4 492.6,2610.4 492.3,2612.4 491.9,2614.3 491.5,2616.3 491.2,2618.3 490.8,2620.2 490.4,2622.2 490.1,2624.2 489.7,2626.2 489.3,2628.1 489.0,2630.1 488.6,2632.1 488.2,2634.1 487.9,2636.0 487.5,2638.0 487.2,2640.0 486.8,2642.0 486.5,2643.9 486.1,2645.9 485.7,2647.9 485.4,2649.9 485.0,2651.8 484.7,2653.8 484.3,2655.8 484.0,2657.8 483.6,2659.7 483.3,2661.7 482.9,2663.7 482.6,2665.7 482.3,2667.6 481.9,2669.6 481.6,2671.6 481.2,2673.6 480.9,2675.5 480.5,2677.5 480.2,2679.5 479.9,2681.5 479.5,2683.5 479.2,2685.4 478.9,2687.4 478.5,2689.4 478.2,2691.4 477.9,2693.3 477.5,2695.3 477.2,2697.3 476.9,2699.3 476.5,2701.3 476.2,2703.2 475.9,2705.2 475.5,2707.2 475.2,2709.2 474.9,2711.1 474.6,2713.1 474.2,2715.1 473.9,2717.1 473.6,2719.1 473.3,2721.0 472.9,2723.0 472.6,2725.0 472.3,2727.0 472.0,2729.0 471.7,2730.9 471.4,2732.9 471.0,2734.9 470.7,2736.9 470.4,2738.8 470.1,2740.8 469.8,2742.8 469.5,2744.8 469.2,2746.8 468.8,2748.7 468.5,2750.7 468.2,2752.7 467.9,2754.7 467.6,2756.7 467.3,2758.6 467.0,2760.6 466.7,2762.6 466.4,2764.6 466.1,2766.5 465.8,2768.5 465.5,2770.5 465.2,2772.5 464.9,2774.4 464.6,2776.4 464.3,2778.4 463.9,2780.4 463.7,2782.4 463.4,2784.3 463.1,2786.3 462.8,2788.3 462.5,2790.3 462.2,2792.2 461.9,2794.2 461.6,2796.2 461.3,2798.2 461.0,2800.1 460.7,2802.1 460.4,2804.1 460.1,2806.1 459.8,2808.0 459.5,2810.0" fill="#000"/>
<polygon points="463.7,2810.0 463.9,2808.0 464.0,2806.0 464.2,2804.0 464.4,2802.0 464.6,2800.1 464.8,2798.1 465.0,2796.1 465.2,2794.1 465.5,2792.1 465.7,2790.1 465.9,2788.1 466.1,2786.1 466.3,2784.1 466.6,2782.2 466.8,2780.2 467.0,2778.2 467.3,2776.2 467.5,2774.2 467.8,2772.2 468.0,2770.2 468.3,2768.2 468.5,2766.3 468.8,2764.3 469.0,2762.3 469.3,2760.3 469.6,2758.3 469.8,2756.3 470.1,2754.3 470.4,2752.4 470.6,2750.4 470.9,2748.4 471.2,2746.4 471.5,2744.4 471.8,2742.4 472.1,2740.4 472.3,2738.5 472.6,2736.5 472.9,2734.5 473.2,2732.5 473.5,2730.5 473.8,2728.5 474.1,2726.6 474.4,2724.6 474.7,2722.6 475.0,2720.6 475.3,2718.6 475.6,2716.6 475.9,2714.7 476.2,2712.7 476.5,2710.7 476.8,2708.7 477.1,2706.7 477.4,2704.8 477.7,2702.8 478.0,2700.8 478.3,2698.8 478.6,2696.8 478.9,2694.8 479.2,2692.9 479.5,2690.9 479.8,2688.9 480.2,2686.9 480.5,2684.9 480.8,2683.0 481.1,2681.0 481.4,2679.0 481.7,2677.0 482.0,2675.0 482.3,2673.1 482.6,2671.1 482.9,2669.1 483.2,2667.1 483.5,2665.1 483.8,2663.2 484.1,2661.2 484.4,2659.2 484.7,2657.2 485.0,2655.2 485.3,2653.3 485.6,2651.3 485.9,2649.3 486.2,2647.3 486.4,2645.3 486.7,2643.4 487.0,2641.4 487.3,2639.4 487.6,2637.4 487.9,2635.4 488.2,2633.5 488.5,2631.5 488.8,2629.5 489.1,2627.5 489.4,2625.6 489.7,2623.6 489.9,2621.6 490.2,2619.6 490.5,2617.6 490.8,2615.7 491.1,2613.7 491.4,2611.7 491.7,2609.7 492.0,2607.7 492.3,2605.8 492.5,2603.8 492.8,2601.8 493.1,2599.8 493.4,2597.9 493.7,2595.9 494.0,2593.9 494.3,2591.9 494.5,2589.9 494.8,2588.0 495.1,2586.0 495.4,2584.0 495.7,2582.0 496.0,2580.1 496.3,2578.1 496.6,2576.1 496.8,2574.1 497.1,2572.1 497.4,2570.2 497.7,2568.2 498.0,2566.2 498.3,2564.2 498.6,2562.3 498.9,2560.3 499.1,2558.3 499.4,2556.3 499.7,2554.4 500.0,2552.4 500.3,2550.4 500.6,2548.4 500.9,2546.4 501.2,2544.5 501.5,2542.5 501.7,2540.5 502.0,2538.5 502.3,2536.6 502.6,2534.6 502.9,2532.6 503.2,2530.6 503.5,2528.6 503.8,2526.7 504.1,2524.7 504.4,2522.7 504.7,2520.7 505.0,2518.7 505.3,2516.8 505.6,2514.8 505.9,2512.8 506.2,2510.8 506.5,2508.9 506.7,2506.9 507.0,2504.9 507.3,2502.9 507.6,2500.9 507.9,2499.0 508.3,2497.0 508.6,2495.0 508.9,2493.0 509.2,2491.1 509.5,2489.1 509.8,2487.1 510.1,2485.1 510.4,2483.1 510.7,2481.2 511.0,2479.2 511.3,2477.2 511.6,2475.2 511.9,2473.2 512.2,2471.3 512.6,2469.3 512.9,2467.3 513.2,2465.3 513.5,2463.3 513.8,2461.4 514.1,2459.4 514.5,2457.4 514.8,2455.4 515.1,2453.4 515.4,2451.5 515.7,2449.5 516.1,2447.5 516.4,2445.5 516.7,2443.5 517.0,2441.6 517.4,2439.6 517.7,2437.6 518.0,2435.6 518.4,2433.6 518.7,2431.7 519.0,2429.7 519.4,2427.7 519.7,2425.7 520.1,2423.7 520.4,2421.8 520.7,2419.8 521.1,2417.8 521.4,2415.8 521.8,2413.8 522.1,2411.9 522.5,2409.9 522.9,2407.9 523.2,2405.9 523.6,2404.0 523.9,2402.0 524.3,2400.0 524.7,2398.0 525.0,2396.1 525.4,2394.1 525.8,2392.1 526.2,2390.1 526.5,2388.2 526.9,2386.2 527.3,2384.2 527.7,2382.3 528.1,2380.3 528.5,2378.3 528.9,2376.4 529.3,2374.4 529.7,2372.4 530.1,2370.5 530.5,2368.5 530.9,2366.5 531.3,2364.6 531.7,2362.6 532.1,2360.6 532.5,2358.7 533.0,2356.7 533.4,2354.8 533.8,2352.8 534.2,2350.9 534.7,2348.9 535.1,2346.9 535.6,2345.0 536.0,2343.0 536.5,2341.1 536.9,2339.1 537.4,2337.2 537.8,2335.2 538.3,2333.3 538.8,2331.3 539.2,2329.4 539.7,2327.5 540.2,2325.5 540.7,2323.6 541.1,2321.6 541.6,2319.7 542.1,2317.8 542.6,2315.8 543.1,2313.9 543.6,2312.0 544.1,2310.0 544.7,2308.1 545.2,2306.2 545.7,2304.2 546.2,2302.3 546.8,2300.4 547.3,2298.5 547.8,2296.5 548.4,2294.6 548.9,2292.7 549.5,2290.8 550.0,2288.9 550.6,2287.0 551.2,2285.1 551.7,2283.1 552.3,2281.2 552.9,2279.3 553.5,2277.4 554.1,2275.5 554.7,2273.6 555.3,2271.7 555.9,2269.8 556.5,2267.9 557.1,2266.0 557.7,2264.1 558.4,2262.3 559.0,2260.4 559.6,2258.5 560.3,2256.6 560.9,2254.7 561.6,2252.8 562.2,2251.0 562.9,2249.1 563.6,2247.2 564.2,2245.3 564.9,2243.5 565.6,2241.6 566.3,2239.7 567.0,2237.9 567.7,2236.0 568.4,2234.1 569.1,2232.3 569.8,2230.4 570.5,2228.5 571.2,2226.7 571.9,2224.8 572.6,2223.0 573.4,2221.1 574.1,2219.3 574.8,2217.4 575.5,2215.5 576.3,2213.7 577.0,2211.8 577.7,2210.0 578.5,2208.1 579.2,2206.3 579.9,2204.4 580.7,2202.6 581.4,2200.7 582.2,2198.8 582.9,2197.0 583.6,2195.1 584.4,2193.3 585.1,2191.4 585.8,2189.5 586.6,2187.7 587.3,2185.8 588.0,2183.9 588.8,2182.1 589.5,2180.2 590.2,2178.3 591.0,2176.5 591.7,2174.6 592.4,2172.7 593.1,2170.8 593.8,2168.9 594.6,2167.1 595.3,2165.2 596.0,2163.3 596.7,2161.4 597.4,2159.5 598.1,2157.6 598.9,2155.7 599.6,2153.9 600.3,2152.0 601.0,2150.1 601.8,2148.2 602.5,2146.4 603.3,2144.5 604.1,2142.7 604.9,2140.8 605.7,2139.0 606.5,2137.2 607.3,2135.4 608.2,2133.6 609.0,2131.8 609.9,2130.0 610.8,2128.3 611.7,2126.5 612.7,2124.8 613.7,2123.1 614.7,2121.3 615.7,2119.7 616.7,2118.0 617.8,2116.3 618.9,2114.7 620.0,2113.1 621.2,2111.5 622.4,2109.9 623.6,2108.4 624.8,2106.8 626.0,2105.3 627.3,2103.7 628.6,2102.2 629.9,2100.7 631.2,2099.2 632.5,2097.7 633.8,2096.2 635.1,2094.7 636.4,2093.2 637.8,2091.7 639.1,2090.2 640.4,2088.7 641.8,2087.2 643.1,2085.7 644.4,2084.2 645.8,2082.7 647.1,2081.1 648.4,2079.6 649.7,2078.1 651.1,2076.6 652.4,2075.1 653.7,2073.5 655.0,2072.0 656.4,2070.5 657.7,2069.0 659.0,2067.5 660.4,2066.0 661.7,2064.5 663.1,2063.0 664.5,2061.5 665.8,2060.1 667.2,2058.6 668.6,2057.2 670.0,2055.7 671.4,2054.3 670.7,2055.0 672.1,2053.6 673.5,2052.2 675.0,2050.8 676.4,2049.4 677.9,2048.1 679.3,2046.8 680.8,2045.5 682.3,2044.2 683.8,2042.9 685.3,2041.7 686.9,2040.4 688.4,2039.2 690.0,2038.0 691.6,2036.9 693.2,2035.7 694.8,2034.6 696.4,2033.4 698.0,2032.3 699.7,2031.3 701.3,2030.2 703.0,2029.1 704.7,2028.1 706.4,2027.1 708.1,2026.0 709.8,2025.0 711.6,2024.1 713.3,2023.1 715.1,2022.1 716.8,2021.2 718.6,2020.2 720.4,2019.3 722.2,2018.4 724.0,2017.5 725.9,2016.6 727.7,2015.7 729.6,2014.8 731.4,2013.9 733.3,2013.0 735.2,2012.2 737.1,2011.3 739.0,2010.5 740.9,2009.7 742.8,2008.9 744.7,2008.1 746.7,2007.4 748.6,2006.6 750.5,2006.0 752.5,2005.3 754.4,2004.7 756.4,2004.2 758.3,2003.7 760.2,2003.2 762.2,2002.8 764.1,2002.4 766.1,2002.1 768.0,2001.9 769.9,2001.7 771.9,2001.6 773.8,2001.5 775.7,2001.5 777.6,2001.5 779.5,2001.6 781.5,2001.7 783.4,2001.9 785.3,2002.1 787.2,2002.3 789.1,2002.6 791.0,2002.9 792.9,2003.3 794.8,2003.7 796.7,2004.1 798.6,2004.6 800.5,2005.1 802.4,2005.6 804.3,2006.1 806.2,2006.7 808.1,2007.3 810.0,2007.9 811.9,2008.5 813.8,2009.2 815.7,2009.8 817.6,2010.5 819.5,2011.2 821.4,2011.9 823.3,2012.6 825.2,2013.3 827.1,2014.1 829.0,2014.8 830.9,2015.5 832.9,2016.3 834.8,2017.0 836.7,2017.7 838.6,2018.5 840.5,2019.2 842.4,2019.9 844.4,2020.6 846.3,2021.3 848.2,2022.0 850.1,2022.6 852.1,2023.3 854.0,2023.9 855.9,2024.6 857.9,2025.2 859.8,2025.8 861.8,2026.3 863.7,2026.9 865.7,2027.4 867.6,2028.0 869.6,2028.5 871.5,2029.0 873.5,2029.4 875.4,2029.9 877.4,2030.3 879.4,2030.7 881.3,2031.1 883.3,2031.5 885.3,2031.9 887.2,2032.2 889.2,2032.6 891.1,2032.9 893.1,2033.1 895.1,2033.4 897.0,2033.6 899.0,2033.9 901.0,2034.1 902.9,2034.2 904.9,2034.4 906.8,2034.5 908.8,2034.7 910.8,2034.7 912.7,2034.8 914.7,2034.9 916.6,2034.9 918.6,2034.9 920.5,2034.9 922.5,2034.8 924.4,2034.7 926.4,2034.6 928.3,2034.5 930.3,2034.4 932.2,2034.2 934.1,2034.0 936.1,2033.8 938.0,2033.5 939.9,2033.2 941.9,2032.9 943.8,2032.6 945.7,2032.2 947.6,2031.9 949.5,2031.4 951.4,2031.0 953.3,2030.5 955.3,2030.0 957.1,2029.5 959.0,2028.9 960.9,2028.4 962.8,2027.7 964.7,2027.1 966.6,2026.5 968.5,2025.8 970.3,2025.1 972.2,2024.3 974.1,2023.6 975.9,2022.8 977.8,2022.0 979.7,2021.2 981.5,2020.4 983.4,2019.6 985.3,2018.8 987.1,2017.9 989.0,2017.1 990.9,2016.2 992.7,2015.3 994.6,2014.4 996.5,2013.5 998.3,2012.6 1000.2,2011.7 1002.1,2010.8 1004.0,2009.9 1005.8,2009.0 1007.7,2008.1 1009.6,2007.2 1011.5,2006.3 1013.4,2005.4 1015.3,2004.5 1017.2,2003.7 1019.1,2002.8 1021.0,2001.9 1022.9,2001.1 1024.8,2000.3 1026.7,1999.5 1028.6,1998.7 1030.5,1997.9 1032.4,1997.2 1034.3,1996.4 1036.2,1995.7 1038.1,1995.1 1040.0,1994.4 1042.0,1993.8 1043.9,1993.2 1045.8,1992.7 1047.7,1992.1 1049.7,1991.7 1051.6,1991.2 1053.5,1990.8 1055.4,1990.4 1057.4,1990.1 1059.3,1989.8 1061.2,1989.5 1063.2,1989.2 1065.1,1989.0 1067.0,1988.9 1069.0,1988.7 1070.9,1988.6 1072.9,1988.5 1074.8,1988.5 1076.7,1988.4 1078.7,1988.4 1080.6,1988.4 1082.6,1988.5 1084.5,1988.6 1086.5,1988.7 1088.4,1988.8 1090.3,1989.0 1092.3,1989.1 1094.2,1989.3 1096.2,1989.6 1098.1,1989.8 1100.1,1990.1 1102.0,1990.4 1104.0,1990.7 1105.9,1991.0 1107.8,1991.3 1109.8,1991.7 1111.7,1992.1 1113.7,1992.5 1115.6,1992.9 1117.6,1993.3 1119.5,1993.8 1121.5,1994.2 1123.4,1994.7 1125.3,1995.2 1127.3,1995.7 1129.2,1996.2 1131.2,1996.7 1133.1,1997.2 1135.1,1997.8 1137.0,1998.3 1138.9,1998.9 1140.9,1999.4 1142.8,2000.0 1144.7,2000.6 1146.7,2001.2 1148.6,2001.8 1150.5,2002.4 1152.5,2003.0 1154.4,2003.6 1156.3,2004.2 1158.3,2004.8 1160.2,2005.4 1162.1,2006.0 1164.0,2006.7 1166.0,2007.3 1167.9,2007.9 1169.8,2008.5 1171.7,2009.2 1173.6,2009.8 1175.5,2010.4 1177.5,2011.0 1179.4,2011.7 1181.3,2012.3 1183.2,2012.9 1185.1,2013.6 1187.0,2014.2 1188.9,2014.9 1190.8,2015.5 1192.7,2016.2 1194.6,2016.8 1196.5,2017.5 1198.4,2018.1 1200.3,2018.8 1202.2,2019.4 1204.1,2020.1 1206.0,2020.8 1207.9,2021.4 1209.8,2022.1 1211.7,2022.7 1213.6,2023.4 1215.5,2024.1 1217.4,2024.8 1219.3,2025.4 1221.1,2026.1 1223.0,2026.8 1224.9,2027.5 1226.8,2028.1 1228.7,2028.8 1230.6,2029.5 1232.5,2030.2 1234.3,2030.9 1236.2,2031.6 1238.1,2032.3 1240.0,2033.0 1241.8,2033.7 1243.7,2034.3 1245.6,2035.0 1247.5,2035.7 1249.3,2036.5 1251.2,2037.2 1253.1,2037.9 1255.0,2038.6 1256.8,2039.3 1258.7,2040.0 1260.6,2040.7 1262.4,2041.4 1264.3,2042.1 1266.2,2042.9 1268.0,2043.6 1269.9,2044.3 1271.8,2045.0 1273.6,2045.7 1275.5,2046.5 1277.3,2047.2 1279.2,2047.9 1281.1,2048.7 1282.9,2049.4 1284.8,2050.1 1286.6,2050.9 1288.5,2051.6 1290.3,2052.3 1292.2,2053.1 1294.1,2053.8 1295.9,2054.6 1297.8,2055.3 1299.6,2056.1 1301.5,2056.8 1303.3,2057.6 1305.2,2058.3 1307.0,2059.1 1308.9,2059.8 1310.7,2060.6 1312.6,2061.3 1314.4,2062.1 1316.3,2062.8 1318.1,2063.6 1320.0,2064.4 1321.8,2065.1 1323.7,2065.9 1325.5,2066.6 1327.3,2067.4 1329.2,2068.2 1331.0,2068.9 1332.9,2069.7 1334.7,2070.5 1336.6,2071.3 1338.4,2072.0 1340.3,2072.8 1342.1,2073.6 1343.9,2074.3 1345.8,2075.1 1347.6,2075.9 1349.5,2076.7 1351.3,2077.4 1353.1,2078.2 1355.0,2079.0 1356.8,2079.8 1358.7,2080.6 1360.5,2081.3 1362.3,2082.1 1364.2,2082.9 1366.0,2083.7 1367.9,2084.5 1369.7,2085.3 1371.5,2086.0 1373.4,2086.8 1375.2,2087.6 1377.0,2088.4 1378.9,2089.2 1380.7,2090.0 1382.6,2090.8 1384.4,2091.5 1386.2,2092.3 1388.1,2093.1 1389.9,2093.9 1391.7,2094.7 1393.6,2095.5 1395.4,2096.3 1397.3,2097.1 1399.1,2097.9 1400.9,2098.7 1402.8,2099.4 1404.6,2100.2 1406.4,2101.0 1408.3,2101.8 1410.1,2102.6 1412.0,2103.4 1413.8,2104.2 1415.6,2105.0 1417.5,2105.8 1419.3,2106.6 1421.2,2107.4 1423.0,2108.2 1424.8,2109.0 1426.7,2109.8 1428.5,2110.5 1430.3,2111.3 1432.2,2112.1 1434.0,2112.9 1435.9,2113.7 1437.7,2114.5 1439.5,2115.3 1441.4,2116.1 1443.2,2116.9 1445.1,2117.7 1446.9,2118.5 1448.8,2119.3 1450.6,2120.0 1452.4,2120.8 1454.3,2121.6 1456.1,2122.4 1458.0,2123.2 1459.8,2124.0 1461.7,2124.8 1463.5,2125.6 1465.3,2126.4 1467.2,2127.2 1469.0,2127.9 1470.9,2128.7 1472.7,2129.5 1474.6,2130.3 1476.4,2131.1 1478.3,2131.9 1480.1,2132.7 1482.0,2133.4 1483.8,2134.2 1485.7,2135.0 1487.5,2135.8 1489.4,2136.6 1491.2,2137.4 1493.1,2138.2 1494.9,2138.9 1496.8,2139.7 1498.6,2140.5 1500.5,2141.3 1502.3,2142.1 1504.1,2142.9 1506.0,2143.7 1507.8,2144.5 1509.7,2145.3 1511.5,2146.1 1513.4,2146.8 1515.2,2147.6 1517.1,2148.4 1518.9,2149.2 1520.7,2150.0 1522.6,2150.8 1524.4,2151.6 1526.3,2152.5 1528.1,2153.3 1529.9,2154.1 1531.8,2154.9 1533.6,2155.7 1535.4,2156.5 1537.3,2157.3 1539.1,2158.1 1540.9,2159.0 1542.8,2159.8 1544.6,2160.6 1546.4,2161.4 1548.2,2162.3 1550.1,2163.1 1551.9,2163.9 1553.7,2164.8 1555.5,2165.6 1557.3,2166.5 1559.2,2167.3 1561.0,2168.2 1562.8,2169.0 1564.6,2169.9 1566.4,2170.7 1568.2,2171.6 1570.0,2172.4 1571.8,2173.3 1573.6,2174.2 1575.4,2175.1 1577.2,2175.9 1579.0,2176.8 1580.8,2177.7 1582.6,2178.6 1584.4,2179.5 1586.1,2180.4 1587.9,2181.3 1589.7,2182.2 1591.5,2183.1 1593.3,2184.0 1595.0,2184.9 1596.8,2185.8 1598.6,2186.8 1600.3,2187.7 1602.1,2188.6 1603.9,2189.6 1605.6,2190.5 1607.4,2191.5 1609.1,2192.4 1610.9,2193.4 1612.6,2194.3 1614.4,2195.3 1616.1,2196.3 1617.8,2197.3 1619.6,2198.3 1621.3,2199.2 1623.0,2200.2 1624.7,2201.2 1626.5,2202.2 1628.2,2203.2 1629.9,2204.3 1631.6,2205.3 1633.3,2206.3 1635.0,2207.3 1636.7,2208.4 1638.4,2209.4 1640.1,2210.5 1641.8,2211.5 1643.5,2212.6 1645.2,2213.7 1646.8,2214.7 1648.5,2215.8 1650.2,2216.9 1651.8,2218.0 1653.5,2219.1 1655.2,2220.2 1656.8,2221.3 1658.5,2222.5 1660.1,2223.6 1661.7,2224.7 1663.4,2225.9 1665.0,2227.0 1666.6,2228.2 1668.3,2229.3 1669.9,2230.5 1671.5,2231.7 1673.1,2232.9 1674.7,2234.1 1676.3,2235.3 1677.9,2236.5 1679.5,2237.7 1679.5,2233.5 1677.9,2232.3 1676.3,2231.1 1674.7,2229.9 1673.1,2228.7 1671.5,2227.5 1669.9,2226.3 1668.3,2225.2 1666.6,2224.0 1665.0,2222.8 1663.4,2221.7 1661.7,2220.6 1660.1,2219.4 1658.5,2218.3 1656.8,2217.2 1655.2,2216.1 1653.5,2214.9 1651.8,2213.8 1650.2,2212.7 1648.5,2211.7 1646.8,2210.6 1645.2,2209.5 1643.5,2208.4 1641.8,2207.4 1640.1,2206.3 1638.4,2205.3 1636.7,2204.2 1635.0,2203.2 1633.3,2202.1 1631.6,2201.1 1629.9,2200.1 1628.2,2199.1 1626.5,2198.1 1624.7,2197.1 1623.0,2196.1 1621.3,2195.1 1619.6,2194.1 1617.8,2193.1 1616.1,2192.1 1614.4,2191.1 1612.6,2190.2 1610.9,2189.2 1609.1,2188.3 1607.4,2187.3 1605.6,2186.4 1603.9,2185.4 1602.1,2184.5 1600.3,2183.5 1598.6,2182.6 1596.8,2181.7 1595.0,2180.8 1593.3,2179.8 1591.5,2178.9 1589.7,2178.0 1587.9,2177.1 1586.1,2176.2 1584.4,2175.3 1582.6,2174.4 1580.8,2173.5 1579.0,2172.6 1577.2,2171.8 1575.4,2170.9 1573.6,2170.0 1571.8,2169.1 1570.0,2168.3 1568.2,2167.4 1566.4,2166.5 1564.6,2165.7 1562.8,2164.8 1561.0,2164.0 1559.2,2163.1 1557.3,2162.3 1555.5,2161.4 1553.7,2160.6 1551.9,2159.8 1550.1,2158.9 1548.2,2158.1 1546.4,2157.3 1544.6,2156.4 1542.8,2155.6 1540.9,2154.8 1539.1,2154.0 1537.3,2153.2 1535.4,2152.3 1533.6,2151.5 1531.8,2150.7 1529.9,2149.9 1528.1,2149.1 1526.3,2148.3 1524.4,2147.5 1522.6,2146.7 1520.7,2145.9 1518.9,2145.1 1517.1,2144.3 1515.2,2143.5 1513.4,2142.7 1511.5,2141.9 1509.7,2141.1 1507.8,2140.3 1506.0,2139.5 1504.1,2138.7 1502.3,2137.9 1500.5,2137.1 1498.6,2136.3 1496.8,2135.6 1494.9,2134.8 1493.1,2134.0 1491.2,2133.2 1489.4,2132.4 1487.5,2131.6 1485.7,2130.8 1483.8,2130.1 1482.0,2129.3 1480.1,2128.5 1478.3,2127.7 1476.4,2126.9 1474.6,2126.1 1472.7,2125.3 1470.9,2124.6 1469.0,2123.8 1467.2,2123.0 1465.3,2122.2 1463.5,2121.4 1461.7,2120.6 1459.8,2119.8 1458.0,2119.0 1456.1,2118.3 1454.3,2117.5 1452.4,2116.7 1450.6,2115.9 1448.8,2115.1 1446.9,2114.3 1445.1,2113.5 1443.2,2112.7 1441.4,2111.9 1439.5,2111.1 1437.7,2110.3 1435.9,2109.5 1434.0,2108.8 1432.2,2108.0 1430.3,2107.2 1428.5,2106.4 1426.7,2105.6 1424.8,2104.8 1423.0,2104.0 1421.2,2103.2 1419.3,2102.4 1417.5,2101.6 1415.6,2100.8 1413.8,2100.0 1412.0,2099.2 1410.1,2098.4 1408.3,2097.7 1406.4,2096.9 1404.6,2096.1 1402.8,2095.3 1400.9,2094.5 1399.1,2093.7 1397.3,2092.9 1395.4,2092.1 1393.6,2091.3 1391.7,2090.5 1389.9,2089.7 1388.1,2089.0 1386.2,2088.2 1384.4,2087.4 1382.6,2086.6 1380.7,2085.8 1378.9,2085.0 1377.0,2084.2 1375.2,2083.4 1373.4,2082.7 1371.5,2081.9 1369.7,2081.1 1367.9,2080.3 1366.0,2079.5 1364.2,2078.7 1362.3,2078.0 1360.5,2077.2 1358.7,2076.4 1356.8,2075.6 1355.0,2074.8 1353.1,2074.1 1351.3,2073.3 1349.5,2072.5 1347.6,2071.7 1345.8,2070.9 1343.9,2070.2 1342.1,2069.4 1340.3,2068.6 1338.4,2067.9 1336.6,2067.1 1334.7,2066.3 1332.9,2065.5 1331.0,2064.8 1329.2,2064.0 1327.3,2063.2 1325.5,2062.5 1323.7,2061.7 1321.8,2061.0 1320.0,2060.2 1318.1,2059.4 1316.3,2058.7 1314.4,2057.9 1312.6,2057.2 1310.7,2056.4 1308.9,2055.6 1307.0,2054.9 1305.2,2054.1 1303.3,2053.4 1301.5,2052.6 1299.6,2051.9 1297.8,2051.1 1295.9,2050.4 1294.1,2049.7 1292.2,2048.9 1290.3,2048.2 1288.5,2047.4 1286.6,2046.7 1284.8,2046.0 1282.9,2045.2 1281.1,2044.5 1279.2,2043.8 1277.3,2043.0 1275.5,2042.3 1273.6,2041.6 1271.8,2040.8 1269.9,2040.1 1268.0,2039.4 1266.2,2038.7 1264.3,2038.0 1262.4,2037.2 1260.6,2036.5 1258.7,2035.8 1256.8,2035.1 1255.0,2034.4 1253.1,2033.7 1251.2,2033.0 1249.3,2032.3 1247.5,2031.6 1245.6,2030.9 1243.7,2030.2 1241.8,2029.5 1240.0,2028.8 1238.1,2028.1 1236.2,2027.4 1234.3,2026.7 1232.5,2026.0 1230.6,2025.3 1228.7,2024.7 1226.8,2024.0 1224.9,2023.3 1223.0,2022.6 1221.1,2021.9 1219.3,2021.3 1217.4,2020.6 1215.5,2019.9 1213.6,2019.2 1211.7,2018.6 1209.8,2017.9 1207.9,2017.2 1206.0,2016.6 1204.1,2015.9 1202.2,2015.3 1200.3,2014.6 1198.4,2014.0 1196.5,2013.3 1194.6,2012.6 1192.7,2012.0 1190.8,2011.4 1188.9,2010.7 1187.0,2010.1 1185.1,2009.4 1183.2,2008.8 1181.3,2008.1 1179.4,2007.5 1177.5,2006.9 1175.5,2006.2 1173.6,2005.6 1171.7,2005.0 1169.8,2004.4 1167.9,2003.7 1166.0,2003.1 1164.0,2002.5 1162.1,2001.9 1160.2,2001.2 1158.3,2000.6 1156.3,2000.0 1154.4,1999.4 1152.5,1998.8 1150.5,1998.2 1148.6,1997.6 1146.7,1997.0 1144.7,1996.4 1142.8,1995.8 1140.9,1995.3 1138.9,1994.7 1137.0,1994.1 1135.1,1993.6 1133.1,1993.0 1131.2,1992.5 1129.2,1992.0 1127.3,1991.5 1125.3,1991.0 1123.4,1990.5 1121.5,1990.0 1119.5,1989.6 1117.6,1989.1 1115.6,1988.7 1113.7,1988.3 1111.7,1987.9 1109.8,1987.5 1107.8,1987.2 1105.9,1986.8 1104.0,1986.5 1102.0,1986.2 1100.1,1985.9 1098.1,1985.6 1096.2,1985.4 1094.2,1985.2 1092.3,1985.0 1090.3,1984.8 1088.4,1984.6 1086.5,1984.5 1084.5,1984.4 1082.6,1984.3 1080.6,1984.3 1078.7,1984.2 1076.7,1984.3 1074.8,1984.3 1072.9,1984.3 1070.9,1984.4 1069.0,1984.5 1067.0,1984.7 1065.1,1984.9 1063.2,1985.1 1061.2,1985.3 1059.3,1985.6 1057.4,1985.9 1055.4,1986.3 1053.5,1986.6 1051.6,1987.0 1049.7,1987.5 1047.7,1988.0 1045.8,1988.5 1043.9,1989.1 1042.0,1989.6 1040.0,1990.3 1038.1,1990.9 1036.2,1991.6 1034.3,1992.3 1032.4,1993.0 1030.5,1993.8 1028.6,1994.5 1026.7,1995.3 1024.8,1996.1 1022.9,1996.9 1021.0,1997.8 1019.1,1998.6 1017.2,1999.5 1015.3,2000.4 1013.4,2001.3 1011.5,2002.1 1009.6,2003.0 1007.7,2003.9 1005.8,2004.8 1004.0,2005.8 1002.1,2006.7 1000.2,2007.6 998.3,2008.5 996.5,2009.4 994.6,2010.2 992.7,2011.1 990.9,2012.0 989.0,2012.9 987.1,2013.7 985.3,2014.6 983.4,2015.4 981.5,2016.3 979.7,2017.1 977.8,2017.9 975.9,2018.7 974.1,2019.4 972.2,2020.2 970.3,2020.9 968.5,2021.6 966.6,2022.3 964.7,2022.9 962.8,2023.6 960.9,2024.2 959.0,2024.8 957.1,2025.3 955.3,2025.9 953.3,2026.4 951.4,2026.8 949.5,2027.3 947.6,2027.7 945.7,2028.1 943.8,2028.4 941.9,2028.8 939.9,2029.1 938.0,2029.3 936.1,2029.6 934.1,2029.8 932.2,2030.0 930.3,2030.2 928.3,2030.3 926.4,2030.5 924.4,2030.6 922.5,2030.6 920.5,2030.7 918.6,2030.7 916.6,2030.7 914.7,2030.7 912.7,2030.6 910.8,2030.6 908.8,2030.5 906.8,2030.4 904.9,2030.2 902.9,2030.1 901.0,2029.9 899.0,2029.7 897.0,2029.5 895.1,2029.2 893.1,2029.0 891.1,2028.7 889.2,2028.4 887.2,2028.1 885.3,2027.7 883.3,2027.4 881.3,2027.0 879.4,2026.6 877.4,2026.1 875.4,2025.7 873.5,2025.3 871.5,2024.8 869.6,2024.3 867.6,2023.8 865.7,2023.3 863.7,2022.7 861.8,2022.2 859.8,2021.6 857.9,2021.0 855.9,2020.4 854.0,2019.8 852.1,2019.1 850.1,2018.5 848.2,2017.8 846.3,2017.1 844.4,2016.4 842.4,2015.7 840.5,2015.0 838.6,2014.3 836.7,2013.6 834.8,2012.8 832.9,2012.1 830.9,2011.4 829.0,2010.6 827.1,2009.9 825.2,2009.2 823.3,2008.5 821.4,2007.7 819.5,2007.0 817.6,2006.4 815.7,2005.7 813.8,2005.0 811.9,2004.4 810.0,2003.7 808.1,2003.1 806.2,2002.5 804.3,2002.0 802.4,2001.4 800.5,2000.9 798.6,2000.4 796.7,1999.9 794.8,1999.5 792.9,1999.1 791.0,1998.8 789.1,1998.4 787.2,1998.1 785.3,1997.9 783.4,1997.7 781.5,1997.5 779.5,1997.4 777.6,1997.3 775.7,1997.3 773.8,1997.3 771.9,1997.4 769.9,1997.5 768.0,1997.7 766.1,1998.0 764.1,1998.3 762.2,1998.6 760.2,1999.0 758.3,1999.5 756.4,2000.0 754.4,2000.6 752.5,2001.2 750.5,2001.8 748.6,2002.5 746.7,2003.2 744.7,2003.9 742.8,2004.7 740.9,2005.5 739.0,2006.3 737.1,2007.1 735.2,2008.0 733.3,2008.9 731.4,2009.7 729.6,2010.6 727.7,2011.5 725.9,2012.4 724.0,2013.3 722.2,2014.2 720.4,2015.1 718.6,2016.1 716.8,2017.0 715.1,2018.0 713.3,2018.9 711.6,2019.9 709.8,2020.9 708.1,2021.9 706.4,2022.9 704.7,2023.9 703.0,2025.0 701.3,2026.0 699.7,2027.1 698.0,2028.2 696.4,2029.3 694.8,2030.4 693.2,2031.5 691.6,2032.7 690.0,2033.9 688.4,2035.0 686.9,2036.3 685.3,2037.5 683.8,2038.7 682.3,2040.0 680.8,2041.3 679.3,2042.6 677.9,2043.9 676.4,2045.3 675.0,2046.6 673.5,2048.0 672.1,2049.4 670.7,2050.8 667.2,2054.3 665.8,2055.7 664.4,2057.2 663.0,2058.6 661.7,2060.1 660.3,2061.5 658.9,2063.0 657.6,2064.5 656.2,2066.0 654.9,2067.5 653.5,2069.0 652.2,2070.5 650.9,2072.0 649.5,2073.5 648.2,2075.1 646.9,2076.6 645.6,2078.1 644.2,2079.6 642.9,2081.1 641.6,2082.7 640.3,2084.2 638.9,2085.7 637.6,2087.2 636.3,2088.7 634.9,2090.2 633.6,2091.7 632.3,2093.2 630.9,2094.7 629.6,2096.2 628.3,2097.7 627.0,2099.2 625.7,2100.7 624.4,2102.2 623.1,2103.7 621.9,2105.3 620.6,2106.8 619.4,2108.4 618.2,2109.9 617.0,2111.5 615.9,2113.1 614.7,2114.7 613.6,2116.3 612.6,2118.0 611.5,2119.7 610.5,2121.3 609.5,2123.1 608.5,2124.8 607.6,2126.5 606.6,2128.3 605.7,2130.0 604.9,2131.8 604.0,2133.6 603.1,2135.4 602.3,2137.2 601.5,2139.0 600.7,2140.8 599.9,2142.7 599.1,2144.5 598.4,2146.4 597.6,2148.2 596.9,2150.1 596.1,2152.0 595.4,2153.9 594.7,2155.7 594.0,2157.6 593.2,2159.5 592.5,2161.4 591.8,2163.3 591.1,2165.2 590.4,2167.1 589.7,2168.9 589.0,2170.8 588.2,2172.7 587.5,2174.6 586.8,2176.5 586.1,2178.3 585.3,2180.2 584.6,2182.1 583.9,2183.9 583.1,2185.8 582.4,2187.7 581.7,2189.5 580.9,2191.4 580.2,2193.3 579.5,2195.1 578.7,2197.0 578.0,2198.8 577.2,2200.7 576.5,2202.6 575.8,2204.4 575.0,2206.3 574.3,2208.1 573.6,2210.0 572.8,2211.8 572.1,2213.7 571.4,2215.5 570.6,2217.4 569.9,2219.3 569.2,2221.1 568.5,2223.0 567.7,2224.8 567.0,2226.7 566.3,2228.5 565.6,2230.4 564.9,2232.3 564.2,2234.1 563.5,2236.0 562.8,2237.9 562.1,2239.7 561.4,2241.6 560.7,2243.5 560.1,2245.3 559.4,2247.2 558.7,2249.1 558.0,2251.0 557.4,2252.8 556.7,2254.7 556.1,2256.6 555.4,2258.5 554.8,2260.4 554.2,2262.3 553.6,2264.1 552.9,2266.0 552.3,2267.9 551.7,2269.8 551.1,2271.7 550.5,2273.6 549.9,2275.5 549.3,2277.4 548.7,2279.3 548.1,2281.2 547.6,2283.1 547.0,2285.1 546.4,2287.0 545.9,2288.9 545.3,2290.8 544.8,2292.7 544.2,2294.6 543.7,2296.5 543.1,2298.5 542.6,2300.4 542.1,2302.3 541.5,2304.2 541.0,2306.2 540.5,2308.1 540.0,2310.0 539.5,2312.0 539.0,2313.9 538.5,2315.8 538.0,2317.8 537.5,2319.7 537.0,2321.6 536.5,2323.6 536.0,2325.5 535.5,2327.5 535.1,2329.4 534.6,2331.3 534.1,2333.3 533.7,2335.2 533.2,2337.2 532.7,2339.1 532.3,2341.1 531.8,2343.0 531.4,2345.0 530.9,2346.9 530.5,2348.9 530.1,2350.9 529.6,2352.8 529.2,2354.8 528.8,2356.7 528.4,2358.7 527.9,2360.6 527.5,2362.6 527.1,2364.6 526.7,2366.5 526.3,2368.5 525.9,2370.5 525.5,2372.4 525.1,2374.4 524.7,2376.4 524.3,2378.3 523.9,2380.3 523.5,2382.3 523.1,2384.2 522.7,2386.2 522.4,2388.2 522.0,2390.1 521.6,2392.1 521.2,2394.1 520.9,2396.1 520.5,2398.0 520.1,2400.0 519.8,2402.0 519.4,2404.0 519.0,2405.9 518.7,2407.9 518.3,2409.9 518.0,2411.9 517.6,2413.8 517.3,2415.8 516.9,2417.8 516.6,2419.8 516.2,2421.8 515.9,2423.7 515.5,2425.7 515.2,2427.7 514.9,2429.7 514.5,2431.7 514.2,2433.6 513.9,2435.6 513.5,2437.6 513.2,2439.6 512.9,2441.6 512.5,2443.5 512.2,2445.5 511.9,2447.5 511.6,2449.5 511.2,2451.5 510.9,2453.4 510.6,2455.4 510.3,2457.4 510.0,2459.4 509.6,2461.4 509.3,2463.3 509.0,2465.3 508.7,2467.3 508.4,2469.3 508.1,2471.3 507.8,2473.2 507.4,2475.2 507.1,2477.2 506.8,2479.2 506.5,2481.2 506.2,2483.1 505.9,2485.1 505.6,2487.1 505.3,2489.1 505.0,2491.1 504.7,2493.0 504.4,2495.0 504.1,2497.0 503.8,2499.0 503.5,2500.9 503.2,2502.9 502.9,2504.9 502.6,2506.9 502.3,2508.9 502.0,2510.8 501.7,2512.8 501.4,2514.8 501.1,2516.8 500.8,2518.7 500.5,2520.7 500.2,2522.7 499.9,2524.7 499.6,2526.7 499.3,2528.6 499.0,2530.6 498.7,2532.6 498.4,2534.6 498.2,2536.6 497.9,2538.5 497.6,2540.5 497.3,2542.5 497.0,2544.5 496.7,2546.4 496.4,2548.4 496.1,2550.4 495.8,2552.4 495.5,2554.4 495.3,2556.3 495.0,2558.3 494.7,2560.3 494.4,2562.3 494.1,2564.2 493.8,2566.2 493.5,2568.2 493.2,2570.2 493.0,2572.1 492.7,2574.1 492.4,2576.1 492.1,2578.1 491.8,2580.1 491.5,2582.0 491.2,2584.0 491.0,2586.0 490.7,2588.0 490.4,2589.9 490.1,2591.9 489.8,2593.9 489.5,2595.9 489.2,2597.9 488.9,2599.8 488.7,2601.8 488.4,2603.8 488.1,2605.8 487.8,2607.7 487.5,2609.7 487.2,2611.7 486.9,2613.7 486.6,2615.7 486.4,2617.6 486.1,2619.6 485.8,2621.6 485.5,2623.6 485.2,2625.6 484.9,2627.5 484.6,2629.5 484.3,2631.5 484.0,2633.5 483.7,2635.4 483.5,2637.4 483.2,2639.4 482.9,2641.4 482.6,2643.4 482.3,2645.3 482.0,2647.3 481.7,2649.3 481.4,2651.3 481.1,2653.3 480.8,2655.2 480.5,2657.2 480.2,2659.2 479.9,2661.2 479.6,2663.2 479.3,2665.1 479.0,2667.1 478.7,2669.1 478.4,2671.1 478.1,2673.1 477.8,2675.0 477.5,2677.0 477.2,2679.0 476.9,2681.0 476.6,2683.0 476.3,2684.9 476.0,2686.9 475.7,2688.9 475.4,2690.9 475.1,2692.9 474.8,2694.8 474.5,2696.8 474.1,2698.8 473.8,2700.8 473.5,2702.8 473.2,2704.8 472.9,2706.7 472.6,2708.7 472.3,2710.7 472.0,2712.7 471.7,2714.7 471.4,2716.6 471.1,2718.6 470.8,2720.6 470.5,2722.6 470.2,2724.6 469.9,2726.6 469.6,2728.5 469.3,2730.5 469.0,2732.5 468.7,2734.5 468.5,2736.5 468.2,2738.5 467.9,2740.4 467.6,2742.4 467.3,2744.4 467.0,2746.4 466.8,2748.4 466.5,2750.4 466.2,2752.4 465.9,2754.3 465.7,2756.3 465.4,2758.3 465.1,2760.3 464.9,2762.3 464.6,2764.3 464.4,2766.3 464.1,2768.2 463.8,2770.2 463.6,2772.2 463.3,2774.2 463.1,2776.2 462.9,2778.2 462.6,2780.2 462.4,2782.2 462.2,2784.1 461.9,2786.1 461.7,2788.1 461.5,2790.1 461.3,2792.1 461.1,2794.1 460.9,2796.1 460.7,2798.1 460.5,2800.1 460.3,2802.0 460.1,2804.0 459.9,2806.0 459.7,2808.0 459.5,2810.0" fill="#000"/>
<polygon points="463.7,2810.0 464.0,2808.0 464.3,2806.0 464.6,2804.1 464.9,2802.1 465.2,2800.1 465.5,2798.1 465.8,2796.1 466.1,2794.1 466.5,2792.2 466.8,2790.2 467.1,2788.2 467.4,2786.2 467.7,2784.2 468.0,2782.2 468.3,2780.3 468.6,2778.3 468.9,2776.3 469.2,2774.3 469.5,2772.3 469.8,2770.4 470.1,2768.4 470.3,2766.4 470.6,2764.4 470.9,2762.4 471.2,2760.5 471.5,2758.5 471.8,2756.5 472.1,2754.5 472.4,2752.5 472.7,2750.5 473.0,2748.6 473.3,2746.6 473.6,2744.6 473.9,2742.6 474.1,2740.6 474.4,2738.7 474.7,2736.7 475.0,2734.7 475.3,2732.7 475.6,2730.7 475.9,2728.8 476.1,2726.8 476.4,2724.8 476.7,2722.8 477.0,2720.8 477.3,2718.9 477.6,2716.9 477.9,2714.9 478.1,2712.9 478.4,2710.9 478.7,2709.0 479.0,2707.0 479.3,2705.0 479.6,2703.0 479.8,2701.0 480.1,2699.0 480.4,2697.1 480.7,2695.1 481.0,2693.1 481.2,2691.1 481.5,2689.1 481.8,2687.2 482.1,2685.2 482.4,2683.2 482.6,2681.2 482.9,2679.2 483.2,2677.3 483.5,2675.3 483.8,2673.3 484.0,2671.3 484.3,2669.3 484.6,2667.4 484.9,2665.4 485.2,2663.4 485.4,2661.4 485.7,2659.4 486.0,2657.5 486.3,2655.5 486.6,2653.5 486.8,2651.5 487.1,2649.5 487.4,2647.6 487.7,2645.6 488.0,2643.6 488.2,2641.6 488.5,2639.6 488.8,2637.7 489.1,2635.7 489.4,2633.7 489.6,2631.7 489.9,2629.7 490.2,2627.8 490.5,2625.8 490.8,2623.8 491.0,2621.8 491.3,2619.8 491.6,2617.8 491.9,2615.9 492.2,2613.9 492.4,2611.9 492.7,2609.9 493.0,2607.9 493.3,2606.0 493.6,2604.0 493.9,2602.0 494.1,2600.0 494.4,2598.0 494.7,2596.1 495.0,2594.1 495.3,2592.1 495.6,2590.1 495.9,2588.1 496.1,2586.1 496.4,2584.2 496.7,2582.2 497.0,2580.2 497.3,2578.2 497.6,2576.2 497.9,2574.3 498.2,2572.3 498.5,2570.3 498.7,2568.3 499.0,2566.3 499.3,2564.3 499.6,2562.4 499.9,2560.4 500.2,2558.4 500.5,2556.4 500.8,2554.4 501.1,2552.4 501.4,2550.5 501.7,2548.5 502.0,2546.5 502.3,2544.5 502.6,2542.5 502.9,2540.6 503.2,2538.6 503.5,2536.6 503.8,2534.6 504.1,2532.6 504.4,2530.6 504.7,2528.7 505.0,2526.7 505.3,2524.7 505.6,2522.7 505.9,2520.7 506.2,2518.7 506.5,2516.8 506.8,2514.8 507.1,2512.8 507.5,2510.8 507.8,2508.8 508.1,2506.8 508.4,2504.9 508.7,2502.9 509.0,2500.9 509.3,2498.9 509.7,2496.9 510.0,2495.0 510.3,2493.0 510.6,2491.0 510.9,2489.0 511.3,2487.0 511.6,2485.1 511.9,2483.1 512.2,2481.1 512.6,2479.1 512.9,2477.1 513.2,2475.2 513.5,2473.2 513.9,2471.2 514.2,2469.2 514.5,2467.2 514.9,2465.3 515.2,2463.3 515.5,2461.3 515.9,2459.3 516.2,2457.4 516.5,2455.4 516.9,2453.4 517.2,2451.4 517.6,2449.4 517.9,2447.5 518.3,2445.5 518.6,2443.5 518.9,2441.6 519.3,2439.6 519.6,2437.6 520.0,2435.6 520.3,2433.7 520.7,2431.7 521.1,2429.7 521.4,2427.7 521.8,2425.8 522.1,2423.8 522.5,2421.8 522.8,2419.9 523.2,2417.9 523.6,2415.9 523.9,2414.0 524.3,2412.0 524.7,2410.0 525.0,2408.1 525.4,2406.1 525.8,2404.1 526.2,2402.2 526.5,2400.2 526.9,2398.2 527.3,2396.3 527.7,2394.3 528.1,2392.3 528.4,2390.4 528.8,2388.4 529.2,2386.5 529.6,2384.5 530.0,2382.5 530.4,2380.6 530.8,2378.6 531.2,2376.7 531.6,2374.7 532.0,2372.7 532.4,2370.8 532.8,2368.8 533.2,2366.9 533.6,2364.9 534.0,2363.0 534.4,2361.0 534.8,2359.1 535.2,2357.1 535.6,2355.2 536.0,2353.2 536.4,2351.3 536.9,2349.3 537.3,2347.4 537.7,2345.4 538.1,2343.5 538.6,2341.5 539.0,2339.6 539.4,2337.6 539.9,2335.7 540.3,2333.8 540.8,2331.8 541.2,2329.9 541.7,2327.9 542.1,2326.0 542.6,2324.1 543.0,2322.1 543.5,2320.2 544.0,2318.2 544.4,2316.3 544.9,2314.4 545.4,2312.4 545.9,2310.5 546.3,2308.6 546.8,2306.6 547.3,2304.7 547.8,2302.8 548.3,2300.9 548.8,2298.9 549.3,2297.0 549.9,2295.1 550.4,2293.2 550.9,2291.2 551.4,2289.3 552.0,2287.4 552.5,2285.5 553.1,2283.5 553.6,2281.6 554.2,2279.7 554.7,2277.8 555.3,2275.9 555.9,2274.0 556.4,2272.1 557.0,2270.1 557.6,2268.2 558.2,2266.3 558.8,2264.4 559.4,2262.5 560.0,2260.6 560.6,2258.7 561.3,2256.8 561.9,2254.9 562.5,2253.0 563.2,2251.1 563.8,2249.2 564.5,2247.3 565.1,2245.4 565.8,2243.5 566.5,2241.6 567.2,2239.7 567.8,2237.8 568.5,2235.9 569.2,2234.0 570.0,2232.1 570.7,2230.2 571.4,2228.3 572.1,2226.5 572.9,2224.6 573.6,2222.7 574.4,2220.8 575.1,2218.9 575.9,2217.1 576.7,2215.2 577.5,2213.3 578.3,2211.5 579.1,2209.6 579.9,2207.8 580.7,2205.9 581.6,2204.1 582.4,2202.2 583.3,2200.4 584.1,2198.5 585.0,2196.7 585.9,2194.9 586.8,2193.1 587.7,2191.3 588.6,2189.5 589.5,2187.7 590.4,2185.9 591.4,2184.1 592.3,2182.4 593.3,2180.6 594.3,2178.8 595.2,2177.1 596.2,2175.3 597.3,2173.6 598.3,2171.9 599.3,2170.2 600.3,2168.5 601.4,2166.8 602.5,2165.1 603.6,2163.4 604.6,2161.8 605.7,2160.1 606.9,2158.5 608.0,2156.9 609.1,2155.3 610.3,2153.7 611.5,2152.1 612.6,2150.5 613.8,2148.9 615.0,2147.4 616.3,2145.8 617.5,2144.3 618.8,2142.8 620.0,2141.3 621.3,2139.8 622.6,2138.4 623.9,2136.9 625.2,2135.5 626.6,2134.0 627.9,2132.6 629.3,2131.2 628.6,2131.9 630.0,2130.6 631.4,2129.2 632.8,2127.9 634.2,2126.6 635.7,2125.3 637.2,2124.0 638.7,2122.8 640.2,2121.5 641.7,2120.3 643.2,2119.1 644.8,2117.9 646.4,2116.8 648.0,2115.6 649.6,2114.5 651.2,2113.4 652.8,2112.3 654.5,2111.2 656.1,2110.2 657.8,2109.1 659.5,2108.1 661.2,2107.1 662.9,2106.1 664.7,2105.1 666.4,2104.2 668.2,2103.2 669.9,2102.3 671.7,2101.4 673.5,2100.5 675.3,2099.6 677.1,2098.8 678.9,2097.9 680.7,2097.1 682.6,2096.3 684.4,2095.5 686.2,2094.7 688.1,2093.9 690.0,2093.1 691.8,2092.4 693.7,2091.6 695.6,2090.9 697.5,2090.2 699.3,2089.4 701.2,2088.7 703.1,2088.0 705.0,2087.3 706.9,2086.7 708.8,2086.0 710.7,2085.3 712.6,2084.7 714.6,2084.0 716.5,2083.3 718.4,2082.7 720.3,2082.1 722.2,2081.4 724.1,2080.8 726.0,2080.2 728.0,2079.6 729.9,2078.9 731.8,2078.3 733.7,2077.7 735.6,2077.1 737.5,2076.5 739.5,2075.9 741.4,2075.3 743.3,2074.7 745.2,2074.1 747.1,2073.5 749.0,2072.9 751.0,2072.3 752.9,2071.7 754.8,2071.1 756.7,2070.5 758.6,2070.0 760.5,2069.4 762.4,2068.8 764.3,2068.2 766.2,2067.6 768.2,2067.0 770.1,2066.4 772.0,2065.8 773.9,2065.2 775.8,2064.6 777.7,2064.0 779.6,2063.4 781.5,2062.8 783.4,2062.2 785.3,2061.6 787.2,2061.1 789.1,2060.5 791.0,2059.9 792.9,2059.3 794.8,2058.7 796.8,2058.1 798.7,2057.5 800.6,2056.9 802.5,2056.3 804.4,2055.7 806.3,2055.1 808.2,2054.5 810.1,2053.9 812.0,2053.3 813.9,2052.7 815.8,2052.1 817.7,2051.5 819.6,2050.9 821.5,2050.3 823.4,2049.7 825.3,2049.1 827.2,2048.5 829.1,2047.9 831.0,2047.3 832.9,2046.6 834.8,2046.0 836.7,2045.4 838.6,2044.8 840.5,2044.2 842.4,2043.6 844.3,2043.0 846.2,2042.3 848.1,2041.7 850.0,2041.1 851.9,2040.5 853.8,2039.8 855.7,2039.2 857.6,2038.6 859.5,2037.9 861.4,2037.3 863.3,2036.7 865.2,2036.0 867.1,2035.4 868.9,2034.7 870.8,2034.1 872.7,2033.5 874.6,2032.8 876.5,2032.2 878.4,2031.5 880.3,2030.8 882.2,2030.2 884.1,2029.5 885.9,2028.9 887.8,2028.2 889.7,2027.5 891.6,2026.9 893.5,2026.2 895.4,2025.5 897.2,2024.8 899.1,2024.1 901.0,2023.5 902.9,2022.8 904.8,2022.1 906.6,2021.4 908.5,2020.7 910.4,2020.0 912.3,2019.3 914.1,2018.6 916.0,2017.9 917.9,2017.2 919.7,2016.4 921.6,2015.7 923.5,2015.0 925.3,2014.3 927.2,2013.5 929.1,2012.8 930.9,2012.1 932.8,2011.3 934.7,2010.6 936.5,2009.8 938.4,2009.1 940.2,2008.3 942.1,2007.6 944.0,2006.8 945.8,2006.1 947.7,2005.3 949.5,2004.5 951.4,2003.8 953.2,2003.0 955.1,2002.2 956.9,2001.5 958.8,2000.7 960.7,1999.9 962.5,1999.1 964.4,1998.4 966.2,1997.6 968.1,1996.8 969.9,1996.0 971.8,1995.3 973.6,1994.5 975.5,1993.7 977.3,1992.9 979.2,1992.2 981.0,1991.4 982.9,1990.6 984.7,1989.9 986.6,1989.1 988.5,1988.3 990.3,1987.6 992.2,1986.8 994.0,1986.1 995.9,1985.3 997.8,1984.6 999.6,1983.8 1001.5,1983.1 1003.3,1982.4 1005.2,1981.6 1007.1,1980.9 1008.9,1980.2 1010.8,1979.5 1012.7,1978.8 1014.5,1978.1 1016.4,1977.4 1018.3,1976.7 1020.2,1976.0 1022.0,1975.3 1023.9,1974.6 1025.8,1974.0 1027.7,1973.3 1029.6,1972.6 1031.5,1972.0 1033.3,1971.4 1035.2,1970.7 1037.1,1970.1 1039.0,1969.5 1040.9,1968.9 1042.8,1968.3 1044.7,1967.7 1046.6,1967.1 1048.5,1966.6 1050.4,1966.0 1052.4,1965.5 1054.3,1964.9 1056.2,1964.4 1058.1,1963.9 1060.0,1963.4 1062.0,1962.9 1063.9,1962.5 1065.8,1962.0 1067.7,1961.6 1069.7,1961.2 1071.6,1960.7 1073.6,1960.4 1075.5,1960.0 1077.4,1959.6 1079.4,1959.3 1081.3,1958.9 1083.3,1958.6 1085.3,1958.3 1087.2,1958.0 1089.2,1957.8 1091.1,1957.5 1093.1,1957.3 1095.1,1957.0 1097.1,1956.8 1099.0,1956.6 1101.0,1956.4 1103.0,1956.3 1105.0,1956.1 1106.9,1956.0 1108.9,1955.8 1110.9,1955.7 1112.9,1955.6 1114.9,1955.5 1116.8,1955.4 1118.8,1955.4 1120.8,1955.3 1122.8,1955.3 1124.8,1955.2 1126.8,1955.2 1128.8,1955.2 1130.8,1955.2 1132.8,1955.2 1134.8,1955.2 1136.8,1955.3 1138.7,1955.3 1140.7,1955.4 1142.7,1955.5 1144.7,1955.5 1146.7,1955.6 1148.7,1955.7 1150.7,1955.8 1152.7,1955.9 1154.7,1956.0 1156.7,1956.2 1158.7,1956.3 1160.7,1956.4 1162.7,1956.6 1164.7,1956.7 1166.8,1956.9 1168.8,1957.0 1170.8,1957.2 1172.8,1957.4 1174.8,1957.6 1176.8,1957.8 1178.8,1958.0 1180.8,1958.1 1182.8,1958.3 1184.8,1958.6 1186.8,1958.8 1188.8,1959.0 1190.8,1959.2 1192.8,1959.4 1194.8,1959.6 1196.8,1959.8 1198.8,1960.1 1200.9,1960.3 1202.9,1960.5 1204.9,1960.7 1206.9,1961.0 1208.9,1961.2 1210.9,1961.4 1212.9,1961.6 1214.9,1961.9 1216.9,1962.1 1218.9,1962.3 1220.9,1962.5 1222.9,1962.8 1224.9,1963.0 1226.9,1963.2 1228.9,1963.4 1230.9,1963.6 1232.9,1963.8 1234.9,1964.1 1236.9,1964.3 1238.9,1964.5 1240.9,1964.7 1242.9,1964.9 1244.9,1965.1 1246.9,1965.2 1248.9,1965.4 1250.9,1965.6 1252.9,1965.8 1254.9,1966.0 1256.9,1966.2 1258.9,1966.3 1260.9,1966.5 1262.9,1966.7 1264.9,1966.9 1266.9,1967.0 1268.9,1967.2 1270.9,1967.3 1272.9,1967.5 1274.9,1967.6 1276.9,1967.8 1278.9,1967.9 1280.9,1968.1 1282.9,1968.2 1284.9,1968.4 1286.9,1968.5 1288.9,1968.6 1290.9,1968.8 1292.8,1968.9 1294.8,1969.0 1296.8,1969.2 1298.8,1969.3 1300.8,1969.4 1302.8,1969.5 1304.8,1969.6 1306.8,1969.7 1308.8,1969.8 1310.8,1969.9 1312.8,1970.0 1314.8,1970.1 1316.8,1970.2 1318.8,1970.3 1320.8,1970.4 1322.8,1970.5 1324.8,1970.6 1326.8,1970.7 1328.8,1970.8 1330.7,1970.8 1332.7,1970.9 1334.7,1971.0 1336.7,1971.1 1338.7,1971.1 1340.7,1971.2 1342.7,1971.3 1344.7,1971.3 1346.7,1971.4 1348.7,1971.4 1350.7,1971.5 1352.7,1971.5 1354.7,1971.6 1356.7,1971.6 1358.7,1971.7 1360.7,1971.7 1362.7,1971.7 1364.7,1971.8 1366.7,1971.8 1368.7,1971.8 1370.7,1971.9 1372.7,1971.9 1374.7,1971.9 1376.7,1972.0 1378.7,1972.0 1380.7,1972.0 1382.7,1972.0 1384.7,1972.0 1386.7,1972.0 1388.7,1972.0 1390.7,1972.1 1392.7,1972.1 1394.7,1972.1 1396.7,1972.1 1398.7,1972.1 1400.7,1972.1 1402.7,1972.1 1404.7,1972.1 1406.7,1972.0 1408.7,1972.0 1410.7,1972.0 1412.7,1972.0 1414.7,1972.0 1416.7,1972.0 1418.7,1972.0 1420.7,1971.9 1422.7,1971.9 1424.7,1971.9 1426.7,1971.9 1428.7,1971.9 1430.7,1971.8 1432.7,1971.8 1434.7,1971.8 1436.7,1971.7 1438.8,1971.7 1440.8,1971.7 1442.8,1971.6 1444.8,1971.6 1446.8,1971.5 1448.8,1971.5 1450.8,1971.5 1452.8,1971.4 1454.8,1971.4 1456.8,1971.3 1458.8,1971.3 1460.8,1971.2 1462.8,1971.2 1464.8,1971.1 1466.8,1971.1 1468.8,1971.0 1470.8,1971.0 1472.8,1970.9 1474.8,1970.8 1476.8,1970.8 1478.8,1970.7 1480.8,1970.7 1482.8,1970.6 1484.8,1970.5 1486.8,1970.5 1488.9,1970.4 1490.9,1970.3 1492.9,1970.3 1494.9,1970.2 1496.9,1970.1 1498.9,1970.1 1500.9,1970.0 1502.9,1969.9 1504.9,1969.8 1506.9,1969.8 1508.9,1969.7 1510.9,1969.6 1512.9,1969.5 1514.9,1969.5 1516.9,1969.4 1518.9,1969.3 1520.9,1969.2 1522.9,1969.1 1524.9,1969.1 1526.9,1969.0 1528.9,1968.9 1530.9,1968.8 1533.0,1968.7 1535.0,1968.6 1537.0,1968.6 1539.0,1968.5 1541.0,1968.4 1543.0,1968.3 1545.0,1968.2 1547.0,1968.1 1549.0,1968.0 1551.0,1968.0 1553.0,1967.9 1555.0,1967.8 1557.0,1967.7 1559.0,1967.6 1561.0,1967.5 1563.0,1967.4 1565.0,1967.3 1567.0,1967.3 1569.0,1967.2 1571.0,1967.1 1573.0,1967.0 1575.0,1966.9 1577.0,1966.8 1579.0,1966.7 1581.0,1966.6 1583.0,1966.5 1585.0,1966.4 1587.0,1966.4 1589.0,1966.3 1591.0,1966.2 1593.1,1966.1 1595.1,1966.0 1597.1,1965.9 1599.1,1965.8 1601.1,1965.7 1603.1,1965.6 1605.1,1965.5 1607.1,1965.5 1609.1,1965.4 1611.1,1965.3 1613.1,1965.2 1615.1,1965.1 1617.1,1965.0 1619.1,1964.9 1621.1,1964.8 1623.1,1964.8 1625.1,1964.7 1627.1,1964.6 1629.1,1964.5 1631.1,1964.4 1633.1,1964.3 1635.1,1964.3 1637.1,1964.2 1639.1,1964.1 1641.1,1964.0 1643.1,1963.9 1645.1,1963.8 1647.1,1963.8 1649.1,1963.7 1651.1,1963.6 1653.0,1963.5 1655.0,1963.4 1657.0,1963.4 1659.0,1963.3 1661.0,1963.2 1663.0,1963.1 1665.0,1963.1 1667.0,1963.0 1669.0,1962.9 1671.0,1962.9 1673.0,1962.8 1675.0,1962.7 1677.0,1962.7 1679.0,1962.6 1679.0,1958.4 1677.0,1958.5 1675.0,1958.5 1673.0,1958.6 1671.0,1958.7 1669.0,1958.8 1667.0,1958.8 1665.0,1958.9 1663.0,1959.0 1661.0,1959.0 1659.0,1959.1 1657.0,1959.2 1655.0,1959.3 1653.0,1959.4 1651.1,1959.4 1649.1,1959.5 1647.1,1959.6 1645.1,1959.7 1643.1,1959.8 1641.1,1959.8 1639.1,1959.9 1637.1,1960.0 1635.1,1960.1 1633.1,1960.2 1631.1,1960.2 1629.1,1960.3 1627.1,1960.4 1625.1,1960.5 1623.1,1960.6 1621.1,1960.7 1619.1,1960.8 1617.1,1960.8 1615.1,1960.9 1613.1,1961.0 1611.1,1961.1 1609.1,1961.2 1607.1,1961.3 1605.1,1961.4 1603.1,1961.5 1601.1,1961.6 1599.1,1961.6 1597.1,1961.7 1595.1,1961.8 1593.1,1961.9 1591.0,1962.0 1589.0,1962.1 1587.0,1962.2 1585.0,1962.3 1583.0,1962.4 1581.0,1962.5 1579.0,1962.5 1577.0,1962.6 1575.0,1962.7 1573.0,1962.8 1571.0,1962.9 1569.0,1963.0 1567.0,1963.1 1565.0,1963.2 1563.0,1963.3 1561.0,1963.4 1559.0,1963.4 1557.0,1963.5 1555.0,1963.6 1553.0,1963.7 1551.0,1963.8 1549.0,1963.9 1547.0,1964.0 1545.0,1964.1 1543.0,1964.1 1541.0,1964.2 1539.0,1964.3 1537.0,1964.4 1535.0,1964.5 1533.0,1964.6 1530.9,1964.6 1528.9,1964.7 1526.9,1964.8 1524.9,1964.9 1522.9,1965.0 1520.9,1965.0 1518.9,1965.1 1516.9,1965.2 1514.9,1965.3 1512.9,1965.4 1510.9,1965.4 1508.9,1965.5 1506.9,1965.6 1504.9,1965.7 1502.9,1965.7 1500.9,1965.8 1498.9,1965.9 1496.9,1966.0 1494.9,1966.0 1492.9,1966.1 1490.9,1966.2 1488.9,1966.2 1486.8,1966.3 1484.8,1966.4 1482.8,1966.4 1480.8,1966.5 1478.8,1966.5 1476.8,1966.6 1474.8,1966.7 1472.8,1966.7 1470.8,1966.8 1468.8,1966.8 1466.8,1966.9 1464.8,1966.9 1462.8,1967.0 1460.8,1967.0 1458.8,1967.1 1456.8,1967.1 1454.8,1967.2 1452.8,1967.2 1450.8,1967.3 1448.8,1967.3 1446.8,1967.4 1444.8,1967.4 1442.8,1967.5 1440.8,1967.5 1438.8,1967.5 1436.7,1967.6 1434.7,1967.6 1432.7,1967.6 1430.7,1967.7 1428.7,1967.7 1426.7,1967.7 1424.7,1967.7 1422.7,1967.8 1420.7,1967.8 1418.7,1967.8 1416.7,1967.8 1414.7,1967.8 1412.7,1967.8 1410.7,1967.9 1408.7,1967.9 1406.7,1967.9 1404.7,1967.9 1402.7,1967.9 1400.7,1967.9 1398.7,1967.9 1396.7,1967.9 1394.7,1967.9 1392.7,1967.9 1390.7,1967.9 1388.7,1967.9 1386.7,1967.9 1384.7,1967.9 1382.7,1967.8 1380.7,1967.8 1378.7,1967.8 1376.7,1967.8 1374.7,1967.8 1372.7,1967.7 1370.7,1967.7 1368.7,1967.7 1366.7,1967.6 1364.7,1967.6 1362.7,1967.6 1360.7,1967.5 1358.7,1967.5 1356.7,1967.5 1354.7,1967.4 1352.7,1967.4 1350.7,1967.3 1348.7,1967.3 1346.7,1967.2 1344.7,1967.1 1342.7,1967.1 1340.7,1967.0 1338.7,1967.0 1336.7,1966.9 1334.7,1966.8 1332.7,1966.7 1330.7,1966.7 1328.8,1966.6 1326.8,1966.5 1324.8,1966.4 1322.8,1966.3 1320.8,1966.3 1318.8,1966.2 1316.8,1966.1 1314.8,1966.0 1312.8,1965.9 1310.8,1965.8 1308.8,1965.7 1306.8,1965.6 1304.8,1965.4 1302.8,1965.3 1300.8,1965.2 1298.8,1965.1 1296.8,1965.0 1294.8,1964.9 1292.8,1964.7 1290.9,1964.6 1288.9,1964.5 1286.9,1964.3 1284.9,1964.2 1282.9,1964.1 1280.9,1963.9 1278.9,1963.8 1276.9,1963.6 1274.9,1963.5 1272.9,1963.3 1270.9,1963.2 1268.9,1963.0 1266.9,1962.8 1264.9,1962.7 1262.9,1962.5 1260.9,1962.3 1258.9,1962.2 1256.9,1962.0 1254.9,1961.8 1252.9,1961.6 1250.9,1961.5 1248.9,1961.3 1246.9,1961.1 1244.9,1960.9 1242.9,1960.7 1240.9,1960.5 1238.9,1960.3 1236.9,1960.1 1234.9,1959.9 1232.9,1959.7 1230.9,1959.5 1228.9,1959.2 1226.9,1959.0 1224.9,1958.8 1222.9,1958.6 1220.9,1958.4 1218.9,1958.1 1216.9,1957.9 1214.9,1957.7 1212.9,1957.5 1210.9,1957.2 1208.9,1957.0 1206.9,1956.8 1204.9,1956.6 1202.9,1956.3 1200.9,1956.1 1198.8,1955.9 1196.8,1955.7 1194.8,1955.4 1192.8,1955.2 1190.8,1955.0 1188.8,1954.8 1186.8,1954.6 1184.8,1954.4 1182.8,1954.2 1180.8,1954.0 1178.8,1953.8 1176.8,1953.6 1174.8,1953.4 1172.8,1953.2 1170.8,1953.0 1168.8,1952.9 1166.8,1952.7 1164.7,1952.6 1162.7,1952.4 1160.7,1952.3 1158.7,1952.1 1156.7,1952.0 1154.7,1951.9 1152.7,1951.7 1150.7,1951.6 1148.7,1951.5 1146.7,1951.4 1144.7,1951.4 1142.7,1951.3 1140.7,1951.2 1138.7,1951.2 1136.8,1951.1 1134.8,1951.1 1132.8,1951.1 1130.8,1951.0 1128.8,1951.0 1126.8,1951.0 1124.8,1951.1 1122.8,1951.1 1120.8,1951.1 1118.8,1951.2 1116.8,1951.3 1114.9,1951.3 1112.9,1951.4 1110.9,1951.5 1108.9,1951.7 1106.9,1951.8 1105.0,1951.9 1103.0,1952.1 1101.0,1952.3 1099.0,1952.4 1097.1,1952.6 1095.1,1952.9 1093.1,1953.1 1091.1,1953.3 1089.2,1953.6 1087.2,1953.9 1085.3,1954.1 1083.3,1954.5 1081.3,1954.8 1079.4,1955.1 1077.4,1955.4 1075.5,1955.8 1073.6,1956.2 1071.6,1956.6 1069.7,1957.0 1067.7,1957.4 1065.8,1957.8 1063.9,1958.3 1062.0,1958.8 1060.0,1959.2 1058.1,1959.7 1056.2,1960.2 1054.3,1960.8 1052.4,1961.3 1050.4,1961.8 1048.5,1962.4 1046.6,1963.0 1044.7,1963.5 1042.8,1964.1 1040.9,1964.7 1039.0,1965.3 1037.1,1965.9 1035.2,1966.6 1033.3,1967.2 1031.5,1967.8 1029.6,1968.5 1027.7,1969.1 1025.8,1969.8 1023.9,1970.5 1022.0,1971.1 1020.2,1971.8 1018.3,1972.5 1016.4,1973.2 1014.5,1973.9 1012.7,1974.6 1010.8,1975.3 1008.9,1976.0 1007.1,1976.8 1005.2,1977.5 1003.3,1978.2 1001.5,1978.9 999.6,1979.7 997.8,1980.4 995.9,1981.2 994.0,1981.9 992.2,1982.7 990.3,1983.4 988.5,1984.2 986.6,1984.9 984.7,1985.7 982.9,1986.5 981.0,1987.2 979.2,1988.0 977.3,1988.8 975.5,1989.5 973.6,1990.3 971.8,1991.1 969.9,1991.9 968.1,1992.6 966.2,1993.4 964.4,1994.2 962.5,1995.0 960.7,1995.7 958.8,1996.5 956.9,1997.3 955.1,1998.1 953.2,1998.8 951.4,1999.6 949.5,2000.4 947.7,2001.1 945.8,2001.9 944.0,2002.7 942.1,2003.4 940.2,2004.2 938.4,2004.9 936.5,2005.7 934.7,2006.4 932.8,2007.2 930.9,2007.9 929.1,2008.6 927.2,2009.4 925.3,2010.1 923.5,2010.8 921.6,2011.6 919.7,2012.3 917.9,2013.0 916.0,2013.7 914.1,2014.4 912.3,2015.1 910.4,2015.8 908.5,2016.5 906.6,2017.2 904.8,2017.9 902.9,2018.6 901.0,2019.3 899.1,2020.0 897.2,2020.7 895.4,2021.3 893.5,2022.0 891.6,2022.7 889.7,2023.4 887.8,2024.0 885.9,2024.7 884.1,2025.4 882.2,2026.0 880.3,2026.7 878.4,2027.3 876.5,2028.0 874.6,2028.6 872.7,2029.3 870.8,2029.9 868.9,2030.6 867.1,2031.2 865.2,2031.9 863.3,2032.5 861.4,2033.1 859.5,2033.8 857.6,2034.4 855.7,2035.0 853.8,2035.7 851.9,2036.3 850.0,2036.9 848.1,2037.5 846.2,2038.2 844.3,2038.8 842.4,2039.4 840.5,2040.0 838.6,2040.6 836.7,2041.2 834.8,2041.9 832.9,2042.5 831.0,2043.1 829.1,2043.7 827.2,2044.3 825.3,2044.9 823.4,2045.5 821.5,2046.1 819.6,2046.7 817.7,2047.3 815.8,2047.9 813.9,2048.5 812.0,2049.1 810.1,2049.7 808.2,2050.3 806.3,2050.9 804.4,2051.5 802.5,2052.1 800.6,2052.7 798.7,2053.3 796.8,2053.9 794.8,2054.5 792.9,2055.1 791.0,2055.7 789.1,2056.3 787.2,2056.9 785.3,2057.5 783.4,2058.1 781.5,2058.7 779.6,2059.3 777.7,2059.8 775.8,2060.4 773.9,2061.0 772.0,2061.6 770.1,2062.2 768.2,2062.8 766.2,2063.4 764.3,2064.0 762.4,2064.6 760.5,2065.2 758.6,2065.8 756.7,2066.4 754.8,2067.0 752.9,2067.6 751.0,2068.2 749.0,2068.8 747.1,2069.4 745.2,2069.9 743.3,2070.5 741.4,2071.1 739.5,2071.7 737.5,2072.3 735.6,2072.9 733.7,2073.6 731.8,2074.2 729.9,2074.8 728.0,2075.4 726.0,2076.0 724.1,2076.6 722.2,2077.3 720.3,2077.9 718.4,2078.5 716.5,2079.2 714.6,2079.8 712.6,2080.5 710.7,2081.1 708.8,2081.8 706.9,2082.5 705.0,2083.2 703.1,2083.9 701.2,2084.6 699.3,2085.3 697.5,2086.0 695.6,2086.7 693.7,2087.4 691.8,2088.2 690.0,2089.0 688.1,2089.7 686.2,2090.5 684.4,2091.3 682.6,2092.1 680.7,2092.9 678.9,2093.8 677.1,2094.6 675.3,2095.5 673.5,2096.4 671.7,2097.2 669.9,2098.2 668.2,2099.1 666.4,2100.0 664.7,2101.0 662.9,2101.9 661.2,2102.9 659.5,2103.9 657.8,2104.9 656.1,2106.0 654.5,2107.0 652.8,2108.1 651.2,2109.2 649.6,2110.3 648.0,2111.4 646.4,2112.6 644.8,2113.8 643.2,2114.9 641.7,2116.1 640.2,2117.4 638.7,2118.6 637.2,2119.9 635.7,2121.1 634.2,2122.4 632.8,2123.7 631.4,2125.1 630.0,2126.4 628.6,2127.8 625.1,2131.2 623.7,2132.6 622.4,2134.0 621.1,2135.5 619.7,2136.9 618.4,2138.4 617.1,2139.8 615.9,2141.3 614.6,2142.8 613.3,2144.3 612.1,2145.8 610.9,2147.4 609.7,2148.9 608.5,2150.5 607.3,2152.1 606.1,2153.7 605.0,2155.3 603.8,2156.9 602.7,2158.5 601.6,2160.1 600.5,2161.8 599.4,2163.4 598.3,2165.1 597.2,2166.8 596.2,2168.5 595.1,2170.2 594.1,2171.9 593.1,2173.6 592.1,2175.3 591.1,2177.1 590.1,2178.8 589.1,2180.6 588.1,2182.4 587.2,2184.1 586.3,2185.9 585.3,2187.7 584.4,2189.5 583.5,2191.3 582.6,2193.1 581.7,2194.9 580.8,2196.7 579.9,2198.5 579.1,2200.4 578.2,2202.2 577.4,2204.1 576.6,2205.9 575.7,2207.8 574.9,2209.6 574.1,2211.5 573.3,2213.3 572.5,2215.2 571.7,2217.1 571.0,2218.9 570.2,2220.8 569.4,2222.7 568.7,2224.6 568.0,2226.5 567.2,2228.3 566.5,2230.2 565.8,2232.1 565.1,2234.0 564.4,2235.9 563.7,2237.8 563.0,2239.7 562.3,2241.6 561.6,2243.5 561.0,2245.4 560.3,2247.3 559.6,2249.2 559.0,2251.1 558.4,2253.0 557.7,2254.9 557.1,2256.8 556.5,2258.7 555.8,2260.6 555.2,2262.5 554.6,2264.4 554.0,2266.3 553.4,2268.2 552.8,2270.1 552.3,2272.1 551.7,2274.0 551.1,2275.9 550.6,2277.8 550.0,2279.7 549.4,2281.6 548.9,2283.5 548.3,2285.5 547.8,2287.4 547.3,2289.3 546.7,2291.2 546.2,2293.2 545.7,2295.1 545.2,2297.0 544.7,2298.9 544.2,2300.9 543.7,2302.8 543.2,2304.7 542.7,2306.6 542.2,2308.6 541.7,2310.5 541.2,2312.4 540.7,2314.4 540.3,2316.3 539.8,2318.2 539.3,2320.2 538.9,2322.1 538.4,2324.1 537.9,2326.0 537.5,2327.9 537.0,2329.9 536.6,2331.8 536.1,2333.8 535.7,2335.7 535.3,2337.6 534.8,2339.6 534.4,2341.5 534.0,2343.5 533.5,2345.4 533.1,2347.4 532.7,2349.3 532.3,2351.3 531.9,2353.2 531.4,2355.2 531.0,2357.1 530.6,2359.1 530.2,2361.0 529.8,2363.0 529.4,2364.9 529.0,2366.9 528.6,2368.8 528.2,2370.8 527.8,2372.7 527.4,2374.7 527.0,2376.7 526.6,2378.6 526.2,2380.6 525.8,2382.5 525.4,2384.5 525.0,2386.5 524.7,2388.4 524.3,2390.4 523.9,2392.3 523.5,2394.3 523.1,2396.3 522.7,2398.2 522.4,2400.2 522.0,2402.2 521.6,2404.1 521.2,2406.1 520.9,2408.1 520.5,2410.0 520.1,2412.0 519.8,2414.0 519.4,2415.9 519.0,2417.9 518.7,2419.9 518.3,2421.8 518.0,2423.8 517.6,2425.8 517.2,2427.7 516.9,2429.7 516.5,2431.7 516.2,2433.7 515.8,2435.6 515.5,2437.6 515.1,2439.6 514.8,2441.6 514.4,2443.5 514.1,2445.5 513.7,2447.5 513.4,2449.4 513.1,2451.4 512.7,2453.4 512.4,2455.4 512.0,2457.4 511.7,2459.3 511.4,2461.3 511.0,2463.3 510.7,2465.3 510.4,2467.2 510.0,2469.2 509.7,2471.2 509.4,2473.2 509.0,2475.2 508.7,2477.1 508.4,2479.1 508.1,2481.1 507.7,2483.1 507.4,2485.1 507.1,2487.0 506.8,2489.0 506.4,2491.0 506.1,2493.0 505.8,2495.0 505.5,2496.9 505.2,2498.9 504.9,2500.9 504.5,2502.9 504.2,2504.9 503.9,2506.8 503.6,2508.8 503.3,2510.8 503.0,2512.8 502.7,2514.8 502.4,2516.8 502.1,2518.7 501.7,2520.7 501.4,2522.7 501.1,2524.7 500.8,2526.7 500.5,2528.7 500.2,2530.6 499.9,2532.6 499.6,2534.6 499.3,2536.6 499.0,2538.6 498.7,2540.6 498.4,2542.5 498.1,2544.5 497.8,2546.5 497.5,2548.5 497.2,2550.5 496.9,2552.4 496.6,2554.4 496.3,2556.4 496.0,2558.4 495.7,2560.4 495.5,2562.4 495.2,2564.3 494.9,2566.3 494.6,2568.3 494.3,2570.3 494.0,2572.3 493.7,2574.3 493.4,2576.2 493.1,2578.2 492.8,2580.2 492.6,2582.2 492.3,2584.2 492.0,2586.1 491.7,2588.1 491.4,2590.1 491.1,2592.1 490.8,2594.1 490.5,2596.1 490.3,2598.0 490.0,2600.0 489.7,2602.0 489.4,2604.0 489.1,2606.0 488.8,2607.9 488.6,2609.9 488.3,2611.9 488.0,2613.9 487.7,2615.9 487.4,2617.8 487.1,2619.8 486.9,2621.8 486.6,2623.8 486.3,2625.8 486.0,2627.8 485.7,2629.7 485.5,2631.7 485.2,2633.7 484.9,2635.7 484.6,2637.7 484.3,2639.6 484.1,2641.6 483.8,2643.6 483.5,2645.6 483.2,2647.6 482.9,2649.5 482.7,2651.5 482.4,2653.5 482.1,2655.5 481.8,2657.5 481.5,2659.4 481.3,2661.4 481.0,2663.4 480.7,2665.4 480.4,2667.4 480.1,2669.3 479.9,2671.3 479.6,2673.3 479.3,2675.3 479.0,2677.3 478.8,2679.2 478.5,2681.2 478.2,2683.2 477.9,2685.2 477.6,2687.2 477.4,2689.1 477.1,2691.1 476.8,2693.1 476.5,2695.1 476.2,2697.1 475.9,2699.0 475.7,2701.0 475.4,2703.0 475.1,2705.0 474.8,2707.0 474.5,2709.0 474.3,2710.9 474.0,2712.9 473.7,2714.9 473.4,2716.9 473.1,2718.9 472.8,2720.8 472.5,2722.8 472.3,2724.8 472.0,2726.8 471.7,2728.8 471.4,2730.7 471.1,2732.7 470.8,2734.7 470.5,2736.7 470.3,2738.7 470.0,2740.6 469.7,2742.6 469.4,2744.6 469.1,2746.6 468.8,2748.6 468.5,2750.5 468.2,2752.5 467.9,2754.5 467.6,2756.5 467.4,2758.5 467.1,2760.5 466.8,2762.4 466.5,2764.4 466.2,2766.4 465.9,2768.4 465.6,2770.4 465.3,2772.3 465.0,2774.3 464.7,2776.3 464.4,2778.3 464.1,2780.3 463.8,2782.2 463.5,2784.2 463.2,2786.2 462.9,2788.2 462.6,2790.2 462.3,2792.2 462.0,2794.1 461.7,2796.1 461.4,2798.1 461.1,2800.1 460.8,2802.1 460.4,2804.1 460.1,2806.0 459.8,2808.0 459.5,2810.0" fill="#000"/>
<polygon points="463.7,2810.0 464.4,2808.1 465.2,2806.3 465.9,2804.4 466.5,2802.5 467.2,2800.7 467.9,2798.8 468.5,2796.9 469.1,2795.0 469.7,2793.1 470.3,2791.2 470.9,2789.3 471.5,2787.4 472.0,2785.4 472.6,2783.5 473.1,2781.6 473.7,2779.7 474.2,2777.7 474.7,2775.8 475.2,2773.9 475.7,2772.0 476.2,2770.0 476.7,2768.1 477.2,2766.1 477.7,2764.2 478.2,2762.3 478.7,2760.3 479.2,2758.4 479.7,2756.4 480.2,2754.5 480.7,2752.6 481.2,2750.6 481.7,2748.7 482.2,2746.8 482.7,2744.8 483.3,2742.9 483.8,2741.0 484.3,2739.1 484.9,2737.1 485.5,2735.2 486.0,2733.3 486.6,2731.4 487.2,2729.5 487.8,2727.6 488.4,2725.7 489.0,2723.8 489.6,2721.9 490.3,2720.0 490.9,2718.1 491.6,2716.2 492.2,2714.3 492.9,2712.4 493.5,2710.5 494.2,2708.6 494.8,2706.7 495.5,2704.8 496.2,2702.9 496.9,2701.1 497.5,2699.2 498.2,2697.3 498.9,2695.4 499.6,2693.5 500.3,2691.6 501.0,2689.8 501.7,2687.9 502.4,2686.0 503.0,2684.1 503.7,2682.2 504.4,2680.3 505.1,2678.5 505.8,2676.6 506.5,2674.7 507.2,2672.8 507.9,2670.9 508.6,2669.0 509.3,2667.2 510.0,2665.3 510.7,2663.4 511.4,2661.5 512.1,2659.6 512.8,2657.7 513.5,2655.9 514.2,2654.0 514.9,2652.1 515.6,2650.2 516.3,2648.4 517.1,2646.5 517.8,2644.6 518.5,2642.7 519.2,2640.9 520.0,2639.0 520.7,2637.1 521.4,2635.3 522.2,2633.4 522.9,2631.5 523.6,2629.7 524.4,2627.8 525.1,2626.0 525.9,2624.1 526.7,2622.3 527.4,2620.4 528.2,2618.6 529.0,2616.7 529.7,2614.9 530.5,2613.0 531.3,2611.2 532.1,2609.4 532.9,2607.5 533.7,2605.7 534.5,2603.9 535.3,2602.1 536.1,2600.3 536.9,2598.4 537.7,2596.6 538.5,2594.8 539.4,2593.0 540.2,2591.2 541.1,2589.4 541.9,2587.6 542.8,2585.8 543.7,2584.0 544.5,2582.3 545.4,2580.5 546.3,2578.7 547.2,2576.9 548.1,2575.2 549.0,2573.4 550.0,2571.7 550.9,2569.9 551.9,2568.2 552.8,2566.4 553.8,2564.7 554.8,2563.0 555.8,2561.2 556.8,2559.5 557.8,2557.8 558.9,2556.1 559.9,2554.4 561.0,2552.7 562.0,2551.0 563.1,2549.4 564.2,2547.7 565.3,2546.0 566.5,2544.4 567.6,2542.7 568.8,2541.1 569.9,2539.4 571.1,2537.8 572.3,2536.2 573.5,2534.6 574.7,2533.0 575.9,2531.4 577.2,2529.8 578.4,2528.2 579.7,2526.6 580.9,2525.1 582.2,2523.5 583.5,2522.0 584.8,2520.4 586.1,2518.9 587.4,2517.4 588.8,2515.9 590.1,2514.4 591.5,2512.9 592.8,2511.4 594.2,2510.0 595.6,2508.5 597.0,2507.1 598.4,2505.6 599.8,2504.2 599.1,2504.9 600.6,2503.5 602.0,2502.1 603.4,2500.7 604.9,2499.4 606.4,2498.0 607.8,2496.7 609.3,2495.3 610.8,2494.0 612.3,2492.7 613.8,2491.4 615.3,2490.1 616.8,2488.8 618.4,2487.5 619.9,2486.3 621.5,2485.0 623.0,2483.8 624.6,2482.5 626.1,2481.3 627.7,2480.1 629.3,2478.9 630.9,2477.7 632.5,2476.5 634.1,2475.3 635.7,2474.2 637.3,2473.0 638.9,2471.9 640.6,2470.8 642.2,2469.6 643.8,2468.5 645.5,2467.4 647.1,2466.3 648.8,2465.2 650.5,2464.2 652.1,2463.1 653.8,2462.0 655.5,2461.0 657.2,2459.9 658.9,2458.9 660.6,2457.9 662.3,2456.9 664.0,2455.9 665.7,2454.9 667.5,2453.9 669.2,2452.9 670.9,2451.9 672.7,2451.0 674.4,2450.0 676.1,2449.0 677.9,2448.1 679.7,2447.2 681.4,2446.2 683.2,2445.3 685.0,2444.4 686.7,2443.5 688.5,2442.6 690.3,2441.7 692.1,2440.8 693.9,2439.9 695.7,2439.0 697.5,2438.2 699.3,2437.3 701.1,2436.4 702.9,2435.6 704.7,2434.7 706.5,2433.9 708.4,2433.1 710.2,2432.2 712.0,2431.4 713.8,2430.6 715.7,2429.8 717.5,2428.9 719.4,2428.1 721.2,2427.3 723.0,2426.5 724.9,2425.8 726.7,2425.0 728.6,2424.2 730.5,2423.4 732.3,2422.6 734.2,2421.8 736.0,2421.1 737.9,2420.3 739.8,2419.6 741.6,2418.8 743.5,2418.0 745.4,2417.3 747.3,2416.5 749.1,2415.8 751.0,2415.1 752.9,2414.3 754.8,2413.6 756.6,2412.8 758.5,2412.1 760.4,2411.4 762.3,2410.7 764.2,2409.9 766.1,2409.2 768.0,2408.5 769.8,2407.8 771.7,2407.0 773.6,2406.3 775.5,2405.6 777.4,2404.9 779.3,2404.2 781.2,2403.5 783.1,2402.8 785.0,2402.0 786.9,2401.3 788.7,2400.6 790.6,2399.9 792.5,2399.2 794.4,2398.5 796.3,2397.8 798.2,2397.1 800.1,2396.4 802.0,2395.7 803.9,2395.0 805.7,2394.2 807.6,2393.5 809.5,2392.8 811.4,2392.1 813.3,2391.4 815.2,2390.7 817.0,2390.0 818.9,2389.3 820.8,2388.5 822.7,2387.8 824.5,2387.1 826.4,2386.4 828.3,2385.7 830.2,2385.0 832.0,2384.2 833.9,2383.5 835.8,2382.8 837.6,2382.1 839.5,2381.4 841.4,2380.7 843.2,2379.9 845.1,2379.2 847.0,2378.5 848.8,2377.8 850.7,2377.1 852.6,2376.4 854.4,2375.7 856.3,2375.0 858.2,2374.3 860.0,2373.6 861.9,2372.9 863.8,2372.2 865.6,2371.5 867.5,2370.8 869.4,2370.1 871.2,2369.5 873.1,2368.8 875.0,2368.1 876.9,2367.4 878.7,2366.8 880.6,2366.1 882.5,2365.5 884.3,2364.8 886.2,2364.2 888.1,2363.5 890.0,2362.9 891.9,2362.2 893.7,2361.6 895.6,2361.0 897.5,2360.4 899.4,2359.8 901.3,2359.2 903.2,2358.6 905.1,2358.0 907.0,2357.4 908.9,2356.8 910.8,2356.2 912.7,2355.7 914.6,2355.1 916.5,2354.6 918.4,2354.0 920.3,2353.5 922.2,2353.0 924.1,2352.4 926.1,2351.9 928.0,2351.4 929.9,2350.9 931.8,2350.4 933.8,2350.0 935.7,2349.5 937.6,2349.0 939.6,2348.6 941.5,2348.1 943.5,2347.7 945.4,2347.3 947.4,2346.9 949.3,2346.5 951.3,2346.1 953.2,2345.7 955.2,2345.3 957.2,2345.0 959.2,2344.6 961.1,2344.3 963.1,2343.9 965.1,2343.6 967.1,2343.3 969.1,2343.0 971.1,2342.7 973.1,2342.4 975.1,2342.2 977.1,2341.9 979.1,2341.6 981.1,2341.4 983.1,2341.2 985.1,2341.0 987.1,2340.7 989.2,2340.5 991.2,2340.3 993.2,2340.2 995.2,2340.0 997.2,2339.8 999.3,2339.7 1001.3,2339.5 1003.3,2339.4 1005.3,2339.2 1007.4,2339.1 1009.4,2339.0 1011.4,2338.9 1013.4,2338.8 1015.5,2338.7 1017.5,2338.7 1019.5,2338.6 1021.6,2338.5 1023.6,2338.5 1025.6,2338.4 1027.6,2338.4 1029.7,2338.4 1031.7,2338.3 1033.7,2338.3 1035.8,2338.3 1037.8,2338.3 1039.8,2338.3 1041.8,2338.4 1043.8,2338.4 1045.9,2338.4 1047.9,2338.5 1049.9,2338.5 1051.9,2338.6 1053.9,2338.7 1055.9,2338.7 1057.9,2338.8 1059.9,2339.0 1061.9,2339.1 1063.9,2339.2 1065.9,2339.4 1067.9,2339.5 1069.9,2339.7 1071.9,2339.9 1073.8,2340.1 1075.8,2340.3 1077.8,2340.6 1079.7,2340.9 1081.7,2341.1 1083.7,2341.4 1085.6,2341.8 1087.5,2342.1 1089.5,2342.5 1091.4,2342.8 1093.3,2343.2 1095.2,2343.7 1097.2,2344.1 1099.1,2344.6 1101.0,2345.1 1102.9,2345.6 1104.7,2346.2 1106.6,2346.7 1108.5,2347.3 1110.4,2347.9 1112.2,2348.6 1114.1,2349.3 1115.9,2349.9 1117.7,2350.7 1119.6,2351.4 1121.4,2352.2 1123.2,2353.0 1125.0,2353.8 1126.8,2354.6 1128.6,2355.4 1130.4,2356.3 1132.1,2357.2 1133.9,2358.1 1135.7,2359.0 1137.4,2360.0 1139.2,2360.9 1140.9,2361.9 1142.6,2362.9 1144.4,2363.9 1146.1,2364.9 1147.8,2366.0 1149.5,2367.0 1151.2,2368.1 1152.9,2369.2 1154.6,2370.3 1156.2,2371.4 1157.9,2372.5 1159.6,2373.6 1161.2,2374.7 1162.9,2375.9 1164.5,2377.1 1166.2,2378.2 1167.8,2379.4 1169.4,2380.6 1171.0,2381.8 1172.7,2383.0 1174.3,2384.2 1175.9,2385.4 1177.5,2386.7 1179.0,2387.9 1180.6,2389.1 1182.2,2390.4 1183.8,2391.6 1185.4,2392.9 1186.9,2394.2 1188.5,2395.5 1190.0,2396.7 1191.6,2398.0 1193.2,2399.3 1194.7,2400.6 1196.2,2401.9 1197.8,2403.2 1199.3,2404.5 1200.8,2405.9 1202.4,2407.2 1203.9,2408.5 1205.4,2409.8 1207.0,2411.2 1208.5,2412.5 1210.0,2413.8 1211.5,2415.2 1213.0,2416.5 1214.5,2417.9 1216.0,2419.2 1217.6,2420.5 1219.1,2421.9 1220.6,2423.2 1222.1,2424.6 1223.6,2425.9 1225.1,2427.3 1226.6,2428.6 1228.1,2430.0 1229.6,2431.3 1231.1,2432.7 1232.6,2434.0 1234.1,2435.4 1235.6,2436.7 1237.1,2438.1 1238.7,2439.4 1240.2,2440.7 1241.7,2442.1 1243.2,2443.4 1244.7,2444.7 1246.2,2446.1 1247.7,2447.4 1249.3,2448.7 1250.8,2450.0 1252.3,2451.3 1253.8,2452.6 1255.4,2453.9 1256.9,2455.2 1258.4,2456.5 1260.0,2457.8 1261.5,2459.1 1263.1,2460.3 1264.6,2461.6 1266.2,2462.9 1267.7,2464.1 1269.3,2465.4 1270.8,2466.6 1272.4,2467.8 1274.0,2469.0 1275.6,2470.3 1277.2,2471.5 1278.7,2472.7 1280.3,2473.9 1281.9,2475.0 1283.5,2476.2 1285.2,2477.4 1286.8,2478.5 1288.4,2479.7 1290.0,2480.8 1291.7,2481.9 1293.3,2483.0 1295.0,2484.1 1296.6,2485.2 1298.3,2486.3 1299.9,2487.3 1301.6,2488.4 1303.3,2489.4 1305.0,2490.5 1306.7,2491.5 1308.4,2492.5 1310.1,2493.5 1311.9,2494.4 1313.6,2495.4 1315.3,2496.3 1317.1,2497.3 1318.8,2498.2 1320.6,2499.1 1322.4,2500.0 1324.2,2500.8 1326.0,2501.7 1327.8,2502.5 1329.6,2503.4 1331.4,2504.2 1333.3,2505.0 1335.1,2505.7 1336.9,2506.5 1338.8,2507.2 1340.7,2507.9 1342.6,2508.6 1344.4,2509.3 1346.3,2510.0 1348.2,2510.6 1350.2,2511.2 1352.1,2511.8 1354.0,2512.4 1355.9,2512.9 1357.9,2513.4 1359.8,2513.9 1361.8,2514.4 1363.7,2514.8 1365.7,2515.2 1367.7,2515.6 1369.6,2516.0 1371.6,2516.3 1373.6,2516.6 1375.6,2516.9 1377.6,2517.2 1379.6,2517.4 1381.6,2517.6 1383.6,2517.7 1385.7,2517.9 1387.7,2518.0 1389.7,2518.0 1391.7,2518.1 1393.7,2518.1 1395.8,2518.1 1397.8,2518.1 1399.8,2518.0 1401.8,2518.0 1403.9,2517.8 1405.9,2517.7 1407.9,2517.5 1409.9,2517.4 1411.9,2517.2 1413.9,2516.9 1415.9,2516.7 1417.9,2516.4 1419.9,2516.1 1421.9,2515.7 1423.9,2515.4 1425.8,2515.0 1427.8,2514.6 1429.8,2514.2 1431.7,2513.7 1433.6,2513.3 1435.6,2512.8 1437.5,2512.2 1439.4,2511.7 1441.3,2511.2 1443.2,2510.6 1445.1,2510.0 1447.0,2509.4 1448.9,2508.7 1450.8,2508.1 1452.6,2507.4 1454.5,2506.7 1456.3,2506.0 1458.2,2505.3 1460.0,2504.6 1461.9,2503.8 1463.7,2503.1 1465.5,2502.3 1467.4,2501.5 1469.2,2500.7 1471.0,2499.9 1472.8,2499.0 1474.6,2498.2 1476.4,2497.3 1478.2,2496.5 1480.0,2495.6 1481.8,2494.7 1483.5,2493.8 1485.3,2492.8 1487.1,2491.9 1488.9,2491.0 1490.6,2490.0 1492.4,2489.1 1494.1,2488.1 1495.9,2487.2 1497.7,2486.2 1499.4,2485.2 1501.2,2484.2 1502.9,2483.2 1504.6,2482.2 1506.4,2481.2 1508.1,2480.2 1509.9,2479.2 1511.6,2478.1 1513.3,2477.1 1515.1,2476.1 1516.8,2475.0 1518.5,2474.0 1520.2,2473.0 1522.0,2471.9 1523.7,2470.9 1525.4,2469.8 1527.1,2468.7 1528.8,2467.7 1530.5,2466.6 1532.2,2465.5 1533.9,2464.4 1535.6,2463.4 1537.3,2462.3 1539.0,2461.2 1540.7,2460.1 1542.4,2458.9 1544.0,2457.8 1545.7,2456.7 1547.4,2455.6 1549.0,2454.4 1550.7,2453.3 1552.3,2452.2 1554.0,2451.0 1555.6,2449.8 1557.3,2448.7 1558.9,2447.5 1560.5,2446.3 1562.1,2445.1 1563.7,2443.9 1565.4,2442.7 1567.0,2441.5 1568.5,2440.3 1570.1,2439.1 1571.7,2437.8 1573.3,2436.6 1574.8,2435.4 1576.4,2434.1 1578.0,2432.8 1579.5,2431.6 1581.0,2430.3 1582.6,2429.0 1584.1,2427.7 1585.6,2426.4 1587.1,2425.1 1588.6,2423.7 1590.1,2422.4 1591.6,2421.1 1593.0,2419.7 1594.5,2418.4 1595.9,2417.0 1597.4,2415.6 1598.8,2414.2 1600.2,2412.8 1603.7,2409.3 1605.1,2407.9 1606.5,2406.5 1607.9,2405.0 1609.3,2403.6 1610.6,2402.1 1612.0,2400.6 1613.3,2399.2 1614.7,2397.7 1616.0,2396.2 1617.3,2394.7 1618.6,2393.1 1619.9,2391.6 1621.2,2390.1 1622.5,2388.5 1623.8,2387.0 1625.0,2385.4 1626.3,2383.9 1627.6,2382.3 1628.8,2380.8 1630.1,2379.2 1631.3,2377.6 1632.6,2376.0 1633.8,2374.5 1635.1,2372.9 1636.3,2371.3 1637.5,2369.7 1638.8,2368.1 1640.0,2366.5 1641.3,2365.0 1642.5,2363.4 1643.7,2361.8 1645.0,2360.2 1646.2,2358.6 1647.5,2357.1 1648.7,2355.5 1650.0,2353.9 1651.3,2352.4 1652.5,2350.8 1653.8,2349.3 1655.1,2347.7 1656.3,2346.2 1657.6,2344.6 1658.9,2343.1 1660.2,2341.6 1661.5,2340.1 1662.9,2338.6 1664.2,2337.1 1665.5,2335.6 1666.9,2334.1 1668.2,2332.6 1669.6,2331.2 1671.0,2329.7 1672.4,2328.3 1673.8,2326.9 1673.1,2327.6 1674.5,2326.2 1676.0,2324.8 1677.4,2323.4 1678.9,2322.1 1678.9,2317.9 1677.4,2319.3 1676.0,2320.6 1674.5,2322.0 1673.1,2323.4 1669.6,2326.9 1668.2,2328.3 1666.8,2329.7 1665.4,2331.2 1664.1,2332.6 1662.7,2334.1 1661.3,2335.6 1660.0,2337.1 1658.7,2338.6 1657.4,2340.1 1656.1,2341.6 1654.8,2343.1 1653.5,2344.6 1652.2,2346.2 1650.9,2347.7 1649.6,2349.3 1648.3,2350.8 1647.1,2352.4 1645.8,2353.9 1644.6,2355.5 1643.3,2357.1 1642.1,2358.6 1640.8,2360.2 1639.6,2361.8 1638.3,2363.4 1637.1,2365.0 1635.9,2366.5 1634.6,2368.1 1633.4,2369.7 1632.1,2371.3 1630.9,2372.9 1629.7,2374.5 1628.4,2376.0 1627.2,2377.6 1625.9,2379.2 1624.7,2380.8 1623.4,2382.3 1622.1,2383.9 1620.9,2385.4 1619.6,2387.0 1618.3,2388.5 1617.0,2390.1 1615.7,2391.6 1614.4,2393.1 1613.1,2394.7 1611.8,2396.2 1610.5,2397.7 1609.2,2399.2 1607.8,2400.6 1606.5,2402.1 1605.1,2403.6 1603.7,2405.0 1602.4,2406.5 1601.0,2407.9 1599.6,2409.3 1600.2,2408.6 1598.8,2410.0 1597.4,2411.4 1595.9,2412.8 1594.5,2414.2 1593.0,2415.5 1591.6,2416.9 1590.1,2418.2 1588.6,2419.6 1587.1,2420.9 1585.6,2422.2 1584.1,2423.5 1582.6,2424.8 1581.0,2426.1 1579.5,2427.4 1578.0,2428.7 1576.4,2429.9 1574.8,2431.2 1573.3,2432.4 1571.7,2433.7 1570.1,2434.9 1568.5,2436.1 1567.0,2437.4 1565.4,2438.6 1563.7,2439.8 1562.1,2441.0 1560.5,2442.1 1558.9,2443.3 1557.3,2444.5 1555.6,2445.7 1554.0,2446.8 1552.3,2448.0 1550.7,2449.1 1549.0,2450.3 1547.4,2451.4 1545.7,2452.5 1544.0,2453.7 1542.4,2454.8 1540.7,2455.9 1539.0,2457.0 1537.3,2458.1 1535.6,2459.2 1533.9,2460.3 1532.2,2461.4 1530.5,2462.4 1528.8,2463.5 1527.1,2464.6 1525.4,2465.6 1523.7,2466.7 1522.0,2467.7 1520.2,2468.8 1518.5,2469.8 1516.8,2470.9 1515.1,2471.9 1513.3,2472.9 1511.6,2474.0 1509.9,2475.0 1508.1,2476.0 1506.4,2477.0 1504.6,2478.0 1502.9,2479.0 1501.2,2480.0 1499.4,2481.0 1497.7,2482.0 1495.9,2483.0 1494.1,2484.0 1492.4,2484.9 1490.6,2485.9 1488.9,2486.8 1487.1,2487.8 1485.3,2488.7 1483.5,2489.6 1481.8,2490.5 1480.0,2491.4 1478.2,2492.3 1476.4,2493.2 1474.6,2494.0 1472.8,2494.9 1471.0,2495.7 1469.2,2496.5 1467.4,2497.3 1465.5,2498.1 1463.7,2498.9 1461.9,2499.7 1460.0,2500.4 1458.2,2501.2 1456.3,2501.9 1454.5,2502.6 1452.6,2503.3 1450.8,2503.9 1448.9,2504.6 1447.0,2505.2 1445.1,2505.8 1443.2,2506.4 1441.3,2507.0 1439.4,2507.5 1437.5,2508.1 1435.6,2508.6 1433.6,2509.1 1431.7,2509.6 1429.8,2510.0 1427.8,2510.4 1425.8,2510.8 1423.9,2511.2 1421.9,2511.6 1419.9,2511.9 1417.9,2512.2 1415.9,2512.5 1413.9,2512.7 1411.9,2513.0 1409.9,2513.2 1407.9,2513.4 1405.9,2513.5 1403.9,2513.7 1401.8,2513.8 1399.8,2513.9 1397.8,2513.9 1395.8,2514.0 1393.7,2514.0 1391.7,2513.9 1389.7,2513.9 1387.7,2513.8 1385.7,2513.7 1383.6,2513.6 1381.6,2513.4 1379.6,2513.2 1377.6,2513.0 1375.6,2512.7 1373.6,2512.5 1371.6,2512.2 1369.6,2511.8 1367.7,2511.5 1365.7,2511.1 1363.7,2510.7 1361.8,2510.2 1359.8,2509.7 1357.9,2509.3 1355.9,2508.7 1354.0,2508.2 1352.1,2507.6 1350.2,2507.0 1348.2,2506.4 1346.3,2505.8 1344.4,2505.1 1342.6,2504.5 1340.7,2503.8 1338.8,2503.1 1336.9,2502.3 1335.1,2501.6 1333.3,2500.8 1331.4,2500.0 1329.6,2499.2 1327.8,2498.4 1326.0,2497.5 1324.2,2496.7 1322.4,2495.8 1320.6,2494.9 1318.8,2494.0 1317.1,2493.1 1315.3,2492.2 1313.6,2491.2 1311.9,2490.3 1310.1,2489.3 1308.4,2488.3 1306.7,2487.3 1305.0,2486.3 1303.3,2485.3 1301.6,2484.2 1299.9,2483.2 1298.3,2482.1 1296.6,2481.0 1295.0,2479.9 1293.3,2478.8 1291.7,2477.7 1290.0,2476.6 1288.4,2475.5 1286.8,2474.3 1285.2,2473.2 1283.5,2472.0 1281.9,2470.9 1280.3,2469.7 1278.7,2468.5 1277.2,2467.3 1275.6,2466.1 1274.0,2464.9 1272.4,2463.7 1270.8,2462.4 1269.3,2461.2 1267.7,2459.9 1266.2,2458.7 1264.6,2457.4 1263.1,2456.2 1261.5,2454.9 1260.0,2453.6 1258.4,2452.3 1256.9,2451.0 1255.4,2449.8 1253.8,2448.5 1252.3,2447.1 1250.8,2445.8 1249.3,2444.5 1247.7,2443.2 1246.2,2441.9 1244.7,2440.6 1243.2,2439.2 1241.7,2437.9 1240.2,2436.6 1238.7,2435.2 1237.1,2433.9 1235.6,2432.5 1234.1,2431.2 1232.6,2429.9 1231.1,2428.5 1229.6,2427.2 1228.1,2425.8 1226.6,2424.5 1225.1,2423.1 1223.6,2421.8 1222.1,2420.4 1220.6,2419.1 1219.1,2417.7 1217.6,2416.4 1216.0,2415.0 1214.5,2413.7 1213.0,2412.3 1211.5,2411.0 1210.0,2409.7 1208.5,2408.3 1207.0,2407.0 1205.4,2405.7 1203.9,2404.3 1202.4,2403.0 1200.8,2401.7 1199.3,2400.4 1197.8,2399.1 1196.2,2397.8 1194.7,2396.4 1193.2,2395.2 1191.6,2393.9 1190.0,2392.6 1188.5,2391.3 1186.9,2390.0 1185.4,2388.7 1183.8,2387.5 1182.2,2386.2 1180.6,2385.0 1179.0,2383.7 1177.5,2382.5 1175.9,2381.3 1174.3,2380.0 1172.7,2378.8 1171.0,2377.6 1169.4,2376.4 1167.8,2375.2 1166.2,2374.1 1164.5,2372.9 1162.9,2371.7 1161.2,2370.6 1159.6,2369.4 1157.9,2368.3 1156.2,2367.2 1154.6,2366.1 1152.9,2365.0 1151.2,2363.9 1149.5,2362.8 1147.8,2361.8 1146.1,2360.8 1144.4,2359.7 1142.6,2358.7 1140.9,2357.7 1139.2,2356.8 1137.4,2355.8 1135.7,2354.9 1133.9,2353.9 1132.1,2353.0 1130.4,2352.1 1128.6,2351.3 1126.8,2350.4 1125.0,2349.6 1123.2,2348.8 1121.4,2348.0 1119.6,2347.2 1117.7,2346.5 1115.9,2345.8 1114.1,2345.1 1112.2,2344.4 1110.4,2343.8 1108.5,2343.1 1106.6,2342.6 1104.7,2342.0 1102.9,2341.4 1101.0,2340.9 1099.1,2340.4 1097.2,2339.9 1095.2,2339.5 1093.3,2339.1 1091.4,2338.7 1089.5,2338.3 1087.5,2337.9 1085.6,2337.6 1083.7,2337.3 1081.7,2337.0 1079.7,2336.7 1077.8,2336.4 1075.8,2336.2 1073.8,2335.9 1071.9,2335.7 1069.9,2335.5 1067.9,2335.4 1065.9,2335.2 1063.9,2335.0 1061.9,2334.9 1059.9,2334.8 1057.9,2334.7 1055.9,2334.6 1053.9,2334.5 1051.9,2334.4 1049.9,2334.3 1047.9,2334.3 1045.9,2334.2 1043.8,2334.2 1041.8,2334.2 1039.8,2334.2 1037.8,2334.2 1035.8,2334.2 1033.7,2334.2 1031.7,2334.2 1029.7,2334.2 1027.6,2334.2 1025.6,2334.3 1023.6,2334.3 1021.6,2334.4 1019.5,2334.4 1017.5,2334.5 1015.5,2334.6 1013.4,2334.6 1011.4,2334.7 1009.4,2334.8 1007.4,2335.0 1005.3,2335.1 1003.3,2335.2 1001.3,2335.3 999.3,2335.5 997.2,2335.7 995.2,2335.8 993.2,2336.0 991.2,2336.2 989.2,2336.4 987.1,2336.6 985.1,2336.8 983.1,2337.0 981.1,2337.2 979.1,2337.5 977.1,2337.7 975.1,2338.0 973.1,2338.3 971.1,2338.5 969.1,2338.8 967.1,2339.1 965.1,2339.4 963.1,2339.8 961.1,2340.1 959.2,2340.4 957.2,2340.8 955.2,2341.1 953.2,2341.5 951.3,2341.9 949.3,2342.3 947.4,2342.7 945.4,2343.1 943.5,2343.5 941.5,2344.0 939.6,2344.4 937.6,2344.9 935.7,2345.3 933.8,2345.8 931.8,2346.3 929.9,2346.8 928.0,2347.3 926.1,2347.8 924.1,2348.3 922.2,2348.8 920.3,2349.3 918.4,2349.9 916.5,2350.4 914.6,2350.9 912.7,2351.5 910.8,2352.1 908.9,2352.6 907.0,2353.2 905.1,2353.8 903.2,2354.4 901.3,2355.0 899.4,2355.6 897.5,2356.2 895.6,2356.8 893.7,2357.4 891.9,2358.1 890.0,2358.7 888.1,2359.3 886.2,2360.0 884.3,2360.6 882.5,2361.3 880.6,2361.9 878.7,2362.6 876.9,2363.3 875.0,2363.9 873.1,2364.6 871.2,2365.3 869.4,2366.0 867.5,2366.6 865.6,2367.3 863.8,2368.0 861.9,2368.7 860.0,2369.4 858.2,2370.1 856.3,2370.8 854.4,2371.5 852.6,2372.2 850.7,2372.9 848.8,2373.6 847.0,2374.3 845.1,2375.1 843.2,2375.8 841.4,2376.5 839.5,2377.2 837.6,2377.9 835.8,2378.6 833.9,2379.3 832.0,2380.1 830.2,2380.8 828.3,2381.5 826.4,2382.2 824.5,2382.9 822.7,2383.7 820.8,2384.4 818.9,2385.1 817.0,2385.8 815.2,2386.5 813.3,2387.2 811.4,2387.9 809.5,2388.7 807.6,2389.4 805.7,2390.1 803.9,2390.8 802.0,2391.5 800.1,2392.2 798.2,2392.9 796.3,2393.6 794.4,2394.3 792.5,2395.0 790.6,2395.7 788.7,2396.5 786.9,2397.2 785.0,2397.9 783.1,2398.6 781.2,2399.3 779.3,2400.0 777.4,2400.7 775.5,2401.4 773.6,2402.2 771.7,2402.9 769.8,2403.6 768.0,2404.3 766.1,2405.0 764.2,2405.8 762.3,2406.5 760.4,2407.2 758.5,2407.9 756.6,2408.7 754.8,2409.4 752.9,2410.1 751.0,2410.9 749.1,2411.6 747.3,2412.4 745.4,2413.1 743.5,2413.9 741.6,2414.6 739.8,2415.4 737.9,2416.1 736.0,2416.9 734.2,2417.7 732.3,2418.5 730.5,2419.2 728.6,2420.0 726.7,2420.8 724.9,2421.6 723.0,2422.4 721.2,2423.2 719.4,2424.0 717.5,2424.8 715.7,2425.6 713.8,2426.4 712.0,2427.2 710.2,2428.1 708.4,2428.9 706.5,2429.7 704.7,2430.6 702.9,2431.4 701.1,2432.3 699.3,2433.1 697.5,2434.0 695.7,2434.9 693.9,2435.7 692.1,2436.6 690.3,2437.5 688.5,2438.4 686.7,2439.3 685.0,2440.2 683.2,2441.1 681.4,2442.1 679.7,2443.0 677.9,2443.9 676.1,2444.9 674.4,2445.8 672.7,2446.8 670.9,2447.7 669.2,2448.7 667.5,2449.7 665.7,2450.7 664.0,2451.7 662.3,2452.7 660.6,2453.7 658.9,2454.7 657.2,2455.8 655.5,2456.8 653.8,2457.9 652.1,2458.9 650.5,2460.0 648.8,2461.1 647.1,2462.1 645.5,2463.2 643.8,2464.3 642.2,2465.5 640.6,2466.6 638.9,2467.7 637.3,2468.9 635.7,2470.0 634.1,2471.2 632.5,2472.3 630.9,2473.5 629.3,2474.7 627.7,2475.9 626.1,2477.1 624.6,2478.4 623.0,2479.6 621.5,2480.8 619.9,2482.1 618.4,2483.3 616.8,2484.6 615.3,2485.9 613.8,2487.2 612.3,2488.5 610.8,2489.8 609.3,2491.1 607.8,2492.5 606.4,2493.8 604.9,2495.2 603.4,2496.6 602.0,2497.9 600.6,2499.3 599.1,2500.7 595.6,2504.2 594.2,2505.6 592.8,2507.1 591.4,2508.5 590.0,2510.0 588.7,2511.4 587.3,2512.9 586.0,2514.4 584.6,2515.9 583.3,2517.4 582.0,2518.9 580.6,2520.4 579.3,2522.0 578.0,2523.5 576.8,2525.1 575.5,2526.6 574.2,2528.2 573.0,2529.8 571.8,2531.4 570.5,2533.0 569.3,2534.6 568.1,2536.2 566.9,2537.8 565.8,2539.4 564.6,2541.1 563.4,2542.7 562.3,2544.4 561.2,2546.0 560.1,2547.7 559.0,2549.4 557.9,2551.0 556.8,2552.7 555.7,2554.4 554.7,2556.1 553.7,2557.8 552.6,2559.5 551.6,2561.2 550.6,2563.0 549.6,2564.7 548.7,2566.4 547.7,2568.2 546.8,2569.9 545.8,2571.7 544.9,2573.4 544.0,2575.2 543.0,2576.9 542.1,2578.7 541.2,2580.5 540.4,2582.3 539.5,2584.0 538.6,2585.8 537.8,2587.6 536.9,2589.4 536.1,2591.2 535.2,2593.0 534.4,2594.8 533.6,2596.6 532.7,2598.4 531.9,2600.3 531.1,2602.1 530.3,2603.9 529.5,2605.7 528.7,2607.5 527.9,2609.4 527.1,2611.2 526.3,2613.0 525.6,2614.9 524.8,2616.7 524.0,2618.6 523.3,2620.4 522.5,2622.3 521.7,2624.1 521.0,2626.0 520.2,2627.8 519.5,2629.7 518.7,2631.5 518.0,2633.4 517.3,2635.3 516.5,2637.1 515.8,2639.0 515.1,2640.9 514.3,2642.7 513.6,2644.6 512.9,2646.5 512.2,2648.4 511.5,2650.2 510.7,2652.1 510.0,2654.0 509.3,2655.9 508.6,2657.7 507.9,2659.6 507.2,2661.5 506.5,2663.4 505.8,2665.3 505.1,2667.2 504.4,2669.0 503.7,2670.9 503.0,2672.8 502.3,2674.7 501.6,2676.6 500.9,2678.5 500.3,2680.3 499.6,2682.2 498.9,2684.1 498.2,2686.0 497.5,2687.9 496.8,2689.8 496.1,2691.6 495.4,2693.5 494.7,2695.4 494.1,2697.3 493.4,2699.2 492.7,2701.1 492.0,2702.9 491.3,2704.8 490.7,2706.7 490.0,2708.6 489.3,2710.5 488.7,2712.4 488.0,2714.3 487.4,2716.2 486.7,2718.1 486.1,2720.0 485.5,2721.9 484.9,2723.8 484.2,2725.7 483.6,2727.6 483.0,2729.5 482.4,2731.4 481.9,2733.3 481.3,2735.2 480.7,2737.1 480.2,2739.1 479.6,2741.0 479.1,2742.9 478.6,2744.8 478.0,2746.8 477.5,2748.7 477.0,2750.6 476.5,2752.6 476.0,2754.5 475.5,2756.4 475.0,2758.4 474.5,2760.3 474.0,2762.3 473.5,2764.2 473.0,2766.1 472.6,2768.1 472.1,2770.0 471.6,2772.0 471.0,2773.9 470.5,2775.8 470.0,2777.7 469.5,2779.7 469.0,2781.6 468.4,2783.5 467.9,2785.4 467.3,2787.4 466.7,2789.3 466.2,2791.2 465.6,2793.1 465.0,2795.0 464.3,2796.9 463.7,2798.8 463.0,2800.7 462.4,2802.5 461.7,2804.4 461.0,2806.3 460.3,2808.1 459.5,2810.0" fill="#000"/>
<polygon points="451.1,2795.3 472.1,2795.3 472.1,2803.7 476.3,2803.7 476.3,2820.5 472.1,2820.5 472.1,2824.7 451.1,2824.7 451.1,2820.5 446.9,2820.5 446.9,2803.7 451.1,2803.7" fill="#000"/>
<polygon points="603.3,2277.1 624.3,2277.1 624.3,2285.5 628.5,2285.5 628.5,2302.3 624.3,2302.3 624.3,2306.5 603.3,2306.5 603.3,2302.3 599.1,2302.3 599.1,2285.5 603.3,2285.5" fill="#000"/>
<polygon points="755.6,2652.4 776.6,2652.4 776.6,2660.8 780.8,2660.8 780.8,2677.6 776.6,2677.6 776.6,2681.8 755.6,2681.8 755.6,2677.6 751.4,2677.6 751.4,2660.8 755.6,2660.8" fill="#000"/>
<polygon points="907.8,2588.1 928.8,2588.1 928.8,2596.5 933.0,2596.5 933.0,2613.3 928.8,2613.3 928.8,2617.5 907.8,2617.5 907.8,2613.3 903.6,2613.3 903.6,2596.5 907.8,2596.5" fill="#000"/>
<polygon points="1060.0,2584.3 1081.0,2584.3 1081.0,2592.7 1085.2,2592.7 1085.2,2609.5 1081.0,2609.5 1081.0,2613.7 1060.0,2613.7 1060.0,2609.5 1055.8,2609.5 1055.8,2592.7 1060.0,2592.7" fill="#000"/>
<polygon points="1364.5,2758.0 1385.5,2758.0 1385.5,2766.4 1389.7,2766.4 1389.7,2783.2 1385.5,2783.2 1385.5,2787.4 1364.5,2787.4 1364.5,2783.2 1360.3,2783.2 1360.3,2766.4 1364.5,2766.4" fill="#000"/>
<polygon points="1668.7,2634.8 1689.7,2634.8 1689.7,2643.2 1693.9,2643.2 1693.9,2660.0 1689.7,2660.0 1689.7,2664.2 1668.7,2664.2 1668.7,2660.0 1664.5,2660.0 1664.5,2643.2 1668.7,2643.2" fill="#000"/>
<polygon points="451.1,2795.3 472.1,2795.3 472.1,2803.7 476.3,2803.7 476.3,2820.5 472.1,2820.5 472.1,2824.7 451.1,2824.7 451.1,2820.5 446.9,2820.5 446.9,2803.7 451.1,2803.7" fill="#000"/><polygon points="455.3,2799.5 467.9,2799.5 467.9,2803.7 472.1,2803.7 472.1,2816.3 467.9,2816.3 467.9,2820.5 455.3,2820.5 455.3,2816.3 451.1,2816.3 451.1,2803.7 455.3,2803.7" fill="#fff"/>
<polygon points="603.3,2081.8 624.3,2081.8 624.3,2090.2 628.5,2090.2 628.5,2107.0 624.3,2107.0 624.3,2111.2 603.3,2111.2 603.3,2107.0 599.1,2107.0 599.1,2090.2 603.3,2090.2" fill="#000"/><polygon points="607.5,2086.0 620.1,2086.0 620.1,2090.2 624.3,2090.2 624.3,2102.8 620.1,2102.8 620.1,2107.0 607.5,2107.0 607.5,2102.8 603.3,2102.8 603.3,2090.2 607.5,2090.2" fill="#fff"/>
<polygon points="755.6,1972.3 776.6,1972.3 776.6,1980.7 780.8,1980.7 780.8,1997.5 776.6,1997.5 776.6,2001.7 755.6,2001.7 755.6,1997.5 751.4,1997.5 751.4,1980.7 755.6,1980.7" fill="#000"/><polygon points="759.8,1976.5 772.4,1976.5 772.4,1980.7 776.6,1980.7 776.6,1993.3 772.4,1993.3 772.4,1997.5 759.8,1997.5 759.8,1993.3 755.6,1993.3 755.6,1980.7 759.8,1980.7" fill="#fff"/>
<polygon points="907.8,2033.1 928.8,2033.1 928.8,2041.5 933.0,2041.5 933.0,2058.3 928.8,2058.3 928.8,2062.5 907.8,2062.5 907.8,2058.3 903.6,2058.3 903.6,2041.5 907.8,2041.5" fill="#000"/><polygon points="912.0,2037.3 924.6,2037.3 924.6,2041.5 928.8,2041.5 928.8,2054.1 924.6,2054.1 924.6,2058.3 912.0,2058.3 912.0,2054.1 907.8,2054.1 907.8,2041.5 912.0,2041.5" fill="#fff"/>
<polygon points="1060.2,1963.0 1081.2,1963.0 1081.2,1971.4 1085.4,1971.4 1085.4,1988.2 1081.2,1988.2 1081.2,1992.4 1060.2,1992.4 1060.2,1988.2 1056.0,1988.2 1056.0,1971.4 1060.2,1971.4" fill="#000"/><polygon points="1064.4,1967.2 1077.0,1967.2 1077.0,1971.4 1081.2,1971.4 1081.2,1984.0 1077.0,1984.0 1077.0,1988.2 1064.4,1988.2 1064.4,1984.0 1060.2,1984.0 1060.2,1971.4 1064.4,1971.4" fill="#fff"/>
<polygon points="1364.4,2069.1 1385.4,2069.1 1385.4,2077.5 1389.6,2077.5 1389.6,2094.3 1385.4,2094.3 1385.4,2098.5 1364.4,2098.5 1364.4,2094.3 1360.2,2094.3 1360.2,2077.5 1364.4,2077.5" fill="#000"/><polygon points="1368.6,2073.3 1381.2,2073.3 1381.2,2077.5 1385.4,2077.5 1385.4,2090.1 1381.2,2090.1 1381.2,2094.3 1368.6,2094.3 1368.6,2090.1 1364.4,2090.1 1364.4,2077.5 1368.6,2077.5" fill="#fff"/>
<polygon points="1669.0,2220.9 1690.0,2220.9 1690.0,2229.3 1694.2,2229.3 1694.2,2246.1 1690.0,2246.1 1690.0,2250.3 1669.0,2250.3 1669.0,2246.1 1664.8,2246.1 1664.8,2229.3 1669.0,2229.3" fill="#000"/><polygon points="1673.2,2225.1 1685.8,2225.1 1685.8,2229.3 1690.0,2229.3 1690.0,2241.9 1685.8,2241.9 1685.8,2246.1 1673.2,2246.1 1673.2,2241.9 1669.0,2241.9 1669.0,2229.3 1673.2,2229.3" fill="#fff"/>
<rect x="446.9" y="2795.3" width="29.4" height="29.4" fill="#000"/>
<rect x="599.1" y="2103.0" width="29.4" height="29.4" fill="#000"/>
<rect x="751.4" y="2052.5" width="29.4" height="29.4" fill="#000"/>
<rect x="903.6" y="2004.9" width="29.4" height="29.4" fill="#000"/>
<rect x="1056.3" y="1933.5" width="29.4" height="29.4" fill="#000"/>
<rect x="1360.4" y="1959.2" width="29.4" height="29.4" fill="#000"/>
<rect x="1664.1" y="1946.3" width="29.4" height="29.4" fill="#000"/>
<rect x="446.9" y="2795.3" width="29.4" height="29.4" fill="#000"/><rect x="451.1" y="2799.5" width="21.0" height="21.0" fill="#fff"/>
<rect x="599.1" y="2461.4" width="29.4" height="29.4" fill="#000"/><rect x="603.3" y="2465.6" width="21.0" height="21.0" fill="#fff"/>
<rect x="751.4" y="2393.4" width="29.4" height="29.4" fill="#000"/><rect x="755.6" y="2397.6" width="21.0" height="21.0" fill="#fff"/>
<rect x="903.6" y="2334.8" width="29.4" height="29.4" fill="#000"/><rect x="907.8" y="2339.0" width="21.0" height="21.0" fill="#fff"/>
<rect x="1055.8" y="2313.7" width="29.4" height="29.4" fill="#000"/><rect x="1060.0" y="2317.9" width="21.0" height="21.0" fill="#fff"/>
<rect x="1360.6" y="2508.4" width="29.4" height="29.4" fill="#000"/><rect x="1364.8" y="2512.6" width="21.0" height="21.0" fill="#fff"/>
<rect x="1664.2" y="2305.3" width="29.4" height="29.4" fill="#000"/><rect x="1668.4" y="2309.5" width="21.0" height="21.0" fill="#fff"/>
<text transform="translate(1012.28 3406.69) scale(0.9052 1)" font-size="86.02" font-family="Liberation Serif, sans-serif" font-weight="normal">(</text>
<text transform="translate(1038.84 3406.73) scale(1.0203 1)" font-size="89.25" font-family="Liberation Serif, sans-serif" font-weight="bold">b</text>
<text transform="translate(1090.68 3406.69) scale(0.9098 1)" font-size="86.02" font-family="Liberation Serif, sans-serif" font-weight="normal">)</text>
</svg>
</body></html>
